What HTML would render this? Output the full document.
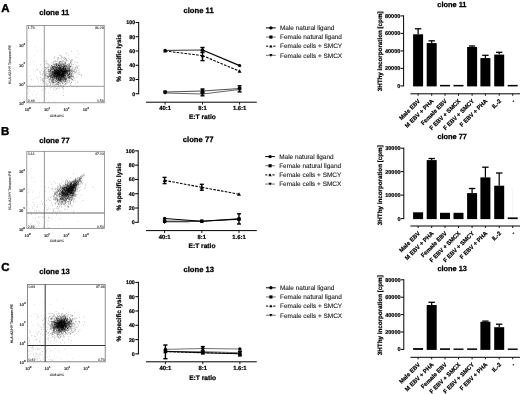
<!DOCTYPE html>
<html><head><meta charset="utf-8"><title>Figure</title>
<style>
html,body{margin:0;padding:0;background:#fff;overflow:hidden;}
svg{display:block;font-family:'Liberation Sans', Arial, sans-serif;text-rendering:geometricPrecision;}
</style></head>
<body>
<svg width="520" height="394" viewBox="0 0 520 394">
<defs><filter id="soft" x="0" y="0" width="100%" height="100%" filterUnits="userSpaceOnUse" color-interpolation-filters="sRGB"><feGaussianBlur stdDeviation="0.4"/></filter></defs>
<rect width="520" height="394" fill="#fff"/>
<g filter="url(#soft)">
<rect width="520" height="394" fill="#fff"/>
<text x="1.30" y="12.10" font-size="11.5" font-weight="bold" stroke="#000" stroke-width="0.40" text-anchor="start" fill="#000">A</text>
<text x="0.90" y="134.80" font-size="11.5" font-weight="bold" stroke="#000" stroke-width="0.40" text-anchor="start" fill="#000">B</text>
<text x="1.30" y="270.60" font-size="11.5" font-weight="bold" stroke="#000" stroke-width="0.40" text-anchor="start" fill="#000">C</text>
<text x="39.30" y="15.00" font-size="7.6" font-weight="bold" stroke="#000" stroke-width="0.27" text-anchor="start" fill="#000">clone 11</text>
<path d="M61.8 79.9h.55M51.7 72.5h.55M61.0 69.7h.55M56.4 73.6h.55M52.7 64.8h.55M50.3 75.2h.55M55.6 73.4h.55M63.0 74.6h.55M54.7 73.4h.55M62.0 76.1h.55M63.1 63.6h.55M56.6 70.2h.55M70.5 65.3h.55M61.1 66.0h.55M69.2 70.4h.55M54.2 73.3h.55M65.1 73.5h.55M55.2 72.7h.55M58.2 79.2h.55M60.0 68.4h.55M58.2 74.8h.55M51.3 68.3h.55M62.8 67.4h.55M70.8 70.4h.55M55.7 70.1h.55M52.8 79.6h.55M56.8 76.1h.55M52.2 67.8h.55M57.1 77.1h.55M71.3 71.5h.55M62.7 76.4h.55M62.7 72.0h.55M56.6 69.1h.55M56.2 73.4h.55M56.2 71.1h.55M54.3 77.9h.55M62.0 75.8h.55M55.0 84.3h.55M71.0 74.6h.55M57.0 73.3h.55M68.0 77.5h.55M68.6 73.5h.55M49.6 67.1h.55M59.9 65.7h.55M60.8 81.0h.55M44.9 67.5h.55M64.6 75.4h.55M51.0 77.9h.55M65.0 73.1h.55M59.8 71.8h.55M65.1 73.5h.55M58.0 73.0h.55M59.4 66.0h.55M64.8 78.2h.55M59.0 65.2h.55M52.6 78.0h.55M47.2 77.0h.55M60.6 64.7h.55M55.8 88.4h.55M64.1 68.1h.55M55.1 69.7h.55M61.1 70.6h.55M60.5 78.8h.55M61.2 77.6h.55M63.1 73.8h.55M70.9 61.7h.55M54.2 71.3h.55M57.3 76.7h.55M53.1 79.4h.55M53.6 74.2h.55M63.2 67.9h.55M61.3 66.3h.55M63.2 71.4h.55M58.0 71.6h.55M71.7 69.1h.55M60.2 78.8h.55M55.5 70.7h.55M67.4 81.8h.55M58.1 83.6h.55M45.7 72.6h.55M58.3 75.9h.55M57.4 76.7h.55M59.0 74.2h.55M68.9 69.3h.55M64.8 72.2h.55M63.8 75.2h.55M55.5 75.9h.55M58.2 73.9h.55M62.5 71.3h.55M63.6 74.0h.55M60.8 75.9h.55M69.5 75.0h.55M63.6 67.8h.55M60.4 69.7h.55M57.4 70.5h.55M65.3 66.7h.55M52.0 75.5h.55M67.2 70.8h.55M72.2 79.2h.55M70.0 72.6h.55M54.5 66.5h.55M59.7 78.5h.55M57.5 75.1h.55M54.4 75.4h.55M57.8 72.9h.55M54.7 69.2h.55M54.4 71.8h.55M67.2 72.8h.55M51.1 80.8h.55M64.2 75.5h.55M62.6 71.4h.55M56.0 61.3h.55M57.3 68.0h.55M62.1 64.1h.55M67.9 65.4h.55M57.4 82.9h.55M61.8 78.4h.55M58.7 62.7h.55M59.8 75.4h.55M63.1 73.7h.55M55.2 69.5h.55M68.7 69.1h.55M60.8 70.7h.55M56.6 83.5h.55M63.6 75.7h.55M55.3 78.2h.55M53.0 72.8h.55M58.5 84.5h.55M54.2 71.2h.55M58.2 80.4h.55M56.9 70.7h.55M48.7 69.3h.55M56.9 73.7h.55M69.1 77.0h.55M56.1 67.6h.55M55.7 71.8h.55M70.6 66.0h.55M59.3 76.6h.55M59.1 73.4h.55M56.8 72.7h.55M53.0 75.8h.55M59.0 76.2h.55M65.4 67.4h.55M51.2 77.4h.55M62.2 74.1h.55M63.4 73.4h.55M64.5 73.1h.55M71.7 76.8h.55M60.8 63.9h.55M60.8 70.6h.55M57.3 67.3h.55M63.0 92.1h.55M68.3 72.3h.55M62.2 73.3h.55M69.4 63.8h.55M57.1 73.5h.55M48.9 72.3h.55M63.3 88.0h.55M63.3 66.9h.55M60.1 72.6h.55M55.0 75.1h.55M64.9 72.6h.55M45.8 84.1h.55M76.8 67.2h.55M66.3 74.5h.55M64.0 82.4h.55M55.6 79.1h.55M58.8 73.0h.55M59.9 80.1h.55M56.2 72.1h.55M52.5 76.2h.55M59.3 68.7h.55M62.5 68.6h.55M78.6 73.0h.55M56.2 72.8h.55M54.3 77.0h.55M54.0 61.0h.55M62.2 75.2h.55M52.9 85.2h.55M49.5 69.6h.55M74.3 71.8h.55M61.3 77.8h.55M61.1 73.8h.55M69.9 72.5h.55M63.2 73.9h.55M57.0 73.1h.55M58.0 73.4h.55M56.1 76.8h.55M62.5 68.9h.55M49.2 75.5h.55M54.5 76.7h.55M62.3 68.1h.55M59.7 74.4h.55M54.3 67.6h.55M63.5 71.3h.55M46.7 63.8h.55M56.5 70.9h.55M56.6 71.2h.55M60.1 81.5h.55M58.5 75.7h.55M56.6 69.8h.55M56.4 72.8h.55M64.9 71.2h.55M62.5 76.3h.55M59.5 70.1h.55M52.6 80.6h.55M53.1 78.3h.55M60.0 70.6h.55M63.1 77.2h.55M57.1 65.6h.55M58.1 65.6h.55M57.2 67.1h.55M67.9 71.2h.55M58.0 64.3h.55M58.7 85.3h.55M71.8 79.5h.55M63.5 69.1h.55M58.9 65.2h.55M52.8 77.8h.55M64.2 70.1h.55M68.8 68.4h.55M51.7 65.9h.55M62.9 72.9h.55M55.6 81.7h.55M61.7 68.3h.55M56.7 71.9h.55M63.5 77.8h.55M50.1 77.3h.55M62.0 75.5h.55M71.5 69.4h.55M70.1 83.1h.55M55.8 74.9h.55M57.4 59.7h.55M58.1 82.5h.55M65.5 75.1h.55M53.3 66.3h.55M56.3 81.5h.55M58.5 73.0h.55M52.9 66.5h.55M61.0 78.4h.55M69.1 75.7h.55M59.4 61.6h.55M59.2 67.8h.55M56.3 67.5h.55M52.5 71.0h.55M56.9 70.5h.55M63.8 78.4h.55M58.1 71.3h.55M69.4 76.5h.55M55.0 72.6h.55M57.0 68.1h.55M65.0 66.9h.55M58.3 75.0h.55M65.7 75.3h.55M55.5 75.2h.55M53.2 73.3h.55M61.4 75.1h.55M61.4 76.9h.55M69.8 77.9h.55M64.5 70.7h.55M69.3 73.5h.55M53.8 80.7h.55M52.6 66.5h.55M64.1 69.1h.55M67.4 76.9h.55M58.8 73.1h.55M55.6 68.9h.55M64.2 66.8h.55M57.5 75.5h.55M58.1 79.4h.55M67.5 67.6h.55M57.1 66.3h.55M64.8 77.1h.55M54.9 80.4h.55M59.4 71.9h.55M52.8 73.0h.55M59.9 80.3h.55M61.3 69.1h.55M61.0 75.9h.55M57.3 74.6h.55M54.2 65.8h.55M65.5 72.2h.55M63.7 64.4h.55M66.0 66.0h.55M59.6 67.4h.55M61.1 82.0h.55M62.8 79.1h.55M56.6 67.7h.55M60.1 67.4h.55M53.6 68.4h.55M52.8 78.2h.55M73.6 73.2h.55M49.3 71.7h.55M51.3 65.5h.55M56.0 64.9h.55M54.4 64.7h.55M76.7 70.2h.55M45.1 74.0h.55M55.1 75.0h.55M62.9 75.4h.55M48.1 69.6h.55M57.1 75.7h.55M71.1 78.5h.55M46.6 71.6h.55M49.5 76.3h.55M63.3 80.3h.55M59.1 75.0h.55M52.6 82.2h.55M52.4 67.4h.55M71.3 75.8h.55M65.9 72.0h.55M66.3 70.0h.55M70.3 78.9h.55M66.1 70.4h.55M63.0 78.7h.55M68.6 70.2h.55M62.1 75.2h.55M56.4 71.4h.55M58.0 71.4h.55M57.0 73.2h.55M64.0 71.6h.55M61.2 85.1h.55M63.5 73.6h.55M47.9 65.0h.55M68.9 63.7h.55M64.4 85.1h.55M59.4 79.8h.55M57.7 60.0h.55M75.7 73.9h.55M56.9 66.6h.55M50.9 67.1h.55M55.2 82.3h.55M63.0 65.9h.55M53.2 68.8h.55M52.9 68.4h.55M55.2 74.8h.55M61.3 67.6h.55M55.7 63.7h.55M61.1 70.4h.55M54.0 67.7h.55M49.0 74.4h.55M69.0 77.9h.55M49.5 74.9h.55M65.5 71.4h.55M63.8 70.1h.55M51.1 77.7h.55M59.6 74.9h.55M61.6 77.1h.55M54.1 72.6h.55M63.0 85.4h.55M57.1 72.7h.55M47.5 76.6h.55M67.7 74.4h.55M64.8 68.7h.55M57.8 72.8h.55M63.8 68.7h.55M65.4 77.8h.55M63.6 68.7h.55M46.7 73.8h.55M52.9 82.3h.55M58.8 65.4h.55M58.2 77.1h.55M54.2 75.0h.55M54.7 82.2h.55M68.6 78.3h.55M58.1 70.3h.55M64.8 81.9h.55M51.3 65.6h.55M59.3 72.3h.55M60.3 70.0h.55M70.2 74.7h.55M65.2 69.3h.55M62.6 68.1h.55M56.0 76.2h.55M62.7 66.9h.55M64.3 77.0h.55M59.6 74.3h.55M61.6 71.0h.55M55.9 63.9h.55M49.0 71.8h.55M65.5 78.7h.55M58.7 73.5h.55M61.2 63.9h.55M60.7 79.3h.55M67.6 78.2h.55M65.8 67.1h.55M56.9 73.8h.55M54.7 70.4h.55M63.5 61.5h.55M65.7 65.3h.55M69.2 71.9h.55M61.1 61.6h.55M43.6 73.1h.55M69.5 76.9h.55M51.1 69.1h.55M67.5 65.1h.55M52.6 73.4h.55M64.9 71.3h.55M50.5 68.0h.55M60.3 65.2h.55M49.4 86.1h.55M54.0 73.9h.55M52.8 63.4h.55M56.3 66.6h.55M67.0 66.9h.55M63.0 75.2h.55M56.1 75.5h.55M66.8 74.6h.55M62.5 78.7h.55M61.5 57.2h.55M66.1 83.0h.55M56.8 72.8h.55M55.3 77.1h.55M56.4 71.1h.55M59.8 74.1h.55M62.3 66.0h.55M60.6 78.1h.55M56.8 76.6h.55M60.8 87.0h.55M60.0 78.7h.55M48.1 76.7h.55M59.9 78.7h.55M50.1 77.5h.55M57.9 74.0h.55M69.1 76.4h.55M59.0 63.7h.55M58.3 63.9h.55M66.2 71.2h.55M67.2 76.7h.55M69.4 71.6h.55M58.8 81.4h.55M54.7 75.8h.55M59.4 72.8h.55M52.0 71.7h.55M56.6 73.4h.55M58.1 72.1h.55M45.9 73.5h.55M58.8 74.8h.55M56.9 76.4h.55M58.8 78.7h.55M69.2 70.3h.55M67.8 71.9h.55M65.7 66.0h.55M62.4 80.0h.55M56.9 75.5h.55M49.9 70.7h.55M72.1 67.1h.55M63.5 78.8h.55M44.9 70.1h.55M47.1 85.4h.55M55.4 76.4h.55M45.2 77.8h.55M63.0 72.8h.55M69.0 72.9h.55M61.1 74.5h.55M56.1 68.3h.55M50.4 70.2h.55M52.1 66.5h.55M56.4 69.5h.55M58.7 69.8h.55M71.6 63.4h.55M60.4 76.3h.55M65.7 59.5h.55M64.9 70.4h.55M62.6 67.7h.55M56.2 79.5h.55M54.0 69.6h.55M59.2 72.2h.55M70.0 74.9h.55M58.7 70.7h.55M52.4 79.5h.55M56.5 80.7h.55M53.6 67.9h.55M63.8 77.4h.55M64.7 71.8h.55M59.7 81.1h.55M53.3 79.9h.55M62.4 77.3h.55M56.5 73.1h.55M52.4 78.0h.55M66.5 78.1h.55M62.4 75.5h.55M69.2 70.1h.55M64.3 66.3h.55M74.9 80.4h.55M61.2 73.9h.55M53.0 74.4h.55M54.8 67.0h.55M58.1 71.2h.55M57.2 74.8h.55M65.7 61.0h.55M67.3 74.9h.55M58.0 75.8h.55M68.3 55.6h.55M63.3 70.1h.55M64.2 73.7h.55M59.2 66.6h.55M65.6 72.1h.55M59.4 72.7h.55M45.7 75.7h.55M57.8 68.1h.55M63.0 74.9h.55M56.3 73.1h.55M57.7 73.9h.55M66.6 52.8h.55M47.1 81.3h.55M57.7 64.0h.55M69.8 77.5h.55M76.6 66.2h.55M54.9 75.2h.55M55.2 73.6h.55M43.8 72.0h.55M68.7 71.8h.55M51.2 75.2h.55M52.8 72.1h.55M69.4 77.9h.55M52.7 83.5h.55M60.9 66.2h.55M66.8 69.6h.55M57.2 76.5h.55M69.1 71.3h.55M60.0 73.4h.55M59.8 71.8h.55M56.6 74.6h.55M57.6 69.8h.55M57.4 73.0h.55M73.7 71.5h.55M63.0 77.1h.55M60.8 72.1h.55M58.7 73.2h.55M60.0 63.0h.55M46.4 68.2h.55M63.1 75.6h.55M58.5 76.5h.55M57.2 80.7h.55M62.5 88.2h.55M66.5 72.2h.55M61.4 69.5h.55M60.4 80.8h.55M63.3 68.0h.55M56.4 77.0h.55M49.6 81.7h.55M58.1 71.6h.55M58.4 72.4h.55M68.4 70.5h.55M60.7 71.4h.55M65.2 80.7h.55M57.1 78.9h.55M62.2 66.6h.55M62.1 73.6h.55M61.8 71.3h.55M54.6 76.2h.55M65.4 68.9h.55M64.3 72.6h.55M66.9 69.9h.55M55.8 74.3h.55M64.7 68.1h.55M60.0 75.6h.55M54.7 73.7h.55M70.2 77.8h.55M58.8 75.5h.55M56.6 68.2h.55M62.3 73.6h.55M53.8 75.1h.55M78.7 66.0h.55M59.8 80.1h.55M59.4 86.9h.55M53.3 82.3h.55M52.2 67.6h.55M55.7 77.5h.55M64.1 74.9h.55M56.7 71.3h.55M60.4 71.3h.55M58.0 71.2h.55M53.8 64.1h.55M59.2 63.8h.55M63.7 74.7h.55M59.7 72.4h.55M61.9 81.0h.55M68.1 75.4h.55M68.6 67.8h.55M57.7 68.9h.55M59.8 77.0h.55M67.2 70.4h.55M59.4 62.3h.55M59.9 68.5h.55M50.5 70.9h.55M48.8 73.3h.55M49.0 79.1h.55M58.4 77.8h.55M56.6 81.7h.55M48.9 74.3h.55M63.6 57.0h.55M63.5 76.1h.55M57.9 74.2h.55M61.2 69.0h.55M62.3 74.4h.55M71.9 73.4h.55M68.7 69.5h.55M63.3 69.9h.55M64.7 65.1h.55M59.8 66.9h.55M44.3 75.2h.55M63.2 68.9h.55M62.9 58.4h.55M62.1 74.0h.55M69.2 70.2h.55M67.4 70.5h.55M58.6 76.0h.55M56.3 70.0h.55M54.0 72.2h.55M59.0 77.1h.55M60.0 65.8h.55M54.6 68.3h.55M63.8 65.6h.55M54.6 73.5h.55M74.9 72.5h.55M50.1 85.7h.55M63.6 72.2h.55M58.3 78.3h.55M58.2 67.3h.55M56.4 77.3h.55M67.6 68.6h.55M58.4 73.3h.55M58.0 77.8h.55M56.6 73.2h.55M69.2 73.5h.55M54.4 85.4h.55M60.2 72.6h.55M53.4 82.7h.55M59.0 77.1h.55M65.6 74.4h.55M64.9 70.6h.55M60.1 70.2h.55M71.7 64.8h.55M57.9 73.1h.55M63.1 74.3h.55M57.1 78.4h.55M65.0 71.4h.55M60.8 67.7h.55M69.1 69.6h.55M68.6 82.2h.55M60.3 71.5h.55M65.3 81.6h.55M65.6 70.3h.55M64.6 70.8h.55M61.9 78.3h.55M68.7 70.1h.55M49.4 73.1h.55M59.8 67.9h.55M75.9 67.5h.55M52.2 72.5h.55M71.8 70.8h.55M61.1 78.0h.55M54.1 73.1h.55M54.9 64.3h.55M53.5 75.7h.55M55.0 80.2h.55M61.6 71.5h.55M62.3 60.7h.55M61.1 73.3h.55M67.8 74.4h.55M60.2 75.3h.55M62.1 62.4h.55M56.2 77.3h.55M60.1 70.4h.55M61.6 71.6h.55M60.2 61.6h.55M53.0 66.6h.55M61.7 70.6h.55M56.1 65.0h.55M53.7 78.3h.55M57.3 80.6h.55M60.2 55.4h.55M60.0 80.1h.55M52.1 72.2h.55M61.0 74.1h.55M70.1 66.2h.55M66.3 79.8h.55M66.4 79.7h.55M57.4 64.4h.55M45.0 71.9h.55M58.8 82.7h.55M61.4 65.7h.55M53.7 75.1h.55M65.9 65.2h.55M63.8 77.1h.55M62.7 75.7h.55M51.8 82.3h.55M53.1 81.8h.55M71.7 76.2h.55M57.8 72.9h.55M64.3 62.9h.55M66.8 70.8h.55M66.0 66.6h.55M64.8 75.2h.55M61.6 71.6h.55M51.4 73.7h.55M54.7 68.6h.55M58.2 74.1h.55M58.2 70.8h.55M65.9 69.5h.55M64.4 77.3h.55M52.6 68.4h.55M55.4 71.6h.55M56.5 71.3h.55M70.5 75.4h.55M55.4 67.5h.55M70.8 66.8h.55M66.7 68.9h.55M58.4 81.5h.55M64.3 79.3h.55M52.2 72.8h.55M71.5 74.2h.55M59.8 86.0h.55M52.4 79.5h.55M48.1 70.6h.55M58.4 71.9h.55M50.2 79.0h.55M80.8 74.4h.55M66.7 75.3h.55M63.3 73.3h.55M56.4 75.1h.55M67.9 78.4h.55M57.5 73.6h.55M54.8 71.6h.55M48.7 77.6h.55M58.2 75.4h.55M63.7 65.4h.55M59.1 75.2h.55M52.4 77.8h.55M67.4 73.7h.55M56.4 79.6h.55M56.0 67.4h.55M51.7 71.4h.55M54.0 66.1h.55M54.1 70.4h.55M55.9 84.0h.55M51.0 69.2h.55M64.4 66.9h.55M56.4 76.0h.55M59.4 74.9h.55M57.4 77.4h.55M49.5 75.8h.55M55.9 63.9h.55M67.0 67.1h.55M67.5 72.0h.55M52.9 72.6h.55M62.2 69.5h.55M58.3 70.4h.55M57.8 75.2h.55M59.0 77.4h.55M60.0 73.7h.55M49.1 75.9h.55M55.2 74.6h.55M62.1 69.7h.55M65.0 71.5h.55M63.1 69.7h.55M52.3 74.4h.55M53.4 76.3h.55M53.8 71.3h.55M63.1 86.6h.55M56.5 79.5h.55M59.9 77.7h.55M65.9 66.4h.55M58.6 77.8h.55M62.3 71.2h.55M62.0 71.2h.55M65.2 63.4h.55M57.9 63.8h.55M65.0 67.7h.55M66.9 72.1h.55M62.7 71.6h.55M65.1 67.2h.55M57.5 75.5h.55M63.5 73.8h.55M59.2 73.9h.55M49.8 73.6h.55M58.2 75.6h.55M59.8 66.3h.55M56.3 75.3h.55M59.9 72.9h.55M58.7 68.1h.55M55.7 64.0h.55M58.1 65.0h.55M63.4 75.6h.55M61.1 69.7h.55M56.7 72.1h.55M62.1 69.8h.55M52.0 78.7h.55M55.5 67.3h.55M54.5 67.1h.55M55.6 67.7h.55M45.8 67.5h.55M54.0 78.8h.55M70.8 68.1h.55M53.1 80.9h.55M69.6 66.8h.55M65.9 65.1h.55M67.0 80.7h.55M59.1 71.6h.55M63.3 75.2h.55M54.7 69.0h.55M49.7 69.6h.55M62.7 74.2h.55M49.3 73.8h.55M60.5 79.6h.55M58.2 79.3h.55M54.3 75.6h.55M57.8 78.3h.55M62.9 80.5h.55M71.1 64.2h.55M52.1 77.2h.55M64.8 73.2h.55M52.8 71.6h.55M55.4 73.2h.55M60.9 71.9h.55M51.8 68.8h.55M63.5 75.2h.55M65.4 62.2h.55M56.8 73.5h.55M61.4 72.9h.55M70.6 85.5h.55M65.7 68.5h.55M68.4 67.8h.55M51.0 75.3h.55M55.9 71.1h.55M49.4 76.6h.55M69.1 74.1h.55M63.5 74.9h.55M59.8 74.1h.55M58.1 68.1h.55M70.9 74.7h.55M61.6 73.7h.55M60.1 61.3h.55M70.2 77.3h.55M64.5 69.1h.55M68.5 67.1h.55M62.2 70.7h.55M59.8 69.1h.55M63.8 71.3h.55M58.1 72.3h.55M50.0 76.6h.55M58.3 69.4h.55M52.5 69.1h.55M68.8 64.5h.55M54.8 67.7h.55M52.4 74.6h.55M69.3 68.5h.55M48.1 71.3h.55M69.1 72.7h.55M53.9 79.9h.55M62.6 72.8h.55M60.1 79.0h.55M47.0 75.7h.55M51.9 73.0h.55M55.3 68.7h.55M65.6 73.1h.55M67.1 75.3h.55M63.8 71.8h.55M60.3 70.6h.55M61.1 78.1h.55M39.5 72.0h.55M58.2 72.1h.55M66.3 72.2h.55M65.6 70.4h.55M49.7 64.4h.55M59.5 75.1h.55M67.0 73.3h.55M57.7 71.3h.55M51.0 67.9h.55M56.0 72.4h.55M66.5 69.6h.55M63.7 75.9h.55M69.2 68.7h.55M65.5 79.6h.55M68.8 75.8h.55M71.6 71.0h.55M61.7 74.1h.55M61.7 61.2h.55M71.8 76.3h.55M57.8 68.3h.55M53.7 70.2h.55M63.1 64.8h.55M56.1 84.4h.55M66.7 72.0h.55M57.6 84.8h.55M75.3 68.7h.55M54.2 65.9h.55M58.2 74.0h.55M55.1 70.6h.55M57.0 69.9h.55M57.0 74.1h.55M60.6 64.4h.55M52.0 80.9h.55M54.1 70.4h.55M65.1 80.1h.55M54.6 69.3h.55M60.4 73.1h.55M60.2 67.1h.55M53.6 77.5h.55M59.3 63.9h.55M64.0 71.2h.55M54.5 72.0h.55M53.8 75.0h.55M60.8 56.8h.55M65.3 62.6h.55M61.8 73.8h.55M51.8 74.8h.55M71.0 82.2h.55M58.1 71.6h.55M59.9 65.0h.55M57.0 75.4h.55M52.3 80.9h.55M56.9 80.4h.55M61.4 69.7h.55M58.7 66.0h.55M60.7 70.5h.55M56.2 73.6h.55M72.0 69.2h.55M48.9 65.7h.55M64.9 71.2h.55M67.6 67.3h.55M57.9 65.9h.55M59.1 75.2h.55M68.0 70.4h.55M53.4 73.6h.55M58.5 76.6h.55M63.1 77.2h.55M56.4 68.3h.55M58.3 78.0h.55M54.3 70.8h.55M59.4 80.5h.55M60.5 79.1h.55M52.1 74.8h.55M55.7 72.4h.55M53.5 74.2h.55M63.5 71.6h.55M61.1 74.5h.55M55.5 67.6h.55M64.6 73.4h.55M57.3 74.1h.55M45.7 83.2h.55M61.6 76.4h.55M52.4 77.1h.55M70.9 70.2h.55M62.9 83.8h.55M73.6 77.4h.55M62.4 77.3h.55M62.1 73.3h.55M53.2 75.4h.55M53.4 74.4h.55M62.2 71.1h.55M62.9 71.4h.55M49.9 69.5h.55M70.1 69.9h.55M51.2 81.4h.55M53.7 81.8h.55M64.6 72.3h.55M75.3 65.1h.55M53.9 66.2h.55M70.6 62.7h.55M60.3 79.4h.55M46.2 85.0h.55M65.7 58.6h.55M60.5 78.8h.55M69.0 67.6h.55M62.6 72.6h.55M61.7 75.5h.55M53.4 75.5h.55M58.2 84.8h.55M64.4 66.1h.55M59.4 83.7h.55M60.3 79.2h.55M63.0 77.5h.55M64.5 75.7h.55M57.8 76.1h.55M52.8 81.4h.55M64.6 76.9h.55M71.5 75.5h.55M43.6 81.2h.55M56.5 74.8h.55M53.8 72.8h.55M55.0 73.5h.55M62.3 73.6h.55M57.2 64.8h.55M47.0 78.2h.55M71.4 76.2h.55M59.9 74.7h.55M53.8 70.5h.55M77.3 67.9h.55M59.4 79.3h.55M63.7 71.0h.55M56.5 72.9h.55M61.3 74.6h.55M67.9 80.0h.55M65.1 72.3h.55M60.4 69.6h.55M57.7 79.9h.55M51.4 79.3h.55M63.5 77.3h.55M68.3 71.4h.55M57.1 77.5h.55M64.3 64.0h.55M48.5 74.1h.55M67.7 64.4h.55M61.2 79.7h.55M61.3 79.7h.55M58.9 76.4h.55M53.0 73.4h.55M57.2 72.1h.55M64.5 75.7h.55M64.7 72.4h.55M64.3 71.6h.55M64.5 78.1h.55M59.3 74.0h.55M45.2 61.6h.55M62.4 57.4h.55M60.4 75.5h.55M56.2 75.8h.55M67.7 80.6h.55M57.5 72.4h.55M67.3 73.3h.55M62.1 70.0h.55M58.9 74.6h.55M66.7 78.0h.55M64.3 65.6h.55M58.2 74.3h.55M58.8 71.1h.55M58.8 70.3h.55M71.1 73.8h.55M65.8 70.1h.55M55.5 74.5h.55M41.0 70.9h.55M64.6 72.1h.55M51.2 74.2h.55M70.4 76.2h.55M65.3 70.3h.55M53.5 71.2h.55M63.4 74.7h.55M61.6 74.1h.55M65.6 70.7h.55M64.3 63.1h.55M49.9 78.4h.55M52.9 69.7h.55M59.8 71.8h.55M69.5 73.2h.55M64.1 70.6h.55M70.8 75.2h.55M55.9 76.3h.55M64.7 68.5h.55M52.1 73.7h.55M58.6 74.1h.55M69.1 78.7h.55M72.5 70.5h.55M58.1 64.5h.55M58.7 76.2h.55M58.4 68.8h.55M58.9 79.4h.55M61.2 82.1h.55M55.9 78.4h.55M50.5 72.1h.55M63.9 74.6h.55M59.1 81.6h.55M53.2 75.9h.55M58.2 71.9h.55M61.5 70.0h.55M53.7 72.2h.55M62.4 73.2h.55M62.7 70.9h.55M73.8 71.0h.55M62.1 73.5h.55M54.8 64.3h.55M45.4 78.3h.55M56.0 64.5h.55M56.5 76.6h.55M62.2 74.2h.55M51.2 74.3h.55M67.0 78.9h.55M57.5 73.4h.55M45.5 78.9h.55M60.8 75.0h.55M62.1 74.3h.55M57.4 70.8h.55M61.4 75.0h.55M57.9 77.5h.55M54.9 76.5h.55M55.6 72.8h.55M62.5 78.6h.55M72.1 72.1h.55M37.3 70.0h.55M47.7 67.4h.55M59.7 82.5h.55M49.1 71.6h.55M65.4 63.8h.55M54.7 72.7h.55M60.1 74.7h.55M58.0 76.8h.55M56.6 65.3h.55M46.7 61.9h.55M51.3 72.4h.55M60.2 70.2h.55M62.0 72.4h.55M59.9 67.1h.55M53.7 71.8h.55M51.4 74.8h.55M64.8 74.1h.55M53.0 70.1h.55M63.7 79.9h.55M64.7 67.0h.55M57.0 67.3h.55M72.4 60.2h.55M58.5 77.2h.55M56.8 76.2h.55M68.4 74.4h.55M51.7 71.7h.55M53.5 73.0h.55M59.2 75.4h.55M71.1 77.9h.55M64.9 71.1h.55M63.5 74.6h.55M57.2 74.1h.55M51.6 77.2h.55M57.9 57.8h.55M61.1 71.2h.55M63.8 67.2h.55M57.7 79.6h.55M49.9 82.4h.55M64.5 73.2h.55M69.2 74.4h.55M56.7 70.7h.55M60.1 71.7h.55M65.7 78.8h.55M42.0 83.0h.55M53.6 75.9h.55M65.2 83.7h.55M62.6 74.5h.55M61.4 76.0h.55M61.0 76.1h.55M67.4 70.4h.55M49.9 70.4h.55M65.9 79.0h.55M58.9 79.4h.55M73.7 69.9h.55M65.5 63.8h.55M59.1 80.0h.55M67.3 64.8h.55M63.2 71.5h.55M71.4 82.3h.55M55.7 72.4h.55M66.5 84.1h.55M45.4 74.7h.55M59.6 80.2h.55M66.2 68.0h.55M50.5 72.0h.55M60.5 65.4h.55M65.6 75.2h.55M63.0 64.9h.55M66.4 81.0h.55M58.0 70.5h.55M59.6 75.6h.55M56.4 64.0h.55M57.8 72.5h.55M52.7 67.6h.55M52.7 72.3h.55M72.5 76.7h.55M63.7 73.9h.55M62.6 78.3h.55M54.9 80.7h.55M53.1 65.9h.55M70.7 70.9h.55M66.6 73.6h.55M56.8 66.0h.55M64.7 65.2h.55M65.2 70.2h.55M57.8 81.0h.55M65.1 68.2h.55M51.8 80.3h.55M55.0 61.3h.55M66.5 71.9h.55M66.7 82.0h.55M59.9 74.5h.55M65.2 65.5h.55M63.2 68.4h.55M62.0 74.4h.55M60.1 78.5h.55M68.7 71.5h.55M60.9 81.5h.55M61.9 74.2h.55M65.7 73.6h.55M56.6 70.4h.55M62.7 71.9h.55M54.7 68.0h.55M54.0 72.8h.55M50.5 83.9h.55M61.6 68.9h.55M45.8 80.6h.55M55.9 71.7h.55M62.0 76.8h.55M54.9 69.7h.55M52.8 76.7h.55M67.4 76.3h.55M62.3 76.6h.55M64.0 73.7h.55M70.6 71.8h.55M69.7 71.0h.55M75.6 67.9h.55M56.3 76.7h.55M51.0 69.6h.55M52.8 84.0h.55M66.2 66.6h.55M63.5 71.7h.55M55.1 60.5h.55M56.0 72.7h.55M67.7 75.9h.55M63.9 78.1h.55M56.2 72.2h.55M54.0 79.1h.55M60.7 63.7h.55M64.3 75.0h.55M64.2 81.5h.55M58.7 74.3h.55M56.2 69.1h.55M59.8 69.2h.55M71.8 59.5h.55M54.8 71.9h.55M58.5 65.1h.55M64.8 75.8h.55M58.6 70.4h.55M50.5 75.3h.55M63.9 78.1h.55M71.6 72.5h.55M65.7 66.8h.55M64.4 72.3h.55M59.8 74.6h.55M60.9 80.4h.55M50.7 79.6h.55M54.8 72.3h.55M67.7 73.9h.55M61.1 77.3h.55M75.3 83.3h.55M67.9 70.7h.55M51.8 67.6h.55M60.4 61.5h.55M65.9 60.3h.55M59.8 74.6h.55M63.9 78.8h.55M51.4 75.4h.55M61.0 71.1h.55M64.8 78.8h.55M58.0 71.6h.55M62.2 75.3h.55M62.9 73.8h.55M62.3 79.8h.55M50.7 67.7h.55M62.1 76.3h.55M64.0 76.2h.55M58.8 76.6h.55M60.8 74.4h.55M54.5 66.3h.55M64.1 66.0h.55M50.1 77.5h.55M58.0 74.5h.55M62.1 68.2h.55M54.2 72.6h.55M50.6 76.8h.55M59.1 72.0h.55M60.5 73.0h.55M54.1 87.7h.55M67.5 72.1h.55M54.3 69.6h.55M63.2 69.5h.55M75.8 71.9h.55M60.1 72.4h.55M59.8 74.4h.55M46.0 78.1h.55M54.1 71.8h.55M57.3 72.0h.55M59.5 68.1h.55M65.7 73.8h.55M56.1 76.7h.55M64.5 73.4h.55M76.9 73.2h.55M60.6 74.3h.55M52.1 73.0h.55M53.4 72.5h.55M56.0 71.9h.55M60.2 81.0h.55M63.0 68.7h.55M62.4 74.0h.55M42.2 75.1h.55M71.4 66.0h.55M68.8 67.4h.55M58.3 68.2h.55M61.2 62.3h.55M57.6 69.6h.55M54.8 80.4h.55M64.6 69.7h.55M60.7 77.1h.55M70.0 69.7h.55M48.3 76.1h.55M58.5 73.6h.55M68.6 75.9h.55M58.4 74.5h.55M56.5 78.5h.55M72.2 72.2h.55M63.6 73.0h.55M62.9 67.5h.55M53.9 74.9h.55M61.1 71.2h.55M59.3 73.3h.55M73.0 64.5h.55M62.3 76.6h.55M50.0 71.0h.55M48.0 77.3h.55M55.9 71.5h.55M65.6 79.6h.55M60.9 72.5h.55M55.2 84.3h.55M68.6 69.8h.55M62.4 82.7h.55M44.4 77.7h.55M58.6 78.6h.55M52.1 74.0h.55M53.3 71.5h.55M73.9 61.7h.55M59.4 78.0h.55M70.7 60.3h.55M54.6 56.3h.55M57.6 79.9h.55M78.9 72.2h.55M62.8 80.6h.55M57.4 73.0h.55M60.1 78.8h.55M58.3 74.3h.55M69.0 73.7h.55M62.0 83.3h.55M59.3 73.4h.55M64.3 76.4h.55M59.5 69.9h.55M52.2 85.9h.55M60.6 67.8h.55M51.2 71.7h.55M41.8 78.3h.55M51.5 69.0h.55M61.2 79.4h.55M55.8 72.0h.55M45.4 82.2h.55M59.8 70.4h.55M63.0 80.4h.55M64.1 72.7h.55M66.2 78.9h.55M61.6 78.1h.55M54.9 72.0h.55M56.4 80.0h.55M67.4 75.5h.55M37.0 78.9h.55M53.3 68.3h.55M55.6 71.8h.55M54.5 75.1h.55M68.2 77.5h.55M59.1 68.4h.55M57.4 69.1h.55M56.7 74.4h.55M62.6 76.7h.55M68.6 76.6h.55M74.1 78.6h.55M57.8 73.0h.55M64.7 75.4h.55M60.0 72.8h.55M52.2 73.6h.55M61.4 75.8h.55M52.4 75.2h.55M58.4 74.5h.55M56.9 83.0h.55M64.9 71.6h.55M60.5 76.9h.55M50.0 76.6h.55M59.7 80.2h.55M65.8 67.7h.55M62.1 73.1h.55M57.1 71.7h.55M47.4 73.5h.55M62.2 79.2h.55M54.5 75.3h.55M58.2 78.9h.55M60.4 77.3h.55M65.1 72.6h.55M68.1 66.3h.55M68.3 78.3h.55M62.7 74.6h.55M64.8 71.1h.55M59.8 68.9h.55M51.5 66.8h.55M59.5 88.7h.55M64.5 72.4h.55M69.1 70.8h.55M71.2 73.8h.55M59.7 63.2h.55M65.1 63.1h.55M62.6 77.5h.55M60.2 66.7h.55M65.0 72.6h.55M75.7 72.0h.55M53.4 61.4h.55M49.8 67.0h.55M62.9 79.0h.55M67.1 60.7h.55M65.1 65.6h.55M59.8 70.2h.55M62.2 69.8h.55M59.6 68.4h.55M57.8 73.8h.55M69.0 80.8h.55M68.9 74.7h.55M65.0 73.7h.55M57.9 78.6h.55M49.6 71.5h.55M42.5 80.6h.55M62.7 64.7h.55M47.6 86.2h.55M61.0 77.3h.55M51.6 76.3h.55M62.3 72.4h.55M54.4 75.1h.55M68.5 75.1h.55M69.3 66.3h.55M52.3 77.0h.55M58.3 74.4h.55M53.1 75.1h.55M72.2 71.1h.55M75.7 57.1h.55M51.3 81.7h.55M62.4 72.2h.55M60.7 78.8h.55M63.1 67.4h.55M63.8 73.0h.55M57.4 71.8h.55M53.3 69.5h.55M59.1 69.6h.55M67.9 77.9h.55M60.1 67.6h.55M57.9 68.3h.55M57.2 78.9h.55M51.6 69.8h.55M63.4 82.7h.55M62.9 79.6h.55M48.0 69.0h.55M53.2 79.6h.55M56.8 83.8h.55M56.9 74.7h.55M55.3 72.8h.55M53.5 63.9h.55M48.0 73.8h.55M56.8 76.0h.55M59.2 74.2h.55M56.7 65.0h.55M64.9 78.6h.55M64.4 66.0h.55M48.3 83.6h.55M49.9 76.2h.55M59.2 77.9h.55M56.0 74.0h.55M67.7 66.9h.55M71.5 78.8h.55M61.9 71.7h.55M58.0 73.9h.55M55.5 71.0h.55M71.9 79.6h.55M63.5 69.5h.55M63.9 68.9h.55M60.8 77.1h.55M66.8 72.8h.55M65.8 78.2h.55M67.6 71.4h.55M53.3 67.4h.55M59.4 74.1h.55M64.5 70.5h.55M54.1 76.2h.55M62.1 71.3h.55M59.0 80.5h.55M56.1 78.3h.55M47.8 68.0h.55M65.3 58.7h.55M51.3 62.8h.55M61.3 76.8h.55M67.6 67.1h.55M62.7 76.3h.55M69.8 71.9h.55M55.9 75.0h.55M60.9 79.7h.55M58.6 73.2h.55M63.0 75.7h.55M62.7 75.8h.55M61.1 78.9h.55M65.0 71.9h.55M58.5 75.7h.55M53.6 77.0h.55M57.4 84.6h.55M53.2 69.1h.55M69.8 73.8h.55M62.7 73.7h.55M63.0 79.3h.55M50.9 69.3h.55M57.9 71.9h.55M69.0 73.9h.55M61.5 74.9h.55M46.8 84.2h.55M52.6 72.8h.55M69.1 77.1h.55M61.9 72.6h.55M62.4 72.7h.55M44.8 75.7h.55M62.0 73.4h.55M56.4 67.3h.55M70.0 66.7h.55M60.1 68.5h.55M64.8 66.2h.55M62.3 71.5h.55M69.2 67.0h.55M57.7 72.8h.55M67.9 68.5h.55M61.4 76.6h.55M71.1 73.3h.55M63.3 72.9h.55M54.6 69.5h.55M64.9 70.7h.55M54.9 71.2h.55M67.7 66.6h.55M59.6 79.2h.55M62.8 70.1h.55M61.1 71.6h.55M65.3 68.7h.55M59.0 73.5h.55M58.6 67.5h.55M62.5 68.0h.55M56.0 81.9h.55M60.5 81.3h.55M61.6 70.6h.55M68.4 71.4h.55M63.1 72.3h.55M56.9 72.3h.55M66.9 70.4h.55M60.7 72.7h.55M55.8 72.8h.55M64.4 80.9h.55M53.5 74.1h.55M65.2 68.8h.55M59.1 77.6h.55M45.2 75.8h.55M58.6 71.2h.55M59.0 71.0h.55M68.1 76.0h.55M61.2 79.5h.55M63.5 73.3h.55M53.3 64.6h.55M69.1 74.3h.55M56.7 63.8h.55M62.9 66.3h.55M65.2 79.8h.55M66.5 82.1h.55M60.4 68.8h.55M51.9 80.5h.55M54.5 85.2h.55M55.3 81.1h.55M69.1 65.8h.55M57.5 74.9h.55M54.8 72.0h.55M56.1 85.3h.55M57.5 78.4h.55M58.1 78.8h.55M57.8 71.1h.55M58.8 74.1h.55M69.4 71.7h.55M59.9 74.3h.55M63.8 74.7h.55M55.0 70.8h.55M59.0 77.7h.55M53.9 69.9h.55M66.0 71.5h.55M69.9 83.9h.55M63.6 67.6h.55M55.3 71.8h.55M73.9 68.1h.55M65.2 68.5h.55M68.4 65.4h.55M60.9 72.1h.55M65.8 67.1h.55M65.5 71.9h.55M59.2 66.1h.55M55.3 70.2h.55M56.5 68.7h.55M58.3 72.5h.55M60.7 75.1h.55M57.9 74.1h.55M57.4 66.4h.55M57.4 61.4h.55M73.3 66.9h.55M63.8 79.6h.55M57.9 79.3h.55M62.8 74.2h.55M54.0 77.3h.55M58.2 73.7h.55M64.4 66.5h.55M69.4 72.1h.55M60.8 68.8h.55M57.2 70.4h.55M56.7 84.1h.55M56.4 70.0h.55M72.1 80.2h.55M55.6 67.6h.55M51.2 66.3h.55M62.4 70.8h.55M60.6 66.4h.55M45.0 75.0h.55M57.8 73.6h.55M69.0 67.1h.55M60.2 77.8h.55M62.7 74.0h.55M63.0 75.1h.55M76.0 71.4h.55M63.0 68.8h.55M75.7 62.3h.55M59.8 85.6h.55M63.3 68.2h.55M57.5 75.1h.55M63.4 70.9h.55M63.3 75.3h.55M57.8 83.2h.55M55.5 77.9h.55M60.5 77.9h.55M69.2 82.0h.55M60.4 80.5h.55M66.4 76.7h.55M57.3 72.7h.55M62.8 67.2h.55M50.9 82.3h.55M59.6 74.1h.55M61.7 62.3h.55M70.0 66.6h.55M59.2 66.7h.55M55.9 76.9h.55M56.4 64.3h.55M61.3 72.4h.55M64.4 59.5h.55M49.2 79.5h.55M64.7 80.3h.55M53.9 77.2h.55M59.8 77.3h.55M51.2 75.9h.55M62.3 75.4h.55M77.4 68.3h.55M62.5 72.1h.55M61.6 74.3h.55M59.5 73.4h.55M61.5 75.0h.55M64.6 77.0h.55M70.6 70.9h.55M55.3 67.2h.55M64.6 78.9h.55M59.5 68.2h.55M78.8 69.3h.55M60.3 76.2h.55M47.5 76.6h.55M58.2 69.6h.55M60.3 72.6h.55M56.2 77.1h.55M64.0 69.1h.55M50.1 70.5h.55M57.9 82.5h.55M56.4 75.4h.55M52.2 77.2h.55M59.8 71.9h.55M54.0 78.5h.55M50.0 74.0h.55M61.3 70.1h.55M57.2 69.9h.55M54.8 76.3h.55M61.6 56.0h.55M73.3 76.9h.55M60.6 73.5h.55M63.2 74.1h.55M68.8 59.2h.55M70.1 70.3h.55M56.4 76.6h.55M58.9 66.1h.55M54.7 72.9h.55M60.0 72.5h.55M61.8 68.3h.55M61.7 65.2h.55M58.2 72.4h.55M51.1 65.5h.55M52.7 74.6h.55M59.8 68.5h.55M62.8 63.8h.55M54.2 73.4h.55M56.9 78.4h.55M62.7 70.8h.55M63.7 77.5h.55M59.5 74.0h.55M55.5 73.8h.55M46.1 71.8h.55M54.4 82.3h.55M68.3 75.2h.55M59.6 77.8h.55M67.7 72.0h.55M65.5 69.4h.55M51.1 74.8h.55M71.7 61.7h.55M68.5 76.0h.55M61.9 63.7h.55M53.5 76.2h.55M56.7 69.5h.55M51.1 74.9h.55M70.4 63.5h.55M64.9 70.6h.55M54.2 70.6h.55M67.0 83.0h.55M58.7 70.4h.55M57.9 66.6h.55M58.2 78.8h.55M65.1 76.9h.55M62.2 73.8h.55M63.3 67.5h.55M69.5 71.3h.55M61.4 71.1h.55M65.2 64.9h.55M64.6 74.1h.55M57.1 70.0h.55M60.8 82.4h.55M62.4 83.4h.55M59.3 80.5h.55M65.0 77.9h.55M67.6 72.0h.55M59.1 62.1h.55M70.1 76.2h.55M58.9 80.4h.55M54.4 58.5h.55M57.6 70.4h.55M62.4 69.7h.55M63.3 66.6h.55M53.1 77.4h.55M63.4 69.5h.55M54.6 76.6h.55M57.0 67.0h.55M61.0 66.3h.55M73.1 74.0h.55M61.4 70.2h.55M67.0 75.0h.55M48.1 79.6h.55M52.5 68.2h.55M59.3 74.3h.55M50.9 75.6h.55M65.7 70.8h.55M64.9 79.4h.55M56.5 75.8h.55M60.2 77.5h.55M61.7 67.3h.55M73.3 75.5h.55M57.9 77.0h.55M62.3 81.4h.55M67.9 77.2h.55M64.5 69.0h.55M67.6 71.1h.55M62.5 74.5h.55M61.6 64.6h.55M58.5 80.3h.55M55.5 73.8h.55M55.1 64.8h.55M63.9 78.1h.55M56.0 69.2h.55M54.7 73.6h.55M53.5 66.9h.55M63.8 73.4h.55M59.1 76.1h.55M59.9 71.7h.55M58.5 78.0h.55M68.9 68.4h.55M61.6 73.2h.55M51.9 67.8h.55M54.3 64.9h.55M63.9 68.7h.55M60.8 69.1h.55M62.7 70.1h.55M59.0 62.9h.55M68.0 68.0h.55M58.4 78.8h.55M42.9 78.4h.55M65.2 72.2h.55M56.2 74.7h.55M66.4 70.3h.55M58.2 65.5h.55M69.2 76.7h.55M73.9 69.6h.55M63.8 79.3h.55M55.1 69.5h.55M51.6 72.2h.55M50.5 84.7h.55M61.7 76.5h.55M57.6 68.5h.55M54.2 76.8h.55M56.5 79.7h.55M53.0 80.6h.55M60.7 73.1h.55M57.4 73.0h.55M64.2 81.8h.55M59.9 83.3h.55M64.6 71.3h.55M62.1 70.1h.55M61.6 71.7h.55M65.3 81.2h.55M54.8 70.3h.55M64.4 75.7h.55M55.8 70.8h.55M52.3 67.3h.55M65.4 80.7h.55M75.5 67.2h.55M53.8 73.9h.55M63.4 67.0h.55M70.6 62.5h.55M58.8 70.1h.55M59.9 72.1h.55M55.8 65.0h.55M61.4 70.6h.55M60.6 67.9h.55M74.2 72.2h.55M58.6 86.3h.55M58.0 82.5h.55M55.8 72.0h.55M55.3 67.9h.55M58.4 72.8h.55M68.2 77.2h.55M53.9 77.2h.55M57.5 82.7h.55M58.8 65.9h.55M66.8 74.7h.55M56.4 65.8h.55M52.3 76.4h.55M51.9 81.5h.55M62.8 72.6h.55M63.2 67.4h.55M62.5 74.9h.55M50.3 70.9h.55M55.8 74.4h.55M63.0 78.3h.55M64.1 79.3h.55M60.6 67.8h.55M53.1 67.1h.55M66.8 70.0h.55M59.5 71.7h.55M69.9 62.8h.55M57.6 76.7h.55M66.4 72.6h.55M60.1 78.6h.55M66.5 79.2h.55M63.9 79.9h.55M52.7 69.7h.55M62.2 74.0h.55M51.6 68.0h.55M63.8 75.4h.55M55.4 68.7h.55M65.9 73.7h.55M66.4 72.5h.55M54.3 74.9h.55M77.9 74.3h.55M55.0 82.4h.55M52.1 66.1h.55M51.7 77.4h.55M53.9 74.0h.55M61.0 71.5h.55M50.5 77.4h.55M59.2 66.3h.55M57.0 74.0h.55M60.4 78.4h.55M55.4 74.5h.55M58.7 74.0h.55M56.5 77.9h.55M57.7 69.1h.55M56.0 79.2h.55M66.9 73.2h.55M58.9 61.3h.55M61.5 77.9h.55M63.3 68.2h.55M52.0 69.3h.55M65.1 69.8h.55M57.0 77.4h.55M62.6 70.6h.55M58.8 71.3h.55M63.5 66.0h.55M55.2 73.2h.55M43.4 81.4h.55M64.5 71.7h.55M58.4 75.7h.55M57.9 76.2h.55M61.7 76.1h.55M45.9 74.8h.55M63.3 76.0h.55M53.5 79.4h.55M52.4 75.0h.55M62.3 76.0h.55M58.3 82.7h.55M47.7 66.6h.55M54.2 71.0h.55M73.3 71.2h.55M60.4 71.0h.55M66.2 65.6h.55M59.0 65.0h.55M60.8 73.4h.55M61.3 74.2h.55M58.6 67.0h.55M66.5 71.8h.55M54.3 75.5h.55M63.3 72.9h.55M69.5 64.6h.55M62.2 71.9h.55M61.6 71.0h.55M66.4 67.9h.55M55.7 64.0h.55M66.8 69.0h.55M52.0 79.0h.55M52.5 82.5h.55M62.6 71.7h.55M68.9 76.7h.55M56.4 77.2h.55M56.6 76.4h.55M59.1 74.7h.55M51.4 71.1h.55M66.4 71.0h.55M53.3 76.2h.55M62.5 76.8h.55M56.5 63.5h.55M63.0 60.5h.55M60.7 70.3h.55M60.5 84.4h.55M63.6 71.9h.55M58.1 58.0h.55M63.5 67.9h.55M57.1 69.2h.55M68.7 73.6h.55M59.0 68.3h.55M64.1 70.1h.55M57.1 81.6h.55M69.7 76.5h.55M60.2 74.9h.55M52.6 69.8h.55M52.8 67.9h.55M61.5 67.8h.55M52.1 84.3h.55M56.1 76.9h.55M65.8 80.8h.55M52.8 80.0h.55M60.1 71.0h.55M62.4 79.6h.55M65.9 71.9h.55M51.3 80.4h.55M49.9 78.3h.55M59.3 80.8h.55M56.4 76.0h.55M60.8 64.7h.55M50.2 73.7h.55M65.7 76.2h.55M63.2 64.8h.55M63.2 71.8h.55M58.9 76.3h.55M53.7 74.4h.55M57.4 73.3h.55M64.3 74.1h.55M60.4 83.2h.55M55.1 70.8h.55M55.8 73.0h.55M47.7 67.5h.55M62.8 68.7h.55M58.9 72.8h.55M66.6 61.0h.55M60.8 80.9h.55M50.4 73.8h.55M55.7 69.7h.55M70.3 76.8h.55M55.2 72.8h.55M63.4 77.2h.55M57.3 72.2h.55M58.0 73.7h.55M61.1 68.9h.55M53.5 72.6h.55M69.5 80.3h.55M53.0 78.1h.55M60.4 74.2h.55M68.5 70.6h.55M57.8 72.8h.55M56.0 70.2h.55M56.3 65.7h.55M59.0 70.1h.55M67.2 68.9h.55M58.8 70.3h.55M53.2 71.3h.55M55.3 78.5h.55M65.6 79.3h.55M68.8 73.4h.55M60.6 77.1h.55M67.5 64.4h.55M64.9 71.7h.55M59.4 73.3h.55M60.4 69.1h.55M67.5 68.5h.55M58.2 79.0h.55M64.5 77.5h.55M69.2 74.5h.55M66.8 72.3h.55M64.2 66.5h.55M65.3 79.1h.55M64.9 74.9h.55M59.5 74.8h.55M59.0 76.7h.55M67.2 71.1h.55M57.0 70.7h.55M56.3 68.5h.55M54.6 70.8h.55M62.8 76.4h.55M52.6 72.1h.55M65.2 76.8h.55M79.1 74.6h.55M50.6 70.0h.55M53.3 76.9h.55M53.8 62.3h.55M62.6 71.1h.55M61.8 70.3h.55M57.5 58.2h.55M60.1 69.2h.55M59.8 70.3h.55M60.4 74.4h.55M48.1 72.0h.55M49.5 74.7h.55M63.2 64.1h.55M52.6 66.9h.55M55.0 76.3h.55M62.4 68.6h.55M57.3 74.6h.55M55.5 74.2h.55M63.8 74.7h.55M68.4 75.0h.55M58.0 67.4h.55M65.6 69.5h.55M72.9 76.6h.55M52.6 69.2h.55M63.2 81.2h.55M56.1 68.5h.55M70.5 60.9h.55M53.3 76.6h.55M68.9 74.1h.55M61.2 68.9h.55M62.5 69.6h.55M48.5 71.1h.55M64.4 78.9h.55M49.5 70.7h.55M49.2 82.1h.55M71.7 79.3h.55M69.9 73.7h.55M64.3 61.9h.55M55.5 76.6h.55M60.8 73.7h.55M60.2 71.4h.55M67.3 73.9h.55M59.5 71.7h.55M63.0 70.5h.55M68.7 68.6h.55M67.9 77.6h.55M65.1 68.9h.55M61.1 77.0h.55M57.2 73.8h.55M46.9 76.7h.55M62.1 87.3h.55M66.8 76.2h.55M55.3 67.1h.55M65.0 76.0h.55M68.5 69.4h.55M54.0 73.4h.55M57.4 70.0h.55M62.9 68.7h.55M63.1 75.5h.55M62.5 83.0h.55M57.1 75.3h.55M46.2 76.4h.55M65.1 72.2h.55M67.4 73.6h.55M52.7 78.6h.55M62.3 71.4h.55M58.8 79.7h.55M61.8 70.1h.55M53.7 76.0h.55M58.6 76.0h.55M64.5 70.8h.55M53.3 74.0h.55M61.6 74.1h.55M61.4 86.5h.55M65.1 72.2h.55M47.8 76.7h.55M55.5 66.3h.55M55.4 79.1h.55M54.7 73.5h.55M57.6 73.3h.55M54.8 74.4h.55M53.2 67.6h.55M57.7 58.0h.55M62.0 76.6h.55M65.0 84.4h.55M65.5 69.5h.55M64.8 68.8h.55M60.6 64.7h.55M68.9 81.5h.55M62.9 77.1h.55M67.5 70.1h.55M56.5 73.0h.55M62.8 71.1h.55M61.0 77.2h.55M50.7 68.4h.55M72.2 68.3h.55M61.0 76.6h.55M52.5 71.5h.55M47.8 77.9h.55M72.2 74.6h.55M58.7 74.9h.55M69.2 68.5h.55M58.8 72.4h.55M57.7 80.5h.55M52.6 82.0h.55M63.4 81.4h.55M59.7 77.7h.55M59.4 65.4h.55M74.1 69.8h.55M64.1 71.7h.55M52.3 66.8h.55M71.1 71.1h.55M57.4 72.2h.55M60.8 63.9h.55M59.4 69.0h.55M58.8 78.5h.55M64.0 74.0h.55M59.9 76.8h.55M51.6 79.0h.55M56.9 78.2h.55M62.6 72.1h.55M59.7 79.8h.55M55.5 86.7h.55M66.6 70.8h.55M69.7 67.1h.55M71.7 75.9h.55M53.8 68.8h.55M59.0 77.3h.55M50.6 80.2h.55M59.1 72.7h.55M56.6 75.6h.55M61.1 65.9h.55M52.5 71.2h.55M62.8 76.5h.55M62.0 78.6h.55M67.9 74.8h.55M65.8 62.9h.55M66.5 71.6h.55M62.0 64.7h.55M51.2 70.2h.55M61.1 74.0h.55M63.4 73.9h.55M56.1 73.5h.55M52.8 71.8h.55M66.7 72.0h.55M66.4 73.1h.55M59.9 70.4h.55M57.3 76.7h.55M77.5 66.0h.55M59.9 75.6h.55M61.6 66.1h.55M60.3 76.6h.55M70.3 61.6h.55M59.7 58.7h.55M64.9 76.0h.55M66.7 71.7h.55M66.0 73.4h.55M58.0 80.7h.55M61.1 78.4h.55M56.9 71.2h.55M50.1 72.5h.55M62.6 85.6h.55M53.5 70.3h.55M57.4 70.6h.55M58.6 65.0h.55M56.4 65.4h.55M58.3 75.5h.55M58.2 85.7h.55M68.3 63.8h.55M65.2 68.2h.55M54.1 72.8h.55M61.9 66.1h.55M63.2 69.5h.55M58.5 65.4h.55M61.3 75.6h.55M56.0 67.2h.55M56.2 78.4h.55M56.4 67.2h.55M69.1 70.4h.55M64.3 64.2h.55M51.8 83.4h.55M55.0 86.2h.55M48.0 66.1h.55M47.9 77.3h.55M57.5 87.9h.55M57.5 88.0h.55M57.8 70.8h.55M65.8 71.2h.55M75.6 69.8h.55M59.2 69.2h.55M77.3 51.1h.55M50.3 67.4h.55M44.1 70.8h.55M52.8 62.6h.55M64.9 70.7h.55M56.3 89.2h.55M46.8 63.8h.55M58.6 72.5h.55M66.4 77.5h.55M42.5 73.5h.55M50.4 88.0h.55M72.7 86.5h.55M42.8 80.0h.55M42.5 79.7h.55M48.7 81.8h.55M68.0 74.3h.55M59.8 69.4h.55M69.0 64.9h.55M73.3 80.8h.55M78.6 70.4h.55M62.8 62.1h.55M50.4 68.8h.55M46.7 75.0h.55M55.5 73.5h.55M54.2 83.2h.55M63.4 72.9h.55M40.5 72.9h.55M40.3 74.5h.55M61.5 58.6h.55M64.3 57.5h.55M65.9 78.5h.55M58.5 68.7h.55M67.9 65.9h.55M71.1 60.2h.55M40.1 80.1h.55M69.3 77.6h.55M43.0 71.8h.55M57.8 63.1h.55M77.3 82.0h.55M77.7 82.3h.55M49.4 80.1h.55M43.8 74.2h.55M57.7 81.1h.55M63.0 77.2h.55M62.2 77.2h.55M53.8 57.7h.55M55.5 62.1h.55M64.5 58.1h.55M50.3 72.9h.55M65.1 83.5h.55M51.6 73.6h.55M80.9 74.9h.55M61.0 70.2h.55M50.6 70.2h.55M61.5 81.1h.55M52.3 69.9h.55M46.7 86.6h.55M40.2 77.5h.55M58.8 83.2h.55M54.9 76.0h.55M59.5 71.1h.55M64.3 67.1h.55M54.4 72.2h.55M73.1 71.3h.55M45.0 88.8h.55M77.4 62.5h.55M51.4 76.2h.55M58.0 73.0h.55M56.6 65.6h.55M45.4 67.7h.55M63.1 86.5h.55M48.2 76.2h.55M58.0 68.9h.55M63.5 70.9h.55M44.9 73.2h.55M54.1 78.8h.55M54.4 72.5h.55M51.9 76.9h.55M57.1 70.3h.55M81.4 75.6h.55M50.5 71.5h.55M61.1 76.1h.55M69.7 77.9h.55M53.3 82.7h.55M46.3 60.3h.55M52.9 71.6h.55M49.7 85.3h.55M50.6 75.2h.55M31.1 79.7h.55M70.8 80.1h.55M76.5 87.1h.55M51.1 87.4h.55M49.1 79.9h.55M70.6 66.5h.55M52.8 73.9h.55M53.8 69.5h.55M66.9 75.2h.55M51.4 76.0h.55M65.3 58.5h.55M36.7 69.2h.55M66.0 66.4h.55M48.5 69.9h.55M53.9 77.9h.55M70.3 73.1h.55M70.5 70.3h.55M51.1 73.8h.55M67.0 68.7h.55M61.2 76.5h.55M78.1 53.9h.55M53.9 74.1h.55M59.2 75.8h.55M59.7 69.8h.55M59.1 79.7h.55M55.7 74.8h.55M69.7 73.6h.55M69.2 65.8h.55M57.8 75.1h.55M49.9 83.5h.55M53.7 72.2h.55M58.7 71.8h.55M42.9 81.3h.55M63.9 65.5h.55M45.3 69.3h.55M55.7 76.1h.55M47.0 68.9h.55M54.8 76.5h.55M53.6 86.8h.55M57.6 72.3h.55M47.9 64.1h.55M55.4 66.2h.55M68.0 58.3h.55M76.7 77.3h.55M50.6 76.7h.55M48.9 76.4h.55M61.9 64.0h.55M52.9 82.3h.55M45.1 70.1h.55M59.3 62.3h.55M49.0 82.3h.55M53.8 75.0h.55M59.7 70.7h.55M47.1 71.1h.55M50.7 78.3h.55M66.1 60.0h.55M66.4 72.1h.55M72.6 76.5h.55M48.7 81.0h.55M71.2 51.1h.55M53.0 88.3h.55M63.7 77.6h.55M60.4 68.3h.55M48.1 71.6h.55M53.6 90.2h.55M63.4 89.4h.55M73.4 78.9h.55M63.3 95.4h.55M57.0 67.6h.55M40.1 64.8h.55M53.1 68.7h.55M45.1 76.2h.55M50.3 75.6h.55M65.8 53.8h.55M41.7 79.8h.55M69.7 69.0h.55M46.4 63.8h.55M36.0 76.8h.55M64.8 84.0h.55M55.0 66.2h.55M50.6 79.8h.55M46.1 68.8h.55M71.1 76.8h.55M59.3 55.1h.55M56.4 69.9h.55M57.8 70.1h.55M64.8 73.1h.55M62.4 71.1h.55M57.0 70.6h.55M59.8 79.9h.55M61.4 75.5h.55M56.3 70.1h.55M64.6 71.6h.55M67.3 70.9h.55M59.5 74.5h.55M59.5 77.2h.55M62.2 76.5h.55M58.6 75.0h.55M61.3 75.5h.55M63.1 74.3h.55M55.6 72.2h.55M62.6 69.9h.55M60.4 74.0h.55M58.5 79.2h.55M54.6 75.4h.55M60.3 69.2h.55M57.6 75.3h.55M60.8 72.2h.55M58.2 65.6h.55M60.4 73.9h.55M59.5 69.8h.55M60.2 74.4h.55M54.7 77.8h.55M57.9 73.4h.55M64.1 70.3h.55M64.5 71.3h.55M57.2 77.0h.55M56.9 74.0h.55M56.3 73.2h.55M66.7 71.4h.55M58.4 68.1h.55M59.7 65.5h.55M62.6 75.9h.55M63.2 76.1h.55M58.5 71.1h.55M66.6 73.3h.55M56.4 69.4h.55M62.3 75.7h.55M62.8 73.4h.55M65.8 68.4h.55M56.5 70.4h.55M63.7 67.6h.55M59.9 68.1h.55M60.8 74.5h.55M54.4 73.4h.55M54.9 76.2h.55M61.1 74.2h.55M56.0 78.7h.55M57.3 73.5h.55M57.3 74.4h.55M59.6 73.9h.55M52.8 71.4h.55M59.3 69.8h.55M57.9 77.0h.55M55.0 73.3h.55M60.4 75.2h.55M59.6 74.0h.55M59.5 74.0h.55M60.7 74.1h.55M64.6 70.4h.55M64.4 71.4h.55M62.9 73.8h.55M54.6 70.7h.55M62.9 73.2h.55M55.7 76.6h.55M58.4 73.3h.55M61.7 73.7h.55M58.3 74.0h.55M60.6 67.9h.55M62.5 71.1h.55M64.1 72.8h.55M64.5 70.7h.55M59.4 75.7h.55M60.1 76.7h.55M61.3 70.2h.55M55.5 71.6h.55M59.0 67.9h.55M56.7 76.1h.55M61.0 67.3h.55M59.3 74.0h.55M57.5 79.4h.55M59.0 72.6h.55M60.5 71.9h.55M63.8 69.1h.55M58.9 68.2h.55M65.4 75.1h.55M62.9 74.6h.55M56.2 74.1h.55M57.0 73.3h.55M62.8 71.8h.55M59.8 73.4h.55M59.4 71.9h.55M56.2 73.5h.55M62.1 75.2h.55M63.3 72.0h.55M55.0 74.7h.55M54.9 73.7h.55M61.5 72.1h.55M61.5 71.5h.55M62.1 74.9h.55M58.4 72.8h.55M65.1 81.3h.55M61.7 76.8h.55M63.3 69.8h.55M54.8 71.2h.55M63.5 71.8h.55M62.1 71.5h.55M60.1 75.7h.55M59.5 74.1h.55M56.6 78.3h.55M59.6 67.5h.55M64.2 75.1h.55M60.9 70.6h.55M62.7 77.1h.55M59.4 72.1h.55M61.4 69.3h.55M50.3 75.7h.55M59.1 72.3h.55M55.4 71.3h.55M65.9 69.5h.55M60.6 79.8h.55M59.4 70.6h.55M60.0 70.6h.55M62.6 72.6h.55M58.3 71.5h.55M56.1 73.9h.55M59.1 71.7h.55M59.0 74.6h.55M57.0 71.4h.55M57.3 72.1h.55M60.2 75.3h.55M54.4 73.3h.55M63.7 72.4h.55M55.5 73.4h.55M50.1 70.2h.55M55.7 77.9h.55M55.4 71.9h.55M56.2 77.8h.55M55.4 73.7h.55M61.7 76.5h.55M58.4 72.4h.55M62.9 73.0h.55M64.9 73.4h.55M58.0 68.9h.55M59.3 77.0h.55M57.9 69.6h.55M62.6 74.9h.55M64.0 70.8h.55M55.7 73.4h.55M62.5 74.8h.55M54.7 75.8h.55M63.0 67.2h.55M59.2 67.8h.55M60.9 75.6h.55M68.7 70.0h.55M58.3 71.9h.55M59.0 74.9h.55M58.5 81.8h.55M58.0 70.9h.55M62.3 68.6h.55M57.7 74.8h.55M58.5 74.1h.55M55.4 77.8h.55M55.9 72.2h.55M59.9 69.1h.55M62.2 72.7h.55M63.5 70.1h.55M52.9 74.6h.55M63.9 68.1h.55M60.9 75.4h.55M60.9 75.4h.55M57.9 70.2h.55M56.0 72.8h.55M53.0 73.3h.55M59.9 71.4h.55M61.2 74.1h.55M61.5 76.3h.55M59.7 78.0h.55M60.7 76.8h.55M55.7 73.9h.55M52.5 79.9h.55M57.8 73.1h.55M60.0 72.6h.55M57.9 70.2h.55M59.1 71.5h.55M54.8 77.0h.55M56.1 81.5h.55M59.9 79.3h.55M59.1 75.3h.55M63.1 72.5h.55M55.4 76.0h.55M61.1 72.8h.55M61.7 70.6h.55M65.6 74.9h.55M56.0 74.0h.55M64.2 71.2h.55M51.9 71.4h.55M61.1 71.4h.55M56.0 70.4h.55M58.2 71.1h.55M60.0 69.4h.55M57.6 72.3h.55M62.7 75.7h.55M60.6 80.2h.55M58.4 73.9h.55M61.6 81.1h.55M55.3 73.7h.55M58.3 72.1h.55M57.1 72.5h.55M62.0 73.9h.55M55.9 77.0h.55M57.3 74.1h.55M67.8 70.4h.55M60.9 74.5h.55M54.5 77.1h.55M65.7 71.5h.55M61.2 75.0h.55M58.4 67.7h.55M62.6 71.4h.55M66.7 70.8h.55M61.7 75.9h.55M59.7 71.3h.55M60.3 73.1h.55M55.8 71.4h.55M69.8 78.7h.55M57.3 74.0h.55M50.7 72.3h.55M62.2 71.1h.55M57.8 72.3h.55M56.9 72.9h.55M55.8 75.7h.55M65.5 71.3h.55M63.7 71.5h.55M61.8 79.4h.55M59.4 68.3h.55M58.6 69.9h.55M54.2 76.9h.55M54.2 73.5h.55M63.7 72.8h.55M63.8 68.9h.55M62.4 71.9h.55M63.4 65.6h.55M54.6 72.9h.55M61.0 74.5h.55M57.9 71.6h.55M62.8 77.2h.55M56.2 76.4h.55M52.6 69.3h.55M59.2 72.4h.55M66.8 72.1h.55M57.9 74.5h.55M65.9 70.7h.55M58.9 72.6h.55M59.3 74.8h.55M55.2 75.2h.55M51.0 76.4h.55M59.5 75.6h.55M59.8 72.1h.55M53.8 68.3h.55M67.7 77.3h.55M57.8 75.4h.55M59.0 74.3h.55M62.8 71.4h.55M64.3 75.4h.55M57.8 74.5h.55M58.4 73.2h.55M65.2 76.9h.55M57.4 73.4h.55M58.8 77.4h.55M56.3 76.3h.55M56.8 73.4h.55M55.9 77.3h.55M55.4 70.5h.55M58.1 75.8h.55M54.9 66.6h.55M66.5 72.1h.55M63.4 73.3h.55M60.9 75.5h.55M60.9 69.5h.55M57.8 72.9h.55M62.2 66.2h.55M48.7 75.2h.55M59.0 67.2h.55M63.3 71.6h.55M59.4 75.6h.55M62.9 73.7h.55M55.5 72.8h.55M58.6 67.8h.55M61.5 68.3h.55M57.4 73.2h.55M54.6 75.2h.55M57.6 75.4h.55M58.3 70.2h.55M54.1 74.5h.55M65.8 69.5h.55M64.7 75.3h.55M57.5 78.6h.55M51.8 73.4h.55M65.6 68.4h.55M56.2 65.7h.55M62.7 74.9h.55M62.7 71.9h.55M64.5 77.2h.55M52.2 72.1h.55M62.9 72.6h.55M57.8 75.1h.55M58.4 76.7h.55M57.2 80.0h.55M58.7 72.2h.55M61.8 79.8h.55M57.3 76.4h.55M55.9 78.5h.55M50.6 73.6h.55M59.5 75.9h.55M56.4 73.2h.55M65.0 71.1h.55M61.9 72.5h.55M56.4 76.6h.55M63.0 70.1h.55M59.9 77.0h.55M60.1 74.0h.55M64.5 70.4h.55M62.6 73.1h.55M59.9 70.5h.55M63.7 72.8h.55M63.0 75.9h.55M59.0 72.6h.55M55.6 70.6h.55M56.0 72.0h.55M56.7 71.9h.55M61.6 66.8h.55M60.1 74.6h.55M66.3 76.8h.55M59.0 69.8h.55M52.7 73.9h.55M52.4 66.4h.55M52.5 75.8h.55M60.2 74.0h.55M64.7 74.6h.55M58.6 74.4h.55M60.9 69.1h.55M59.4 75.8h.55M59.3 72.6h.55M62.3 74.6h.55M54.7 74.1h.55M65.0 79.3h.55M65.6 72.2h.55M61.4 76.7h.55M59.0 68.1h.55M64.0 72.2h.55M59.4 71.1h.55M60.6 67.9h.55M64.5 69.7h.55M62.2 71.9h.55M65.3 76.3h.55M66.8 73.7h.55M59.3 78.2h.55M54.0 70.7h.55M59.3 75.6h.55M57.0 75.5h.55" stroke="#000" stroke-width=".55" stroke-opacity=".66" fill="none"/>
<path d="M36.1 94.6h.6M37.0 92.9h.6M38.3 81.6h.6M47.4 83.4h.6M34.8 47.1h.6M28.3 92.1h.6M52.7 76.6h.6M39.6 85.4h.6M29.8 62.5h.6M36.2 97.3h.6M29.9 75.9h.6M43.9 90.3h.6M61.6 59.8h.6M27.3 88.0h.6M29.2 90.4h.6M43.6 83.3h.6M27.6 89.9h.6M38.8 100.2h.6M33.7 91.4h.6M32.4 94.9h.6M35.0 98.1h.6M41.4 49.5h.6M47.2 78.9h.6M33.3 61.7h.6M55.4 90.3h.6M29.1 98.6h.6M34.9 71.1h.6M29.1 64.5h.6M34.4 87.4h.6M43.5 71.7h.6M27.1 93.4h.6M27.9 88.5h.6M37.3 50.5h.6M33.0 68.9h.6M42.5 74.7h.6M29.2 96.8h.6M48.4 93.2h.6M54.0 101.3h.6M27.4 87.2h.6M42.0 68.4h.6M46.1 93.0h.6M32.4 87.0h.6M29.0 85.2h.6M42.6 88.4h.6M40.9 90.7h.6M53.1 93.5h.6M45.3 92.0h.6M50.8 95.2h.6M48.4 101.6h.6M27.7 40.6h.6M46.1 99.0h.6M38.2 83.2h.6M27.5 99.4h.6M42.8 90.6h.6M38.7 77.3h.6M34.6 55.0h.6M48.9 78.7h.6M40.7 84.2h.6M56.6 93.3h.6M39.2 102.0h.6" stroke="#000" stroke-width=".6" stroke-opacity=".3" fill="none"/>
<rect x="26.90" y="25.40" width="77.30" height="77.40" fill="none" stroke="#707070" stroke-width="0.7"/>
<line x1="44.30" y1="25.40" x2="44.30" y2="102.80" stroke="#707070" stroke-width="0.7"/>
<line x1="26.90" y1="86.30" x2="104.20" y2="86.30" stroke="#707070" stroke-width="0.7"/>
<text x="27.80" y="28.70" font-size="3.5" text-anchor="start" fill="#444" stroke="#444" stroke-width=".12">1.73</text>
<text x="103.70" y="28.70" font-size="3.5" text-anchor="end" fill="#444" stroke="#444" stroke-width=".12">96.29</text>
<text x="27.80" y="102.00" font-size="3.5" text-anchor="start" fill="#444" stroke="#444" stroke-width=".12">0.44</text>
<text x="103.70" y="102.00" font-size="3.5" text-anchor="end" fill="#444" stroke="#444" stroke-width=".12">1.53</text>
<text x="24.70" y="111.20" font-size="4" fill="#222" stroke="#222" stroke-width=".18">10<tspan dy="-2.2" font-size="2.9">0</tspan></text>
<text x="19.00" y="105.20" font-size="4" fill="#222" stroke="#222" stroke-width=".18">10<tspan dy="-2.2" font-size="2.9">0</tspan></text>
<text x="44.05" y="111.20" font-size="4" fill="#222" stroke="#222" stroke-width=".18">10<tspan dy="-2.2" font-size="2.9">1</tspan></text>
<text x="19.00" y="85.85" font-size="4" fill="#222" stroke="#222" stroke-width=".18">10<tspan dy="-2.2" font-size="2.9">1</tspan></text>
<text x="63.40" y="111.20" font-size="4" fill="#222" stroke="#222" stroke-width=".18">10<tspan dy="-2.2" font-size="2.9">2</tspan></text>
<text x="19.00" y="66.50" font-size="4" fill="#222" stroke="#222" stroke-width=".18">10<tspan dy="-2.2" font-size="2.9">2</tspan></text>
<text x="82.75" y="111.20" font-size="4" fill="#222" stroke="#222" stroke-width=".18">10<tspan dy="-2.2" font-size="2.9">3</tspan></text>
<text x="19.00" y="47.15" font-size="4" fill="#222" stroke="#222" stroke-width=".18">10<tspan dy="-2.2" font-size="2.9">3</tspan></text>
<text x="56.80" y="116.50" font-size="3.3" text-anchor="middle" fill="#333" stroke="#333" stroke-width=".12">CD8 APC</text>
<text x="11.50" y="64.60" font-size="3.55" text-anchor="middle" fill="#5a5a5a" transform="rotate(-90 11.50 64.60)" stroke="#5a5a5a" stroke-width=".18">HLA-A2/HY Tetramer-PE</text>
<text x="39.30" y="143.10" font-size="7.6" font-weight="bold" stroke="#000" stroke-width="0.27" text-anchor="start" fill="#000">clone 77</text>
<path d="M68.3 191.0h.55M61.9 190.5h.55M67.8 198.5h.55M64.4 203.8h.55M66.2 193.0h.55M73.8 181.3h.55M70.3 190.7h.55M66.9 195.0h.55M58.2 196.4h.55M69.7 188.7h.55M67.6 192.3h.55M72.0 181.3h.55M70.1 184.1h.55M70.1 188.7h.55M69.9 189.4h.55M72.4 196.2h.55M54.7 203.1h.55M67.3 193.9h.55M64.7 193.9h.55M67.5 193.4h.55M66.1 195.5h.55M64.4 195.5h.55M71.1 193.1h.55M81.5 176.6h.55M68.5 190.1h.55M67.8 190.0h.55M65.6 181.2h.55M74.2 183.6h.55M71.9 189.3h.55M74.0 191.8h.55M73.4 192.9h.55M71.2 190.1h.55M72.6 197.2h.55M56.7 196.6h.55M71.4 185.0h.55M70.3 186.2h.55M66.0 195.9h.55M70.9 182.4h.55M70.4 187.8h.55M66.7 202.0h.55M75.7 187.2h.55M75.9 187.6h.55M71.4 189.8h.55M64.7 193.0h.55M71.9 198.7h.55M70.2 201.7h.55M63.6 187.4h.55M68.8 194.3h.55M71.9 186.4h.55M63.1 196.7h.55M67.0 194.5h.55M72.1 194.0h.55M66.9 184.4h.55M72.8 181.8h.55M54.4 195.1h.55M64.7 187.4h.55M75.4 186.4h.55M64.9 194.1h.55M62.9 192.1h.55M65.2 205.7h.55M70.2 185.2h.55M69.6 189.3h.55M62.0 201.0h.55M71.7 198.3h.55M70.7 190.6h.55M69.9 189.8h.55M64.7 200.6h.55M60.3 194.7h.55M71.1 184.6h.55M67.6 190.0h.55M62.8 197.7h.55M60.9 202.6h.55M66.3 199.0h.55M65.3 189.7h.55M61.3 193.7h.55M70.9 182.0h.55M69.6 184.6h.55M74.7 190.8h.55M68.3 188.9h.55M64.7 193.0h.55M70.7 197.4h.55M72.2 188.9h.55M66.6 190.8h.55M61.8 198.2h.55M67.4 195.7h.55M69.5 187.6h.55M72.5 192.6h.55M69.5 191.2h.55M63.2 195.2h.55M76.9 183.8h.55M54.8 197.4h.55M58.8 195.7h.55M65.5 190.9h.55M59.3 197.3h.55M66.7 198.1h.55M71.1 190.4h.55M61.6 198.6h.55M72.1 181.8h.55M71.3 192.2h.55M65.6 193.6h.55M70.9 193.4h.55M73.6 192.6h.55M74.0 186.4h.55M59.8 194.7h.55M64.2 195.8h.55M71.7 186.6h.55M70.2 188.8h.55M61.6 192.6h.55M61.6 193.4h.55M67.3 191.8h.55M70.2 189.6h.55M70.7 185.6h.55M77.2 195.1h.55M68.2 182.6h.55M55.0 194.0h.55M68.1 190.8h.55M70.1 189.2h.55M71.4 199.6h.55M72.4 187.6h.55M71.1 190.3h.55M68.5 190.6h.55M65.4 195.7h.55M67.5 206.2h.55M67.4 184.4h.55M67.8 189.2h.55M65.3 191.8h.55M54.3 197.9h.55M69.3 198.6h.55M63.2 193.4h.55M66.9 195.4h.55M74.7 185.4h.55M73.0 190.8h.55M58.8 196.5h.55M66.4 194.3h.55M62.7 192.8h.55M71.8 190.5h.55M84.2 174.8h.55M72.5 195.1h.55M73.1 184.5h.55M75.5 183.8h.55M73.9 182.5h.55M70.5 189.3h.55M69.6 185.9h.55M71.3 193.5h.55M67.8 207.3h.55M68.6 185.7h.55M70.4 191.2h.55M73.7 186.3h.55M63.9 192.3h.55M67.9 191.6h.55M67.6 190.8h.55M69.9 183.1h.55M62.6 195.7h.55M68.5 191.6h.55M70.7 188.4h.55M62.8 191.0h.55M73.1 185.7h.55M68.9 193.2h.55M73.2 191.9h.55M73.3 185.4h.55M65.2 188.6h.55M69.1 188.9h.55M77.4 187.0h.55M66.5 189.2h.55M69.1 186.3h.55M66.3 193.9h.55M73.7 185.5h.55M62.2 192.7h.55M63.0 192.3h.55M72.7 188.1h.55M60.7 192.4h.55M63.6 190.5h.55M64.5 187.2h.55M68.6 196.1h.55M62.1 191.7h.55M63.3 200.2h.55M69.1 190.2h.55M66.9 185.7h.55M67.8 181.1h.55M67.4 188.9h.55M53.0 199.1h.55M62.9 193.5h.55M70.6 198.8h.55M66.9 193.6h.55M67.5 195.6h.55M71.6 190.0h.55M62.3 193.1h.55M70.7 190.3h.55M68.7 188.8h.55M67.1 184.9h.55M57.6 191.7h.55M68.9 189.5h.55M72.8 185.8h.55M69.5 198.1h.55M69.9 189.0h.55M55.8 192.1h.55M67.6 197.8h.55M77.3 180.2h.55M74.6 185.7h.55M70.2 184.1h.55M73.4 188.1h.55M69.5 190.0h.55M68.4 197.1h.55M56.9 187.5h.55M61.7 204.6h.55M64.7 188.9h.55M72.4 190.5h.55M62.1 194.9h.55M68.4 187.8h.55M66.1 188.9h.55M61.3 201.9h.55M67.8 185.2h.55M65.2 191.5h.55M68.3 189.6h.55M75.9 189.0h.55M79.3 180.9h.55M81.4 176.2h.55M66.9 185.7h.55M69.6 186.6h.55M66.4 188.7h.55M76.0 182.7h.55M68.6 192.8h.55M59.6 196.4h.55M64.9 197.0h.55M67.5 186.1h.55M73.9 193.1h.55M71.8 185.5h.55M67.4 191.7h.55M59.0 200.1h.55M59.7 187.1h.55M73.4 188.0h.55M71.7 191.1h.55M62.7 197.0h.55M72.3 191.4h.55M62.9 196.1h.55M72.3 193.5h.55M69.6 193.0h.55M74.3 185.8h.55M70.5 184.7h.55M66.6 199.3h.55M71.1 190.4h.55M80.5 180.2h.55M71.5 187.8h.55M68.3 201.7h.55M73.0 184.7h.55M68.9 190.1h.55M63.1 192.9h.55M65.0 189.9h.55M66.8 187.2h.55M73.4 183.5h.55M76.6 181.5h.55M69.2 188.2h.55M54.7 193.3h.55M70.0 187.6h.55M71.6 186.0h.55M60.5 199.2h.55M72.8 184.7h.55M80.8 177.8h.55M74.0 185.8h.55M71.6 186.2h.55M67.6 196.2h.55M63.6 195.5h.55M61.3 191.5h.55M76.1 187.9h.55M63.9 197.1h.55M65.7 197.9h.55M65.7 189.8h.55M62.6 190.5h.55M78.4 178.1h.55M66.2 196.8h.55M73.6 180.8h.55M64.6 196.6h.55M66.3 196.6h.55M76.6 182.7h.55M62.3 190.0h.55M75.6 195.0h.55M66.4 192.8h.55M69.1 199.6h.55M59.5 190.4h.55M71.5 197.1h.55M71.6 190.6h.55M75.0 187.9h.55M77.7 182.1h.55M69.1 198.9h.55M75.8 185.8h.55M74.8 185.4h.55M77.9 180.3h.55M57.4 196.3h.55M64.0 193.1h.55M55.3 211.9h.55M69.4 193.8h.55M76.3 183.3h.55M64.6 187.5h.55M62.6 195.6h.55M73.0 196.1h.55M71.2 187.5h.55M61.4 203.7h.55M62.2 198.5h.55M63.0 193.3h.55M72.9 182.7h.55M69.6 195.3h.55M64.1 197.5h.55M71.8 190.3h.55M57.6 198.5h.55M58.9 197.5h.55M57.3 206.4h.55M62.9 192.5h.55M67.2 189.1h.55M65.6 186.4h.55M71.1 184.5h.55M72.2 195.5h.55M74.7 185.3h.55M71.7 192.8h.55M68.0 192.5h.55M65.3 195.5h.55M62.6 198.2h.55M76.6 180.4h.55M70.6 188.7h.55M67.9 196.0h.55M65.3 199.7h.55M81.7 177.9h.55M66.4 188.9h.55M69.4 188.8h.55M54.7 199.1h.55M72.0 195.6h.55M72.1 185.8h.55M74.7 190.5h.55M68.0 191.1h.55M72.8 185.2h.55M66.6 190.5h.55M74.2 191.6h.55M66.8 189.9h.55M64.9 191.9h.55M62.8 181.4h.55M65.0 195.5h.55M66.4 192.3h.55M66.3 188.1h.55M69.6 191.9h.55M64.1 187.7h.55M65.4 182.9h.55M67.1 189.0h.55M74.0 190.8h.55M60.2 194.0h.55M65.6 192.3h.55M73.3 187.5h.55M60.2 194.7h.55M73.0 185.9h.55M70.9 198.1h.55M60.6 187.6h.55M62.6 194.3h.55M68.1 191.8h.55M70.0 184.5h.55M74.7 188.4h.55M79.8 179.7h.55M64.9 187.4h.55M69.4 189.3h.55M70.0 204.1h.55M73.6 179.4h.55M72.5 193.3h.55M63.9 192.4h.55M57.2 200.3h.55M71.7 188.5h.55M66.4 190.6h.55M71.3 186.3h.55M72.4 194.2h.55M66.2 190.7h.55M59.3 200.8h.55M70.2 188.0h.55M67.0 195.4h.55M70.6 192.7h.55M64.6 193.2h.55M68.6 193.3h.55M75.4 181.5h.55M72.2 187.2h.55M63.4 184.9h.55M59.0 202.9h.55M66.5 190.7h.55M75.0 180.0h.55M57.3 208.1h.55M67.4 186.1h.55M68.0 188.6h.55M70.8 187.1h.55M67.0 194.1h.55M64.8 190.8h.55M67.9 189.5h.55M72.6 194.4h.55M61.9 198.9h.55M63.0 195.2h.55M72.2 191.4h.55M69.4 192.5h.55M64.6 194.4h.55M56.0 193.2h.55M69.2 189.6h.55M70.3 192.6h.55M62.7 192.7h.55M68.8 192.4h.55M71.6 199.8h.55M65.8 200.5h.55M72.1 187.1h.55M73.3 192.1h.55M68.7 190.8h.55M70.9 192.7h.55M62.4 197.3h.55M70.8 192.0h.55M71.4 192.8h.55M60.6 198.4h.55M66.2 188.5h.55M76.8 187.6h.55M60.9 200.4h.55M59.2 194.0h.55M66.9 186.6h.55M66.4 195.3h.55M63.5 191.5h.55M69.7 191.2h.55M59.9 185.7h.55M70.1 186.5h.55M75.6 184.5h.55M66.7 187.2h.55M65.8 188.5h.55M65.3 191.5h.55M53.0 210.6h.55M64.8 197.9h.55M65.2 192.3h.55M71.3 188.6h.55M63.7 199.4h.55M71.3 190.2h.55M70.6 192.2h.55M80.1 178.7h.55M71.4 182.7h.55M65.3 192.1h.55M66.6 184.6h.55M69.2 190.9h.55M68.4 186.3h.55M71.5 189.8h.55M68.1 193.8h.55M57.6 185.9h.55M65.8 195.2h.55M72.4 199.2h.55M75.2 184.3h.55M74.4 183.0h.55M74.1 184.6h.55M62.3 202.7h.55M74.8 185.7h.55M77.1 184.1h.55M59.6 189.0h.55M65.8 192.5h.55M83.1 175.6h.55M62.4 199.7h.55M63.6 187.7h.55M69.7 192.8h.55M63.0 196.0h.55M70.0 203.1h.55M66.3 187.8h.55M74.3 187.0h.55M74.2 187.8h.55M69.3 194.8h.55M71.1 186.8h.55M72.6 185.1h.55M65.3 203.7h.55M64.5 192.9h.55M72.2 192.5h.55M56.8 200.9h.55M74.6 189.8h.55M60.3 197.9h.55M69.2 185.7h.55M76.2 181.8h.55M76.6 181.6h.55M71.5 189.4h.55M61.6 192.3h.55M69.7 196.0h.55M73.6 198.7h.55M52.0 188.9h.55M72.3 191.0h.55M73.3 189.0h.55M65.9 195.1h.55M80.0 186.7h.55M61.1 206.8h.55M71.0 190.3h.55M71.8 188.9h.55M67.2 192.4h.55M63.1 194.2h.55M67.5 209.1h.55M57.5 194.0h.55M63.1 194.5h.55M63.9 206.1h.55M59.6 198.4h.55M62.6 198.2h.55M67.8 188.8h.55M70.0 189.5h.55M73.5 187.3h.55M66.5 193.3h.55M69.4 187.5h.55M65.8 190.2h.55M62.7 189.2h.55M57.0 206.7h.55M68.3 191.3h.55M62.6 191.8h.55M65.0 190.5h.55M75.8 190.1h.55M68.0 193.8h.55M65.3 195.8h.55M71.6 190.3h.55M71.0 200.4h.55M76.1 184.3h.55M63.9 192.8h.55M68.3 190.5h.55M63.3 200.7h.55M62.0 188.7h.55M59.5 188.5h.55M71.4 191.4h.55M77.9 181.8h.55M78.7 181.3h.55M71.2 187.1h.55M66.6 186.9h.55M63.8 194.3h.55M66.2 193.0h.55M70.0 185.9h.55M73.8 188.3h.55M67.2 198.7h.55M59.7 199.2h.55M60.7 192.9h.55M66.6 185.6h.55M75.9 182.1h.55M68.1 188.6h.55M74.1 183.4h.55M73.6 183.3h.55M72.5 193.9h.55M70.7 187.0h.55M68.1 196.9h.55M75.4 189.5h.55M75.6 181.1h.55M62.3 193.8h.55M71.5 197.3h.55M66.0 191.1h.55M62.4 193.4h.55M71.7 193.2h.55M64.9 195.0h.55M64.8 194.1h.55M69.3 194.1h.55M64.9 194.5h.55M67.6 193.8h.55M60.6 191.3h.55M66.1 195.0h.55M72.8 184.2h.55M64.9 203.1h.55M70.5 184.2h.55M67.1 189.6h.55M65.3 191.6h.55M70.7 192.0h.55M70.8 187.7h.55M61.8 194.3h.55M72.9 185.9h.55M68.4 191.2h.55M70.9 183.3h.55M68.9 185.2h.55M73.5 187.1h.55M55.2 194.5h.55M74.7 186.0h.55M64.5 193.8h.55M68.4 196.7h.55M62.2 194.8h.55M73.8 191.0h.55M60.8 195.6h.55M69.6 187.7h.55M66.0 188.6h.55M69.9 188.4h.55M48.5 187.7h.55M63.6 190.1h.55M75.5 189.9h.55M60.4 200.1h.55M80.0 180.6h.55M74.7 188.2h.55M66.1 188.4h.55M61.7 197.4h.55M68.8 185.0h.55M75.5 185.8h.55M62.0 192.9h.55M73.9 186.7h.55M70.6 184.8h.55M65.3 194.9h.55M61.4 189.0h.55M59.0 199.1h.55M61.9 196.3h.55M73.5 195.9h.55M60.6 203.4h.55M71.3 192.1h.55M79.9 181.8h.55M72.7 187.1h.55M67.8 197.6h.55M73.1 187.1h.55M72.9 184.5h.55M63.4 194.6h.55M79.8 177.9h.55M61.2 188.6h.55M70.5 190.4h.55M61.2 197.8h.55M66.9 193.8h.55M69.5 188.4h.55M63.7 194.6h.55M79.2 177.9h.55M73.6 191.0h.55M71.1 189.0h.55M62.3 191.5h.55M73.5 187.8h.55M70.1 193.4h.55M54.6 208.5h.55M55.4 194.2h.55M73.5 194.8h.55M65.8 190.3h.55M70.6 183.5h.55M68.7 185.6h.55M67.6 189.1h.55M66.2 198.8h.55M68.8 197.3h.55M72.7 190.1h.55M68.5 202.7h.55M72.6 186.9h.55M73.0 184.2h.55M73.4 186.0h.55M54.4 192.9h.55M56.5 191.6h.55M73.3 184.9h.55M59.6 194.1h.55M73.4 186.1h.55M72.6 195.4h.55M63.1 199.7h.55M64.1 190.6h.55M70.4 195.4h.55M68.0 188.9h.55M67.5 194.5h.55M63.5 186.2h.55M68.6 191.5h.55M72.9 184.8h.55M71.8 188.4h.55M67.5 195.8h.55M67.6 190.1h.55M64.0 189.9h.55M70.3 187.2h.55M54.2 195.3h.55M62.8 196.5h.55M64.7 194.7h.55M62.9 190.6h.55M74.6 187.7h.55M74.8 196.5h.55M63.6 201.4h.55M71.0 187.9h.55M65.8 194.0h.55M67.8 198.3h.55M68.0 186.3h.55M68.7 195.8h.55M72.1 189.3h.55M73.7 193.4h.55M60.0 196.7h.55M66.5 196.5h.55M60.6 200.9h.55M70.8 188.1h.55M65.2 188.2h.55M65.1 202.8h.55M61.2 186.6h.55M64.9 191.6h.55M72.2 190.3h.55M62.4 190.4h.55M68.6 183.2h.55M69.8 191.8h.55M62.5 188.6h.55M74.8 179.0h.55M57.0 195.2h.55M64.1 190.0h.55M70.9 195.5h.55M66.7 190.9h.55M62.8 199.2h.55M69.4 184.0h.55M76.6 189.9h.55M68.4 189.4h.55M63.9 199.8h.55M66.2 197.2h.55M69.9 194.3h.55M69.9 194.9h.55M68.7 195.8h.55M58.9 193.1h.55M61.8 195.0h.55M75.0 194.7h.55M69.9 195.7h.55M76.6 182.2h.55M57.6 195.1h.55M65.7 189.6h.55M73.7 193.0h.55M64.4 187.6h.55M56.9 190.4h.55M60.4 198.9h.55M68.3 196.6h.55M78.9 181.3h.55M77.8 184.5h.55M64.9 187.3h.55M71.7 183.7h.55M63.7 191.2h.55M67.7 190.1h.55M72.7 193.5h.55M75.2 181.0h.55M65.6 190.9h.55M69.7 182.2h.55M72.8 185.2h.55M76.6 182.8h.55M58.8 199.3h.55M71.3 183.1h.55M61.9 195.1h.55M67.9 184.8h.55M68.8 192.3h.55M72.5 190.9h.55M65.1 186.0h.55M71.9 188.2h.55M68.6 185.0h.55M74.9 182.0h.55M67.3 189.0h.55M71.2 189.4h.55M75.2 179.8h.55M76.9 189.8h.55M66.7 188.3h.55M58.5 200.1h.55M74.5 183.4h.55M79.2 179.9h.55M62.2 194.1h.55M64.1 185.0h.55M73.2 189.1h.55M70.1 197.6h.55M52.3 189.1h.55M69.9 193.1h.55M68.9 195.0h.55M68.0 186.9h.55M61.2 199.6h.55M70.1 182.1h.55M75.0 183.2h.55M57.2 191.9h.55M74.6 185.0h.55M63.7 192.4h.55M72.7 187.1h.55M76.3 184.1h.55M69.5 191.2h.55M68.4 206.4h.55M64.4 209.7h.55M62.5 191.9h.55M67.7 190.1h.55M70.6 193.7h.55M74.3 187.6h.55M71.1 186.5h.55M70.2 186.3h.55M57.7 199.7h.55M67.9 192.5h.55M67.6 189.5h.55M67.4 192.1h.55M58.2 200.3h.55M74.1 180.7h.55M70.5 203.2h.55M68.4 186.0h.55M64.8 199.8h.55M57.4 189.4h.55M75.0 181.8h.55M61.9 198.4h.55M61.8 196.1h.55M64.3 190.0h.55M67.1 186.4h.55M71.9 197.5h.55M69.8 193.7h.55M67.8 189.6h.55M69.7 193.9h.55M76.1 185.0h.55M67.8 196.1h.55M70.3 192.8h.55M74.9 180.4h.55M70.6 190.5h.55M53.7 197.0h.55M62.8 188.8h.55M65.7 198.5h.55M65.4 196.6h.55M73.0 192.3h.55M74.3 186.4h.55M66.6 193.3h.55M60.4 186.1h.55M66.7 194.4h.55M76.6 182.7h.55M73.7 189.3h.55M74.7 185.5h.55M71.1 190.0h.55M64.2 196.3h.55M71.8 186.4h.55M59.7 193.6h.55M64.8 191.7h.55M71.6 191.7h.55M59.3 189.1h.55M69.6 189.5h.55M66.2 187.2h.55M72.1 185.1h.55M70.0 197.7h.55M66.8 187.0h.55M64.5 187.8h.55M69.6 192.4h.55M72.8 190.2h.55M66.4 190.4h.55M61.5 191.8h.55M72.0 184.7h.55M68.4 199.8h.55M65.0 193.1h.55M67.8 185.9h.55M59.2 201.5h.55M64.8 195.0h.55M62.4 187.7h.55M73.0 194.2h.55M67.2 187.1h.55M62.4 195.9h.55M71.2 183.4h.55M72.4 191.3h.55M73.5 187.6h.55M64.2 201.3h.55M65.1 198.3h.55M71.0 188.3h.55M70.6 187.7h.55M77.7 178.9h.55M76.0 183.1h.55M69.8 193.9h.55M73.5 191.1h.55M72.7 189.1h.55M73.0 186.7h.55M73.2 195.8h.55M81.4 178.8h.55M67.5 184.6h.55M58.5 191.6h.55M72.7 194.3h.55M66.2 199.2h.55M71.7 193.1h.55M63.3 188.9h.55M67.2 189.3h.55M75.7 184.4h.55M66.2 190.8h.55M67.4 197.8h.55M74.5 199.6h.55M72.5 181.5h.55M68.6 190.6h.55M61.0 195.4h.55M63.4 198.2h.55M65.7 194.2h.55M65.1 188.7h.55M62.0 192.7h.55M59.1 193.5h.55M75.3 183.6h.55M67.8 193.5h.55M75.4 192.4h.55M70.5 186.5h.55M67.1 194.3h.55M65.7 194.2h.55M76.0 182.5h.55M69.2 192.5h.55M62.9 193.6h.55M71.1 206.1h.55M71.8 186.5h.55M66.6 200.9h.55M72.0 196.6h.55M52.9 195.4h.55M63.2 195.5h.55M74.4 187.0h.55M75.9 184.9h.55M57.9 194.7h.55M55.4 193.6h.55M57.4 204.0h.55M56.2 192.4h.55M68.2 190.1h.55M62.5 190.6h.55M74.7 181.7h.55M71.0 183.5h.55M62.1 191.5h.55M74.3 186.6h.55M62.7 193.0h.55M69.2 187.6h.55M75.7 182.1h.55M62.9 198.8h.55M65.8 187.7h.55M69.0 188.9h.55M70.7 190.8h.55M61.6 191.7h.55M63.7 189.5h.55M74.5 184.7h.55M75.6 178.6h.55M75.1 191.5h.55M63.2 191.6h.55M74.2 183.4h.55M70.9 195.9h.55M78.1 177.5h.55M71.6 185.1h.55M67.0 201.7h.55M60.9 204.3h.55M70.1 192.8h.55M64.5 189.3h.55M65.4 191.1h.55M56.6 197.7h.55M75.0 186.8h.55M65.9 192.8h.55M56.5 188.7h.55M64.3 197.7h.55M76.3 184.7h.55M68.9 191.1h.55M71.3 192.9h.55M74.5 194.4h.55M82.2 175.9h.55M63.5 193.4h.55M63.6 198.6h.55M67.1 187.2h.55M76.2 186.4h.55M63.7 199.9h.55M62.8 188.5h.55M58.5 194.1h.55M65.1 199.8h.55M61.8 190.2h.55M81.5 178.4h.55M69.0 187.4h.55M66.2 193.7h.55M71.9 187.0h.55M68.8 190.1h.55M73.1 202.0h.55M78.5 182.6h.55M67.0 193.6h.55M64.8 194.5h.55M68.6 192.2h.55M65.9 187.9h.55M64.0 195.3h.55M66.0 184.4h.55M75.6 182.9h.55M69.5 198.0h.55M73.7 193.0h.55M70.9 185.9h.55M70.0 189.2h.55M74.4 186.3h.55M65.0 188.1h.55M70.9 191.2h.55M66.0 190.1h.55M78.2 185.4h.55M77.8 184.2h.55M75.0 190.4h.55M67.3 188.5h.55M73.3 189.1h.55M73.4 194.2h.55M69.1 188.8h.55M68.8 186.0h.55M71.8 188.5h.55M76.0 185.9h.55M74.1 187.3h.55M70.2 190.4h.55M67.8 197.7h.55M56.6 198.2h.55M65.8 192.4h.55M70.4 189.1h.55M57.7 188.6h.55M75.1 180.7h.55M62.3 192.7h.55M71.9 195.2h.55M71.6 186.2h.55M78.1 184.6h.55M57.9 202.8h.55M68.9 187.3h.55M67.0 191.6h.55M63.2 202.1h.55M63.7 194.7h.55M64.5 191.6h.55M64.0 190.5h.55M71.7 195.9h.55M65.3 186.4h.55M77.3 181.3h.55M57.0 192.3h.55M72.1 190.8h.55M60.3 187.9h.55M71.4 191.2h.55M74.7 194.5h.55M66.1 191.3h.55M69.9 188.0h.55M77.5 183.4h.55M68.1 182.7h.55M73.2 182.0h.55M66.0 195.2h.55M70.8 185.1h.55M76.6 182.5h.55M64.1 189.3h.55M68.9 191.4h.55M53.7 198.8h.55M69.0 189.1h.55M62.5 191.9h.55M64.2 189.7h.55M64.4 190.3h.55M75.4 183.1h.55M67.0 192.9h.55M68.2 194.8h.55M71.6 189.1h.55M64.2 191.0h.55M66.8 185.5h.55M65.1 201.1h.55M64.9 199.0h.55M57.9 190.9h.55M65.0 191.1h.55M67.8 191.7h.55M67.9 190.7h.55M64.1 193.4h.55M68.0 187.8h.55M69.8 189.4h.55M63.7 195.4h.55M77.3 185.1h.55M58.8 195.4h.55M65.9 188.2h.55M70.8 199.3h.55M73.8 186.4h.55M64.2 193.3h.55M74.1 186.6h.55M71.9 187.2h.55M66.3 199.5h.55M55.6 198.2h.55M72.7 187.2h.55M62.0 190.5h.55M74.0 189.2h.55M63.2 198.8h.55M69.8 189.2h.55M71.5 193.7h.55M64.6 193.6h.55M66.9 193.7h.55M61.8 197.2h.55M60.0 199.0h.55M64.1 196.8h.55M70.5 193.5h.55M70.6 184.0h.55M70.5 190.9h.55M56.1 194.6h.55M69.9 181.8h.55M69.2 190.8h.55M75.0 190.0h.55M70.1 198.8h.55M68.6 187.4h.55M69.0 194.4h.55M61.4 193.9h.55M70.2 189.2h.55M69.0 195.1h.55M68.5 189.5h.55M73.7 195.1h.55M77.9 181.6h.55M62.6 189.0h.55M62.9 191.5h.55M62.8 194.8h.55M56.7 201.3h.55M76.9 181.4h.55M69.5 190.9h.55M67.8 189.8h.55M75.3 182.9h.55M61.9 195.7h.55M68.5 192.5h.55M72.1 185.0h.55M74.8 183.0h.55M66.1 194.8h.55M72.9 191.8h.55M72.0 184.3h.55M68.1 190.0h.55M72.5 195.4h.55M69.9 187.0h.55M66.6 195.3h.55M76.0 183.6h.55M66.5 194.1h.55M67.5 189.6h.55M68.8 189.8h.55M71.9 191.3h.55M71.1 188.3h.55M55.4 199.9h.55M76.2 186.9h.55M73.9 181.5h.55M58.8 201.1h.55M63.2 193.4h.55M72.1 189.4h.55M65.8 195.4h.55M79.5 179.0h.55M68.6 191.5h.55M79.4 177.8h.55M82.5 183.0h.55M65.4 192.2h.55M71.4 186.2h.55M73.4 183.2h.55M74.9 184.2h.55M65.5 196.9h.55M67.5 194.8h.55M73.1 181.5h.55M64.4 188.3h.55M70.3 191.6h.55M71.8 190.6h.55M60.8 192.9h.55M65.4 193.3h.55M78.3 180.6h.55M72.4 190.8h.55M62.1 201.6h.55M67.4 190.4h.55M69.7 196.9h.55M69.6 191.2h.55M59.5 192.9h.55M60.3 199.2h.55M69.7 190.7h.55M67.5 188.6h.55M64.3 200.2h.55M63.8 192.5h.55M71.6 185.7h.55M64.9 200.5h.55M67.3 189.1h.55M73.2 185.2h.55M74.2 183.4h.55M68.1 189.9h.55M46.0 200.4h.55M69.1 185.4h.55M67.3 201.8h.55M68.4 196.4h.55M73.8 188.0h.55M60.4 192.9h.55M65.5 196.9h.55M62.4 198.6h.55M70.0 182.3h.55M62.9 192.2h.55M69.2 186.7h.55M66.8 182.8h.55M73.1 185.2h.55M65.3 195.3h.55M60.3 196.5h.55M74.0 191.2h.55M75.2 189.0h.55M72.3 187.7h.55M71.5 192.1h.55M82.5 175.2h.55M61.2 204.4h.55M68.0 189.6h.55M68.9 191.5h.55M71.9 184.7h.55M65.5 185.0h.55M72.3 189.9h.55M68.3 190.3h.55M67.6 184.1h.55M74.7 187.1h.55M52.8 196.3h.55M67.1 183.9h.55M61.7 202.0h.55M80.4 176.5h.55M73.2 191.0h.55M68.6 191.5h.55M67.9 189.2h.55M64.8 198.8h.55M70.4 190.5h.55M61.3 201.6h.55M66.0 195.0h.55M60.0 205.0h.55M66.1 187.8h.55M61.3 191.5h.55M72.1 186.2h.55M61.0 196.0h.55M66.7 194.2h.55M62.6 203.5h.55M70.1 184.8h.55M71.5 193.4h.55M70.1 186.9h.55M74.3 187.1h.55M68.6 192.4h.55M61.4 189.7h.55M66.1 191.1h.55M67.9 190.4h.55M70.8 183.6h.55M66.8 198.2h.55M69.1 185.8h.55M67.0 206.3h.55M72.7 189.5h.55M71.6 189.5h.55M65.3 188.1h.55M74.4 186.1h.55M71.3 187.1h.55M65.6 198.4h.55M72.7 190.5h.55M64.7 198.6h.55M68.5 203.1h.55M59.3 194.6h.55M68.1 193.2h.55M64.0 188.1h.55M68.5 189.7h.55M76.8 183.0h.55M63.2 196.8h.55M70.6 187.1h.55M62.3 194.0h.55M63.3 186.4h.55M72.8 187.4h.55M69.5 183.4h.55M67.4 188.7h.55M63.1 204.3h.55M59.6 191.4h.55M76.8 180.0h.55M71.1 187.2h.55M64.9 189.9h.55M68.2 191.4h.55M70.8 190.9h.55M74.0 191.6h.55M62.6 188.0h.55M81.9 180.0h.55M63.2 193.9h.55M61.6 189.5h.55M68.0 185.8h.55M70.0 191.0h.55M64.4 192.0h.55M71.5 193.5h.55M65.6 184.4h.55M73.7 188.1h.55M54.8 189.1h.55M66.3 188.4h.55M72.4 189.9h.55M71.2 192.3h.55M70.9 188.9h.55M72.2 192.8h.55M68.6 187.7h.55M61.9 190.5h.55M73.8 183.8h.55M78.8 183.7h.55M58.2 189.4h.55M71.1 193.7h.55M71.4 189.5h.55M78.9 181.0h.55M71.3 188.6h.55M68.7 193.1h.55M62.3 201.7h.55M65.9 190.3h.55M65.1 193.3h.55M66.1 193.3h.55M74.2 182.2h.55M70.8 194.1h.55M66.6 187.3h.55M73.3 188.2h.55M78.0 187.3h.55M69.8 190.6h.55M70.9 187.4h.55M67.0 183.0h.55M63.7 190.4h.55M73.4 185.1h.55M71.4 190.3h.55M68.7 190.0h.55M64.0 191.9h.55M59.4 202.7h.55M64.7 187.7h.55M72.6 194.5h.55M67.6 191.5h.55M67.9 192.1h.55M54.9 199.5h.55M78.0 180.9h.55M67.2 191.8h.55M68.0 194.1h.55M73.6 195.7h.55M69.0 188.4h.55M71.1 184.1h.55M68.6 189.9h.55M72.4 187.8h.55M70.0 185.1h.55M72.7 182.1h.55M67.6 190.1h.55M71.4 193.0h.55M72.1 188.4h.55M75.3 201.7h.55M75.5 180.1h.55M61.8 199.4h.55M77.8 183.1h.55M57.0 201.8h.55M64.5 200.1h.55M62.4 193.4h.55M68.5 188.2h.55M70.5 185.8h.55M68.1 191.9h.55M65.2 187.7h.55M68.2 196.0h.55M68.6 187.3h.55M73.0 190.2h.55M67.2 192.4h.55M66.5 193.0h.55M67.6 194.6h.55M64.9 197.7h.55M64.8 194.4h.55M71.1 192.7h.55M70.7 191.0h.55M74.7 186.1h.55M67.1 195.0h.55M71.9 186.3h.55M80.3 181.5h.55M66.6 188.5h.55M71.1 188.0h.55M71.8 188.7h.55M76.0 184.7h.55M66.7 189.5h.55M67.0 196.2h.55M79.2 184.3h.55M65.2 180.9h.55M67.7 187.2h.55M76.6 191.1h.55M55.5 203.2h.55M67.9 194.4h.55M63.9 196.4h.55M77.6 185.2h.55M60.7 199.6h.55M70.8 191.9h.55M71.8 187.6h.55M50.9 188.5h.55M73.8 187.3h.55M72.8 189.0h.55M66.2 185.8h.55M64.7 194.3h.55M67.9 195.4h.55M70.5 187.1h.55M57.4 200.3h.55M63.2 200.0h.55M75.6 181.6h.55M60.3 188.0h.55M68.1 187.8h.55M67.4 192.5h.55M72.8 186.7h.55M64.9 185.4h.55M78.5 179.8h.55M69.1 191.7h.55M63.1 200.8h.55M67.0 187.7h.55M73.5 184.9h.55M77.1 185.6h.55M69.1 188.8h.55M69.5 187.9h.55M78.1 182.3h.55M65.1 187.9h.55M72.5 190.2h.55M74.4 184.2h.55M63.1 188.3h.55M81.3 180.9h.55M69.8 189.7h.55M74.7 185.8h.55M56.5 199.1h.55M77.0 180.5h.55M77.5 177.1h.55M68.1 188.1h.55M65.9 188.4h.55M61.1 199.5h.55M80.1 178.3h.55M64.9 193.3h.55M60.9 192.1h.55M64.0 204.0h.55M61.4 192.4h.55M67.7 190.5h.55M62.3 199.5h.55M74.7 189.6h.55M62.0 191.3h.55M64.6 189.5h.55M61.9 195.7h.55M70.3 202.4h.55M73.2 191.9h.55M65.9 199.9h.55M70.4 191.3h.55M69.6 187.5h.55M67.1 192.4h.55M76.0 180.4h.55M71.5 188.5h.55M67.8 190.1h.55M60.9 194.3h.55M65.5 187.3h.55M68.1 188.4h.55M69.4 190.2h.55M67.5 190.9h.55M62.4 193.7h.55M71.8 187.5h.55M69.9 196.5h.55M68.9 199.8h.55M65.7 196.3h.55M71.1 189.6h.55M71.1 184.7h.55M58.0 209.4h.55M72.6 190.7h.55M61.5 193.3h.55M72.4 189.2h.55M71.3 186.8h.55M72.3 189.3h.55M74.5 180.6h.55M70.8 191.2h.55M70.2 191.0h.55M72.4 186.9h.55M74.2 190.2h.55M65.2 196.9h.55M66.0 194.3h.55M55.0 193.2h.55M61.0 190.4h.55M61.6 196.4h.55M72.9 184.4h.55M74.3 186.9h.55M55.3 197.6h.55M63.3 193.8h.55M74.7 183.5h.55M75.4 193.5h.55M74.7 185.3h.55M61.9 195.1h.55M62.3 185.0h.55M62.1 188.3h.55M51.0 196.4h.55M73.6 189.4h.55M80.4 184.2h.55M73.7 195.3h.55M68.6 190.5h.55M73.6 186.3h.55M70.2 189.4h.55M67.4 191.5h.55M68.0 189.4h.55M72.8 183.2h.55M70.9 195.8h.55M68.9 187.8h.55M69.9 187.2h.55M69.1 191.5h.55M60.7 189.8h.55M66.5 191.8h.55M64.1 186.8h.55M58.7 187.1h.55M64.0 190.0h.55M65.7 189.4h.55M75.5 180.0h.55M67.7 181.3h.55M80.0 181.3h.55M73.7 192.6h.55M75.9 191.9h.55M65.6 191.5h.55M71.7 190.6h.55M61.0 187.5h.55M77.5 180.0h.55M59.2 192.4h.55M72.7 192.7h.55M79.1 179.2h.55M66.1 193.2h.55M66.3 188.3h.55M76.3 184.5h.55M62.8 192.7h.55M61.0 192.5h.55M68.6 207.5h.55M72.2 187.4h.55M73.8 183.3h.55M72.5 189.7h.55M71.2 182.8h.55M76.1 179.8h.55M63.9 194.2h.55M57.0 189.7h.55M54.8 192.0h.55M68.6 182.9h.55M71.4 188.5h.55M65.8 190.1h.55M65.5 193.1h.55M70.6 193.9h.55M81.0 175.1h.55M68.0 189.3h.55M64.0 194.9h.55M68.0 199.4h.55M72.4 189.8h.55M70.7 183.6h.55M76.0 186.2h.55M79.1 179.4h.55M64.8 195.5h.55M65.9 188.9h.55M74.0 187.4h.55M65.2 182.2h.55M71.8 192.2h.55M55.3 188.2h.55M59.9 185.6h.55M71.2 196.2h.55M75.7 195.8h.55M73.8 190.9h.55M58.4 190.2h.55M68.0 190.7h.55M65.6 193.5h.55M71.2 190.2h.55M71.4 195.3h.55M71.7 194.3h.55M73.9 181.3h.55M69.0 193.3h.55M68.4 189.2h.55M72.6 192.5h.55M68.8 204.0h.55M71.3 183.8h.55M80.0 178.8h.55M56.6 192.7h.55M63.2 188.8h.55M68.5 194.7h.55M74.6 187.6h.55M68.2 191.4h.55M65.8 196.2h.55M67.6 197.0h.55M67.2 194.2h.55M69.0 188.0h.55M75.0 184.0h.55M67.7 189.2h.55M64.1 186.1h.55M64.0 192.5h.55M79.4 178.1h.55M60.3 190.3h.55M66.5 191.3h.55M66.2 186.8h.55M77.0 191.7h.55M74.9 188.0h.55M62.7 188.5h.55M67.0 198.3h.55M64.7 195.7h.55M69.9 187.0h.55M68.7 192.2h.55M62.1 187.9h.55M71.4 187.5h.55M70.0 192.8h.55M65.8 190.4h.55M71.2 190.8h.55M73.9 194.1h.55M73.1 192.2h.55M75.0 184.6h.55M68.2 195.1h.55M71.2 183.1h.55M76.2 184.8h.55M68.6 189.6h.55M61.8 193.9h.55M66.6 188.4h.55M74.2 188.6h.55M70.4 187.9h.55M61.6 193.7h.55M72.8 193.5h.55M70.5 185.7h.55M65.5 184.4h.55M69.0 199.1h.55M72.4 187.2h.55M71.4 192.6h.55M62.0 199.1h.55M65.8 183.1h.55M64.6 189.3h.55M70.4 203.2h.55M60.7 194.0h.55M73.5 181.9h.55M62.1 190.9h.55M63.0 196.1h.55M71.1 191.0h.55M72.1 198.0h.55M69.6 183.8h.55M83.5 173.7h.55M68.7 190.5h.55M67.6 191.4h.55M73.6 192.5h.55M65.7 190.9h.55M73.1 185.3h.55M68.3 189.0h.55M66.1 187.1h.55M74.1 193.0h.55M70.9 193.4h.55M69.8 189.3h.55M68.6 197.5h.55M63.5 198.5h.55M73.2 184.8h.55M72.5 193.2h.55M58.8 204.3h.55M75.2 185.6h.55M69.7 191.6h.55M67.6 194.4h.55M74.8 182.1h.55M69.3 188.3h.55M69.6 186.3h.55M71.8 197.1h.55M70.9 188.9h.55M64.8 190.1h.55M72.1 195.3h.55M64.0 197.1h.55M60.3 198.9h.55M68.3 187.3h.55M57.7 201.7h.55M74.6 187.5h.55M73.1 191.2h.55M80.2 178.0h.55M72.8 180.8h.55M71.6 187.2h.55M56.1 194.9h.55M61.2 187.4h.55M74.3 186.0h.55M76.6 184.3h.55M54.0 193.2h.55M71.9 205.9h.55M75.1 184.1h.55M69.2 190.4h.55M72.4 193.2h.55M71.3 192.3h.55M66.3 189.0h.55M58.9 184.4h.55M63.6 186.9h.55M65.6 200.5h.55M70.3 200.9h.55M70.4 182.2h.55M72.5 191.6h.55M60.8 192.2h.55M66.0 196.1h.55M76.4 184.8h.55M72.1 189.3h.55M69.7 190.5h.55M63.9 197.8h.55M66.6 188.4h.55M64.9 193.9h.55M70.4 190.5h.55M68.7 187.1h.55M72.6 187.7h.55M74.2 185.8h.55M61.8 194.6h.55M68.1 184.2h.55M69.8 192.0h.55M71.7 199.4h.55M62.1 196.4h.55M64.9 198.3h.55M79.1 181.6h.55M76.1 194.3h.55M71.6 186.7h.55M68.4 190.2h.55M65.8 191.9h.55M65.5 193.3h.55M70.8 190.1h.55M69.7 188.7h.55M69.1 190.2h.55M74.4 187.7h.55M71.7 188.6h.55M66.7 190.9h.55M71.0 192.3h.55M60.1 198.0h.55M64.0 200.1h.55M72.8 189.1h.55M75.9 184.8h.55M72.6 193.6h.55M62.2 187.8h.55M70.6 184.4h.55M66.6 193.9h.55M70.6 188.5h.55M64.4 187.2h.55M71.9 186.2h.55M75.7 185.4h.55M57.6 193.8h.55M70.1 184.5h.55M69.7 192.9h.55M58.3 191.5h.55M73.5 187.3h.55M69.7 184.9h.55M74.0 183.3h.55M72.6 188.4h.55M55.5 189.5h.55M76.8 183.1h.55M69.1 194.4h.55M69.7 192.0h.55M66.2 187.5h.55M67.6 187.4h.55M66.4 189.4h.55M65.8 190.6h.55M65.5 200.2h.55M60.4 194.3h.55M63.3 187.5h.55M80.5 176.4h.55M79.9 180.1h.55M58.1 190.4h.55M67.1 196.6h.55M66.4 202.6h.55M63.8 191.7h.55M78.3 183.1h.55M64.3 202.8h.55M63.1 204.2h.55M71.7 194.8h.55M70.0 184.8h.55M75.4 189.1h.55M71.4 200.4h.55M74.9 188.7h.55M66.4 200.4h.55M63.8 189.0h.55M74.8 191.1h.55M61.8 194.4h.55M67.5 194.6h.55M67.1 189.8h.55M56.8 199.9h.55M72.2 187.7h.55M68.4 188.6h.55M72.8 189.1h.55M71.5 187.1h.55M77.5 181.4h.55M71.6 190.6h.55M62.0 195.5h.55M70.1 190.0h.55M70.2 191.8h.55M65.6 191.4h.55M78.7 179.5h.55M62.7 192.7h.55M56.5 202.0h.55M72.7 189.2h.55M60.4 188.1h.55M58.7 201.2h.55M72.5 185.8h.55M58.5 190.3h.55M66.9 197.4h.55M68.5 201.7h.55M72.6 197.3h.55M70.4 189.0h.55M76.9 183.7h.55M70.9 191.6h.55M70.5 185.9h.55M71.3 186.5h.55M64.2 195.2h.55M79.6 178.0h.55M71.4 189.1h.55M57.8 187.2h.55M79.8 178.7h.55M60.4 202.8h.55M71.8 187.1h.55M74.9 186.0h.55M73.8 198.8h.55M67.5 192.1h.55M64.3 195.4h.55M68.9 194.2h.55M70.7 192.4h.55M64.8 202.0h.55M66.5 192.8h.55M71.9 188.6h.55M65.6 195.5h.55M71.4 195.9h.55M70.3 188.2h.55M70.9 187.6h.55M68.6 198.7h.55M63.2 195.4h.55M73.0 183.1h.55M73.0 193.1h.55M67.5 194.0h.55M55.3 192.1h.55M70.5 189.5h.55M63.8 193.2h.55M69.8 194.8h.55M60.9 199.0h.55M77.8 184.9h.55M61.9 197.2h.55M62.3 191.6h.55M48.1 199.3h.55M67.0 185.6h.55M63.0 191.0h.55M64.1 190.2h.55M73.1 188.1h.55M65.5 195.7h.55M68.7 189.7h.55M66.5 197.8h.55M62.5 189.8h.55M61.7 186.0h.55M73.3 189.4h.55M66.6 188.4h.55M73.8 187.7h.55M67.0 183.2h.55M56.6 195.6h.55M56.1 198.7h.55M72.1 182.2h.55M74.2 190.7h.55M77.2 181.6h.55M72.9 190.0h.55M67.6 198.8h.55M71.2 184.2h.55M75.4 183.5h.55M65.2 197.8h.55M73.3 193.5h.55M69.5 192.6h.55M63.3 193.1h.55M75.0 183.9h.55M64.7 196.0h.55M68.1 192.5h.55M63.1 193.5h.55M63.1 193.8h.55M70.9 194.3h.55M59.4 194.5h.55M74.2 181.1h.55M67.5 191.4h.55M74.7 181.7h.55M58.6 204.0h.55M74.4 195.6h.55M69.4 186.2h.55M80.8 183.3h.55M69.7 192.6h.55M56.4 196.9h.55M70.8 191.8h.55M61.1 201.3h.55M73.6 186.2h.55M67.2 197.6h.55M60.2 190.7h.55M61.9 200.7h.55M68.7 192.6h.55M72.4 189.5h.55M79.0 179.9h.55M70.7 192.2h.55M65.5 193.4h.55M58.3 191.2h.55M59.5 193.6h.55M67.4 191.2h.55M63.8 193.6h.55M69.9 193.7h.55M63.5 187.1h.55M60.8 196.8h.55M68.2 190.7h.55M64.8 201.5h.55M75.0 195.1h.55M72.1 193.3h.55M73.3 187.7h.55M67.5 192.6h.55M69.8 204.5h.55M69.7 188.0h.55M77.7 182.3h.55M65.7 190.5h.55M69.1 200.0h.55M72.3 190.1h.55M72.8 189.0h.55M67.9 189.2h.55M66.1 194.4h.55M63.5 189.1h.55M72.9 187.3h.55M67.5 189.8h.55M55.9 199.5h.55M67.4 190.8h.55M71.1 187.0h.55M59.4 195.4h.55M65.6 194.3h.55M63.5 195.0h.55M61.3 207.0h.55M55.2 203.5h.55M69.1 188.9h.55M75.7 178.5h.55M54.5 194.4h.55M56.2 195.8h.55M78.4 182.4h.55M70.6 188.7h.55M71.4 197.6h.55M75.5 184.6h.55M61.1 198.1h.55M62.8 192.1h.55M66.2 188.6h.55M77.7 184.2h.55M62.9 185.4h.55M69.5 189.2h.55M67.1 191.3h.55M70.0 197.5h.55M69.1 188.6h.55M75.6 186.4h.55M68.4 204.4h.55M51.4 202.6h.55M59.7 196.5h.55M64.3 187.8h.55M72.1 182.9h.55M75.2 187.8h.55M70.1 187.5h.55M79.8 190.3h.55M76.9 188.8h.55M69.4 185.5h.55M70.6 192.3h.55M67.7 188.6h.55M77.8 188.2h.55M74.8 189.1h.55M64.0 188.7h.55M64.6 183.3h.55M64.2 200.2h.55M63.0 196.9h.55M63.8 187.3h.55M61.7 195.8h.55M69.3 192.4h.55M68.1 196.2h.55M63.1 199.7h.55M60.9 196.0h.55M74.0 185.0h.55M67.1 193.8h.55M66.8 189.0h.55M70.8 193.6h.55M66.0 188.7h.55M60.6 201.4h.55M71.1 188.2h.55M62.5 198.2h.55M72.1 186.9h.55M53.6 199.9h.55M68.1 186.5h.55M61.3 198.2h.55M68.1 192.4h.55M69.6 201.0h.55M67.0 194.3h.55M71.9 186.9h.55M60.4 198.8h.55M70.1 192.5h.55M65.6 188.0h.55M72.1 184.8h.55M70.5 183.6h.55M62.9 189.1h.55M63.9 195.8h.55M81.5 177.9h.55M71.2 188.7h.55M59.4 191.2h.55M68.8 202.2h.55M52.2 203.9h.55M64.3 189.8h.55M63.2 189.6h.55M73.3 187.5h.55M62.9 192.7h.55M71.8 191.9h.55M63.9 188.5h.55M71.0 185.1h.55M68.3 190.3h.55M60.6 192.0h.55M70.9 190.1h.55M68.9 182.0h.55M62.0 197.2h.55M75.8 185.5h.55M59.4 196.2h.55M81.0 181.6h.55M68.6 191.9h.55M70.2 189.2h.55M65.3 184.6h.55M74.0 184.9h.55M65.8 190.7h.55M75.0 190.1h.55M64.0 185.5h.55M67.7 192.1h.55M52.4 205.7h.55M59.5 205.9h.55M65.1 191.1h.55M72.8 188.2h.55M68.3 189.4h.55M73.9 184.7h.55M65.7 187.7h.55M74.2 183.3h.55M74.5 184.9h.55M62.3 192.0h.55M61.3 199.5h.55M65.1 202.2h.55M58.3 194.5h.55M75.7 184.7h.55M75.3 190.0h.55M58.8 189.4h.55M80.5 180.6h.55M76.6 184.2h.55M67.7 198.6h.55M68.8 187.1h.55M63.2 190.2h.55M61.0 194.3h.55M62.6 191.7h.55M73.4 200.1h.55M51.5 184.2h.55M66.9 185.7h.55M53.3 196.8h.55M64.4 193.5h.55M64.6 195.0h.55M61.2 195.8h.55M65.4 184.9h.55M61.2 192.7h.55M63.9 191.9h.55M70.6 193.0h.55M69.2 187.3h.55M78.1 182.7h.55M64.7 190.0h.55M65.6 194.9h.55M75.8 187.1h.55M82.3 176.8h.55M70.2 187.6h.55M59.7 194.6h.55M63.5 188.7h.55M66.9 190.3h.55M69.1 196.6h.55M73.2 183.0h.55M71.8 185.2h.55M79.3 180.1h.55M73.7 181.4h.55M57.1 192.6h.55M56.6 190.7h.55M57.1 198.4h.55M69.7 199.8h.55M64.9 193.3h.55M67.5 194.5h.55M65.9 186.7h.55M60.4 190.8h.55M63.8 194.1h.55M82.9 176.9h.55M75.1 187.1h.55M73.9 188.0h.55M76.0 185.4h.55M70.0 186.4h.55M70.0 193.2h.55M64.2 192.8h.55M60.8 191.8h.55M79.5 179.4h.55M62.6 193.7h.55M62.2 188.2h.55M74.8 183.3h.55M72.9 190.5h.55M63.8 194.4h.55M69.0 187.7h.55M75.4 188.9h.55M63.4 189.8h.55M55.8 193.0h.55M63.1 196.4h.55M73.0 187.0h.55M69.7 188.0h.55M75.7 184.8h.55M66.8 194.0h.55M69.2 187.3h.55M67.1 189.2h.55M59.8 191.6h.55M78.0 183.5h.55M62.8 203.6h.55M66.4 196.3h.55M69.9 185.6h.55M74.4 196.4h.55M67.2 187.1h.55M67.6 186.2h.55M62.7 188.4h.55M65.9 193.4h.55M67.6 195.7h.55M59.0 189.4h.55M69.6 197.3h.55M59.2 193.5h.55M54.9 204.7h.55M73.3 211.2h.55M66.8 205.3h.55M72.5 195.0h.55M75.5 177.9h.55M61.0 197.5h.55M57.3 199.9h.55M62.8 188.0h.55M63.5 189.1h.55M57.0 189.0h.55M62.7 187.9h.55M59.4 185.7h.55M73.0 173.6h.55M66.6 179.8h.55M61.2 189.4h.55M71.5 200.3h.55M62.5 187.8h.55M75.9 180.0h.55M81.7 182.4h.55M54.2 194.0h.55M71.4 185.9h.55M64.6 195.8h.55M69.4 180.9h.55M48.3 217.7h.55M56.1 213.4h.55M63.7 189.4h.55M67.4 180.9h.55M80.9 195.2h.55M84.4 175.1h.55M82.8 200.4h.55M64.9 201.6h.55M61.5 183.1h.55M84.4 188.1h.55M73.5 193.9h.55M74.7 181.9h.55M83.6 175.8h.55M75.2 183.4h.55M65.0 208.9h.55M65.4 191.3h.55M60.7 202.7h.55M65.0 192.1h.55M55.0 198.4h.55M53.5 191.4h.55M59.3 190.5h.55M68.4 194.3h.55M73.7 185.8h.55M66.7 186.3h.55M76.7 197.2h.55M47.5 209.5h.55M62.4 192.2h.55M64.9 201.4h.55M77.3 178.6h.55M68.2 186.3h.55M75.7 188.1h.55M59.4 206.7h.55M41.0 201.5h.55M58.9 183.7h.55M60.0 193.2h.55M75.5 180.0h.55M71.9 186.4h.55M85.0 188.0h.55M71.1 183.2h.55M56.3 208.2h.55M79.9 182.9h.55M75.2 196.2h.55M53.9 196.7h.55M60.7 210.9h.55M60.4 187.0h.55M50.1 197.4h.55M59.4 211.1h.55M70.3 186.6h.55M73.5 188.5h.55M61.8 202.3h.55M73.6 189.8h.55M57.7 186.8h.55M67.9 186.9h.55M68.0 194.6h.55M73.7 212.8h.55M69.9 191.5h.55M70.3 195.4h.55M70.2 185.5h.55M56.1 214.8h.55M67.7 177.8h.55M58.6 208.2h.55M65.5 203.9h.55M73.4 190.5h.55M58.6 204.4h.55M70.3 177.7h.55M60.6 197.9h.55M67.0 201.3h.55M67.5 191.5h.55M60.8 194.8h.55M64.2 189.7h.55M72.2 186.7h.55M69.4 183.9h.55M70.3 194.8h.55M71.4 181.2h.55M56.9 191.5h.55M75.3 190.8h.55M74.3 195.4h.55M78.5 193.9h.55M76.7 181.9h.55M63.9 197.7h.55M61.0 197.3h.55M69.1 197.7h.55M49.9 200.6h.55M57.4 199.5h.55M62.7 198.7h.55M67.0 188.9h.55M58.5 203.4h.55M74.1 190.9h.55M81.4 182.5h.55M63.2 197.3h.55M34.4 210.3h.55M66.2 186.4h.55M58.0 204.2h.55M67.4 181.4h.55M74.5 184.8h.55M62.5 199.4h.55M73.8 184.6h.55M63.2 193.9h.55M73.7 198.1h.55M70.0 195.7h.55M64.5 204.6h.55M60.5 190.2h.55M68.6 192.8h.55M71.7 195.4h.55M85.5 184.9h.55M72.6 182.1h.55M68.1 206.4h.55M85.7 185.2h.55M55.5 200.4h.55M70.1 186.3h.55M92.7 187.2h.55M54.6 199.6h.55M62.0 202.3h.55M79.3 187.4h.55M73.3 201.1h.55M53.0 209.8h.55M72.4 185.8h.55M62.1 186.5h.55M82.5 184.1h.55M57.2 200.2h.55M65.8 184.1h.55M73.0 184.9h.55M69.9 200.1h.55M68.2 185.8h.55M62.2 195.5h.55M68.7 199.2h.55M76.9 189.3h.55M66.5 180.5h.55M65.8 198.7h.55M75.6 188.7h.55M60.6 189.1h.55M55.4 182.9h.55M67.5 199.0h.55M79.1 191.7h.55M65.9 193.2h.55M60.2 198.5h.55M57.4 212.1h.55M61.4 179.0h.55M75.3 187.0h.55M70.5 201.7h.55M42.4 203.4h.55" stroke="#000" stroke-width=".55" stroke-opacity=".66" fill="none"/>
<path d="M35.0 214.2h.6M41.9 204.7h.6M47.8 221.1h.6M30.2 224.6h.6M43.4 216.7h.6M41.1 181.1h.6M46.1 208.0h.6M42.1 228.3h.6M34.9 218.1h.6M37.5 206.1h.6M31.4 177.6h.6M36.9 204.3h.6M46.9 226.3h.6M37.6 221.8h.6M59.0 219.6h.6M44.7 197.1h.6M34.2 224.2h.6M39.8 227.1h.6M36.7 207.0h.6M48.5 207.4h.6M40.0 203.8h.6M52.8 211.3h.6M32.4 224.9h.6M38.5 194.2h.6M48.4 208.6h.6M32.5 191.0h.6M34.1 220.0h.6M50.3 217.8h.6M48.0 227.7h.6M38.5 217.4h.6M29.3 208.7h.6M32.7 202.5h.6M27.4 203.7h.6M36.8 207.3h.6M30.6 212.6h.6M60.9 217.8h.6M27.1 201.6h.6M35.4 224.6h.6M47.7 224.7h.6M33.0 199.4h.6M46.7 209.9h.6M45.0 228.3h.6M32.6 192.3h.6M45.0 222.2h.6M27.9 192.5h.6M38.8 196.3h.6M57.0 182.7h.6M36.7 225.8h.6M41.8 223.9h.6M28.2 192.1h.6M51.2 213.7h.6M38.6 226.2h.6M39.0 211.5h.6M37.9 222.2h.6M49.1 181.6h.6M48.8 221.5h.6M48.7 227.6h.6M58.3 225.5h.6M34.8 181.7h.6M39.1 222.8h.6M42.0 227.6h.6M38.5 210.2h.6M45.4 191.3h.6M32.5 208.5h.6M36.3 212.9h.6M42.5 216.4h.6M48.0 217.2h.6M32.2 207.4h.6M38.9 217.1h.6M43.2 227.0h.6M47.3 227.9h.6M39.9 216.3h.6M45.6 205.2h.6M35.3 227.5h.6M42.8 213.3h.6M37.2 223.6h.6M52.6 209.1h.6M37.4 197.3h.6M77.5 221.4h.6M38.0 216.5h.6M45.7 218.1h.6M33.9 206.4h.6M27.9 189.5h.6M40.4 212.2h.6M50.8 217.3h.6M34.2 204.9h.6M43.7 217.9h.6M36.4 210.8h.6M41.5 186.3h.6M35.6 217.9h.6M49.4 200.3h.6M42.4 217.5h.6M28.8 223.9h.6M43.3 226.8h.6M43.5 210.7h.6M48.7 218.1h.6M52.3 219.0h.6M29.7 226.6h.6M33.3 177.4h.6M27.0 184.8h.6M47.1 220.5h.6M49.9 209.4h.6M48.3 197.2h.6M27.6 204.7h.6M31.2 169.0h.6M47.1 198.5h.6M36.2 220.9h.6M45.3 205.7h.6M31.4 212.7h.6M53.4 181.5h.6M38.0 225.0h.6M31.7 226.0h.6M33.3 204.4h.6M45.3 187.0h.6M31.2 214.4h.6M46.0 205.0h.6M38.9 192.3h.6M32.7 202.3h.6M32.7 218.5h.6M36.0 211.0h.6M31.2 223.7h.6M31.0 214.3h.6M53.6 211.1h.6M38.8 223.2h.6M49.8 205.1h.6M43.0 214.8h.6M31.8 221.0h.6M43.5 224.8h.6M35.8 197.7h.6M36.6 226.7h.6" stroke="#000" stroke-width=".6" stroke-opacity=".3" fill="none"/>
<rect x="26.80" y="151.30" width="77.60" height="77.30" fill="none" stroke="#777" stroke-width="0.7"/>
<line x1="44.40" y1="151.30" x2="44.40" y2="228.60" stroke="#666" stroke-width="0.7"/>
<line x1="26.80" y1="213.00" x2="104.40" y2="213.00" stroke="#666" stroke-width="1.1"/>
<text x="27.70" y="154.60" font-size="3.5" text-anchor="start" fill="#444" stroke="#444" stroke-width=".12">0.13</text>
<text x="103.90" y="154.60" font-size="3.5" text-anchor="end" fill="#444" stroke="#444" stroke-width=".12">97.13</text>
<text x="27.70" y="227.80" font-size="3.5" text-anchor="start" fill="#444" stroke="#444" stroke-width=".12">2.19</text>
<text x="103.90" y="227.80" font-size="3.5" text-anchor="end" fill="#444" stroke="#444" stroke-width=".12">0.56</text>
<text x="24.60" y="237.00" font-size="4" fill="#222" stroke="#222" stroke-width=".18">10<tspan dy="-2.2" font-size="2.9">0</tspan></text>
<text x="18.90" y="231.00" font-size="4" fill="#222" stroke="#222" stroke-width=".18">10<tspan dy="-2.2" font-size="2.9">0</tspan></text>
<text x="43.92" y="237.00" font-size="4" fill="#222" stroke="#222" stroke-width=".18">10<tspan dy="-2.2" font-size="2.9">1</tspan></text>
<text x="18.90" y="211.68" font-size="4" fill="#222" stroke="#222" stroke-width=".18">10<tspan dy="-2.2" font-size="2.9">1</tspan></text>
<text x="63.25" y="237.00" font-size="4" fill="#222" stroke="#222" stroke-width=".18">10<tspan dy="-2.2" font-size="2.9">2</tspan></text>
<text x="18.90" y="192.35" font-size="4" fill="#222" stroke="#222" stroke-width=".18">10<tspan dy="-2.2" font-size="2.9">2</tspan></text>
<text x="82.57" y="237.00" font-size="4" fill="#222" stroke="#222" stroke-width=".18">10<tspan dy="-2.2" font-size="2.9">3</tspan></text>
<text x="18.90" y="173.03" font-size="4" fill="#222" stroke="#222" stroke-width=".18">10<tspan dy="-2.2" font-size="2.9">3</tspan></text>
<text x="56.80" y="242.30" font-size="3.3" text-anchor="middle" fill="#333" stroke="#333" stroke-width=".12">CD8 APC</text>
<text x="11.50" y="190.45" font-size="3.55" text-anchor="middle" fill="#5a5a5a" transform="rotate(-90 11.50 190.45)" stroke="#5a5a5a" stroke-width=".18">HLA-A2/HY Tetramer-PE</text>
<text x="39.30" y="274.40" font-size="7.6" font-weight="bold" stroke="#000" stroke-width="0.27" text-anchor="start" fill="#000">clone 13</text>
<path d="M48.9 313.7h.55M56.4 326.1h.55M54.6 327.9h.55M51.5 326.9h.55M64.9 326.7h.55M58.9 323.8h.55M63.6 327.6h.55M57.3 323.5h.55M62.1 316.7h.55M52.1 325.7h.55M54.5 328.0h.55M52.1 333.5h.55M61.1 331.5h.55M67.9 329.1h.55M70.1 324.6h.55M55.9 326.9h.55M63.0 321.0h.55M64.4 328.9h.55M56.4 324.7h.55M69.1 326.3h.55M69.2 321.0h.55M66.3 327.2h.55M60.7 327.0h.55M59.5 322.2h.55M59.8 331.4h.55M62.3 327.5h.55M63.2 329.0h.55M58.6 329.3h.55M61.1 332.2h.55M63.3 323.0h.55M65.4 326.8h.55M64.5 321.4h.55M58.5 330.5h.55M56.2 314.0h.55M66.0 319.2h.55M67.9 321.7h.55M51.3 325.5h.55M66.3 327.0h.55M61.3 325.4h.55M65.4 324.0h.55M57.6 317.1h.55M71.4 327.7h.55M56.5 323.6h.55M67.1 322.9h.55M67.9 322.0h.55M52.6 327.2h.55M55.0 325.1h.55M60.7 331.1h.55M68.7 321.9h.55M62.7 325.8h.55M53.6 329.4h.55M69.7 322.0h.55M65.8 319.9h.55M49.5 322.5h.55M59.7 322.0h.55M57.1 327.2h.55M60.8 324.6h.55M54.5 322.1h.55M64.7 319.2h.55M54.0 325.0h.55M67.0 321.9h.55M47.7 327.1h.55M57.3 327.7h.55M61.1 321.8h.55M63.2 322.9h.55M76.0 333.4h.55M56.6 326.3h.55M62.1 321.2h.55M56.2 325.0h.55M57.8 319.4h.55M61.2 333.7h.55M63.9 327.9h.55M62.3 329.5h.55M55.7 326.2h.55M64.9 325.4h.55M60.8 322.2h.55M59.4 327.1h.55M66.4 323.4h.55M46.1 331.5h.55M63.2 335.6h.55M62.0 313.7h.55M70.9 316.2h.55M61.0 329.2h.55M74.6 327.2h.55M68.6 324.6h.55M59.4 327.1h.55M61.7 325.5h.55M68.1 324.7h.55M57.0 329.8h.55M48.0 332.3h.55M59.0 332.7h.55M59.2 319.6h.55M75.1 327.8h.55M59.2 329.0h.55M63.7 325.9h.55M51.5 328.3h.55M67.4 321.7h.55M53.0 321.7h.55M74.0 312.2h.55M69.7 326.7h.55M60.5 321.7h.55M68.6 322.9h.55M62.0 322.2h.55M62.3 321.3h.55M49.6 316.7h.55M60.1 320.6h.55M57.5 324.6h.55M60.0 327.5h.55M61.3 329.2h.55M70.1 327.3h.55M63.1 326.2h.55M53.9 331.3h.55M48.7 317.4h.55M67.7 327.9h.55M67.7 322.8h.55M52.9 330.4h.55M67.3 325.7h.55M58.1 325.8h.55M62.3 325.3h.55M70.0 323.7h.55M67.3 325.4h.55M58.5 321.5h.55M58.5 327.0h.55M62.4 327.8h.55M63.1 323.2h.55M61.1 324.6h.55M53.3 315.9h.55M61.6 315.9h.55M64.7 325.2h.55M62.5 328.8h.55M57.7 313.3h.55M69.3 330.0h.55M53.3 326.7h.55M72.3 332.1h.55M73.7 323.5h.55M62.4 325.4h.55M68.1 321.4h.55M55.6 323.5h.55M69.6 322.8h.55M61.4 323.9h.55M66.8 325.8h.55M61.7 319.2h.55M60.8 324.4h.55M59.8 317.2h.55M66.7 325.5h.55M57.1 326.9h.55M61.7 327.7h.55M57.9 333.1h.55M58.8 322.6h.55M57.5 316.8h.55M61.1 322.8h.55M62.3 326.7h.55M60.2 318.6h.55M63.0 320.9h.55M62.1 326.2h.55M67.6 326.8h.55M54.2 325.0h.55M56.4 319.2h.55M65.4 328.3h.55M71.0 320.7h.55M67.6 328.7h.55M54.8 323.4h.55M58.7 313.8h.55M57.2 327.2h.55M52.3 316.0h.55M59.4 323.6h.55M75.5 319.0h.55M62.7 328.1h.55M60.1 322.8h.55M59.1 324.8h.55M64.4 319.7h.55M60.9 325.6h.55M51.1 324.9h.55M53.0 328.0h.55M54.3 322.2h.55M66.2 322.5h.55M56.8 326.5h.55M57.7 327.0h.55M56.1 326.8h.55M64.9 326.4h.55M62.6 332.4h.55M62.6 325.1h.55M64.3 329.4h.55M57.3 328.5h.55M67.2 317.0h.55M60.7 328.2h.55M51.9 318.8h.55M61.1 317.4h.55M66.7 322.8h.55M55.8 323.6h.55M65.3 322.7h.55M56.7 336.5h.55M69.9 321.9h.55M65.0 329.3h.55M60.5 331.8h.55M67.2 323.8h.55M63.2 319.6h.55M61.5 319.6h.55M49.9 329.0h.55M66.7 321.1h.55M51.6 324.7h.55M58.2 328.0h.55M56.1 328.7h.55M62.3 322.0h.55M71.4 322.7h.55M60.5 323.4h.55M61.4 319.5h.55M49.2 325.0h.55M66.8 321.1h.55M63.2 327.8h.55M75.5 324.3h.55M64.9 323.4h.55M56.6 329.2h.55M65.3 323.7h.55M52.4 332.7h.55M56.8 325.8h.55M56.6 327.6h.55M63.8 320.0h.55M59.0 327.0h.55M54.5 324.1h.55M53.5 324.8h.55M55.1 328.5h.55M64.0 320.2h.55M62.0 323.6h.55M55.8 322.9h.55M69.7 323.1h.55M52.3 333.9h.55M64.8 323.0h.55M59.3 322.3h.55M62.7 323.4h.55M66.9 321.0h.55M64.5 325.3h.55M68.2 324.0h.55M66.3 320.3h.55M71.2 340.7h.55M55.8 331.9h.55M56.9 324.7h.55M61.5 326.1h.55M59.6 327.8h.55M50.6 313.9h.55M65.2 327.1h.55M63.4 323.8h.55M53.5 327.3h.55M51.7 326.6h.55M59.4 320.5h.55M72.2 320.9h.55M61.0 323.4h.55M69.6 326.1h.55M61.2 324.9h.55M67.3 331.0h.55M53.7 327.7h.55M62.4 325.8h.55M54.6 338.6h.55M61.2 323.0h.55M74.0 334.8h.55M68.4 327.3h.55M59.9 331.0h.55M65.0 317.0h.55M61.1 326.7h.55M53.8 318.9h.55M63.9 323.2h.55M69.0 322.6h.55M57.1 325.5h.55M69.9 324.7h.55M57.3 328.0h.55M55.8 318.6h.55M59.5 327.9h.55M63.6 324.2h.55M66.9 329.2h.55M62.4 320.5h.55M60.6 325.5h.55M57.2 322.0h.55M65.7 325.7h.55M49.6 329.3h.55M69.3 324.0h.55M64.3 316.1h.55M64.9 321.6h.55M60.4 330.9h.55M56.0 329.5h.55M64.1 325.0h.55M63.0 330.8h.55M64.7 321.8h.55M53.8 328.9h.55M64.2 325.0h.55M60.9 325.8h.55M57.5 327.3h.55M62.2 322.5h.55M70.8 321.1h.55M55.4 327.0h.55M65.0 323.1h.55M66.6 325.1h.55M52.0 334.7h.55M55.6 329.5h.55M61.8 319.3h.55M61.1 322.9h.55M57.1 326.4h.55M65.1 326.2h.55M44.6 324.2h.55M55.7 328.7h.55M61.4 321.5h.55M61.6 325.8h.55M57.9 328.7h.55M59.2 322.3h.55M59.5 323.2h.55M68.1 327.6h.55M64.2 319.0h.55M59.4 316.7h.55M62.3 326.7h.55M64.1 325.4h.55M50.8 333.3h.55M56.9 328.4h.55M64.3 323.7h.55M63.2 324.6h.55M60.2 321.5h.55M51.8 322.1h.55M60.4 329.6h.55M61.2 321.9h.55M63.0 333.1h.55M57.9 324.2h.55M58.2 324.6h.55M72.2 323.8h.55M56.8 330.9h.55M60.8 318.7h.55M54.8 325.4h.55M58.5 330.4h.55M59.7 324.9h.55M64.7 322.3h.55M61.1 322.8h.55M58.0 316.8h.55M67.2 323.5h.55M65.0 321.7h.55M68.5 326.4h.55M51.8 322.2h.55M54.1 319.8h.55M59.2 316.3h.55M59.0 325.3h.55M61.9 330.0h.55M58.4 325.2h.55M66.3 324.0h.55M65.2 322.1h.55M54.3 330.0h.55M60.7 327.6h.55M69.8 323.5h.55M70.6 319.9h.55M60.0 326.6h.55M58.0 326.0h.55M61.5 324.6h.55M55.1 331.6h.55M70.0 323.5h.55M54.5 324.8h.55M60.1 322.2h.55M68.7 323.7h.55M64.1 323.3h.55M69.0 317.8h.55M62.4 322.2h.55M58.2 320.3h.55M58.7 327.4h.55M62.2 327.0h.55M62.5 323.1h.55M61.4 318.6h.55M63.2 327.3h.55M71.8 325.1h.55M65.6 321.7h.55M62.1 325.1h.55M54.7 324.8h.55M52.9 326.0h.55M60.2 327.3h.55M65.1 318.5h.55M62.3 327.1h.55M57.2 323.5h.55M52.4 325.5h.55M66.9 328.4h.55M54.5 321.6h.55M56.3 320.0h.55M63.5 334.3h.55M55.2 329.1h.55M57.4 322.0h.55M60.1 327.1h.55M67.4 324.6h.55M58.7 326.4h.55M58.9 324.4h.55M67.7 323.9h.55M71.5 319.9h.55M56.9 333.8h.55M57.1 315.2h.55M54.5 328.8h.55M63.1 328.0h.55M57.3 320.6h.55M69.4 328.1h.55M74.5 325.1h.55M60.4 329.6h.55M52.8 332.7h.55M53.4 330.3h.55M59.4 330.3h.55M60.6 321.3h.55M60.3 318.3h.55M66.0 333.4h.55M58.2 325.0h.55M63.1 317.0h.55M63.6 321.3h.55M61.4 325.5h.55M60.1 316.9h.55M53.7 328.6h.55M61.0 323.7h.55M60.0 330.8h.55M57.1 320.8h.55M66.3 313.6h.55M61.3 328.1h.55M54.9 326.8h.55M56.2 321.9h.55M58.6 324.9h.55M63.8 316.9h.55M53.3 316.5h.55M57.5 322.1h.55M57.8 323.1h.55M57.3 324.7h.55M67.0 321.4h.55M70.8 324.2h.55M56.2 327.7h.55M62.1 330.4h.55M68.5 325.9h.55M61.2 322.8h.55M57.6 320.5h.55M62.6 326.1h.55M67.9 322.5h.55M59.5 329.4h.55M67.6 327.6h.55M63.3 324.9h.55M65.3 327.5h.55M65.8 325.2h.55M60.2 328.4h.55M68.0 326.9h.55M62.7 331.0h.55M63.0 322.0h.55M61.7 323.4h.55M61.5 319.2h.55M71.9 316.2h.55M65.3 325.9h.55M62.6 320.3h.55M62.6 324.8h.55M47.4 333.2h.55M59.4 318.8h.55M62.4 323.3h.55M60.4 334.4h.55M60.3 316.3h.55M60.9 317.5h.55M57.9 330.4h.55M58.5 318.8h.55M63.6 329.8h.55M66.7 321.2h.55M60.6 327.2h.55M61.5 326.3h.55M60.0 322.5h.55M62.3 325.9h.55M67.8 324.4h.55M61.4 326.9h.55M58.8 320.7h.55M68.8 324.5h.55M62.5 325.1h.55M63.6 318.7h.55M60.0 324.5h.55M59.1 330.1h.55M56.4 330.2h.55M65.1 314.7h.55M64.0 319.0h.55M69.5 326.1h.55M71.3 326.9h.55M57.8 337.3h.55M57.7 334.8h.55M64.6 321.2h.55M55.1 320.2h.55M55.1 324.8h.55M74.1 330.5h.55M69.9 334.2h.55M69.1 319.5h.55M60.5 325.1h.55M70.5 323.5h.55M61.0 326.9h.55M70.0 320.4h.55M62.9 328.1h.55M60.4 323.5h.55M65.2 330.5h.55M66.4 325.1h.55M75.1 329.6h.55M57.6 317.8h.55M59.4 331.3h.55M57.2 326.0h.55M56.3 322.5h.55M62.7 323.0h.55M60.3 320.4h.55M53.9 325.7h.55M67.4 322.7h.55M59.6 325.4h.55M55.2 324.5h.55M66.3 326.1h.55M53.7 322.1h.55M69.9 320.3h.55M61.2 320.3h.55M60.0 321.3h.55M55.7 320.7h.55M66.8 324.1h.55M58.7 329.4h.55M65.5 324.1h.55M59.9 331.4h.55M65.6 318.4h.55M58.8 324.2h.55M54.2 326.3h.55M59.2 321.7h.55M61.2 330.2h.55M62.0 319.4h.55M56.5 324.4h.55M60.8 321.7h.55M55.8 322.6h.55M64.4 324.2h.55M60.9 314.9h.55M58.1 320.2h.55M59.9 323.3h.55M61.8 321.4h.55M67.7 324.1h.55M61.4 329.2h.55M58.1 322.3h.55M57.1 335.3h.55M57.6 324.6h.55M67.1 324.0h.55M70.3 326.5h.55M63.3 321.8h.55M59.3 319.6h.55M71.0 320.9h.55M54.3 322.4h.55M55.4 317.8h.55M62.5 326.7h.55M50.4 319.1h.55M61.3 320.7h.55M59.6 322.6h.55M60.5 321.5h.55M65.2 325.7h.55M53.7 327.1h.55M60.7 322.8h.55M51.4 318.1h.55M72.1 319.1h.55M60.1 329.1h.55M59.2 328.4h.55M60.5 322.8h.55M68.0 325.4h.55M67.3 325.4h.55M57.1 322.8h.55M63.8 321.8h.55M58.1 326.0h.55M65.7 325.0h.55M53.7 327.5h.55M60.7 323.1h.55M66.9 323.6h.55M61.1 323.4h.55M55.0 324.9h.55M62.8 325.3h.55M57.3 317.6h.55M61.3 330.2h.55M68.2 325.1h.55M63.7 319.9h.55M60.2 324.5h.55M72.7 319.9h.55M56.8 323.0h.55M65.5 322.3h.55M64.8 327.3h.55M65.4 318.8h.55M60.2 329.3h.55M58.6 329.0h.55M64.1 317.7h.55M65.5 323.8h.55M70.8 321.6h.55M57.9 322.4h.55M51.4 330.0h.55M67.4 318.6h.55M66.2 326.9h.55M58.7 322.8h.55M61.4 328.3h.55M57.5 318.5h.55M66.9 319.7h.55M71.9 326.5h.55M64.7 321.2h.55M66.5 325.1h.55M59.1 328.2h.55M54.1 322.1h.55M54.8 336.9h.55M64.3 322.6h.55M59.4 330.6h.55M62.5 321.0h.55M49.8 324.9h.55M77.2 324.0h.55M57.6 333.0h.55M54.5 339.8h.55M63.9 320.0h.55M71.1 330.4h.55M62.6 317.2h.55M73.1 323.1h.55M64.3 325.6h.55M65.7 320.7h.55M58.9 324.4h.55M58.3 324.8h.55M63.5 326.0h.55M63.6 325.2h.55M58.7 323.1h.55M62.4 325.1h.55M58.1 326.5h.55M60.7 327.0h.55M63.7 325.9h.55M64.2 316.2h.55M57.7 316.9h.55M63.8 331.1h.55M56.8 321.2h.55M57.8 326.5h.55M66.2 323.4h.55M64.3 322.8h.55M58.5 318.5h.55M58.7 334.2h.55M61.7 320.5h.55M64.9 329.5h.55M64.8 326.2h.55M48.5 324.2h.55M60.6 322.5h.55M63.7 324.9h.55M66.1 325.9h.55M61.6 329.9h.55M58.1 327.2h.55M53.2 325.6h.55M57.6 322.8h.55M53.1 323.4h.55M55.6 322.9h.55M59.4 320.7h.55M64.9 320.2h.55M59.4 327.7h.55M57.6 327.6h.55M63.0 327.7h.55M52.4 325.3h.55M65.8 326.8h.55M49.9 327.1h.55M62.1 320.7h.55M64.4 320.5h.55M67.3 328.7h.55M54.2 327.1h.55M61.2 329.0h.55M61.1 325.9h.55M57.7 325.9h.55M56.7 340.6h.55M61.3 326.7h.55M65.2 322.7h.55M60.9 327.4h.55M61.0 320.2h.55M58.4 323.7h.55M58.6 325.0h.55M61.6 325.0h.55M73.7 328.5h.55M66.3 326.1h.55M57.5 323.7h.55M68.9 326.5h.55M66.2 324.1h.55M58.1 324.0h.55M69.9 320.7h.55M57.6 322.5h.55M54.9 319.9h.55M64.9 316.9h.55M67.6 330.7h.55M57.8 324.7h.55M65.6 329.4h.55M61.1 320.8h.55M51.6 321.3h.55M60.8 328.1h.55M57.7 334.5h.55M56.1 323.0h.55M55.3 327.6h.55M67.2 319.1h.55M64.1 315.0h.55M59.5 327.8h.55M58.1 322.0h.55M62.8 330.0h.55M59.3 324.7h.55M65.5 323.9h.55M54.5 326.4h.55M50.9 337.7h.55M56.2 318.8h.55M64.0 330.0h.55M64.0 321.4h.55M63.6 336.3h.55M62.5 316.1h.55M60.3 326.9h.55M57.5 326.0h.55M59.2 323.3h.55M56.2 325.8h.55M58.1 322.3h.55M54.1 327.4h.55M64.0 324.6h.55M67.1 321.1h.55M57.5 328.3h.55M57.5 328.8h.55M63.2 325.0h.55M51.0 326.4h.55M70.0 323.1h.55M63.8 323.9h.55M60.7 320.4h.55M59.2 324.5h.55M57.8 322.4h.55M66.8 321.7h.55M51.1 318.7h.55M55.7 325.6h.55M55.1 324.2h.55M60.0 326.5h.55M50.0 326.3h.55M59.9 321.5h.55M59.6 321.7h.55M62.8 326.0h.55M58.0 321.2h.55M67.7 328.5h.55M64.9 324.7h.55M62.1 317.5h.55M62.3 323.9h.55M50.5 318.4h.55M65.3 326.6h.55M63.0 314.8h.55M58.6 325.9h.55M65.7 319.4h.55M65.8 324.6h.55M62.3 321.5h.55M60.9 329.3h.55M66.5 330.4h.55M62.2 327.0h.55M60.0 327.0h.55M58.8 315.1h.55M67.9 327.1h.55M67.8 323.7h.55M70.1 320.0h.55M53.8 327.0h.55M66.3 320.7h.55M71.8 324.4h.55M64.0 327.0h.55M57.5 323.8h.55M66.4 318.0h.55M64.4 323.7h.55M53.8 321.5h.55M58.9 320.1h.55M66.1 326.7h.55M59.0 322.3h.55M66.8 328.0h.55M63.0 322.5h.55M70.2 333.5h.55M52.6 328.3h.55M50.4 328.6h.55M64.5 326.1h.55M53.3 321.1h.55M56.2 330.7h.55M54.1 328.1h.55M54.3 318.4h.55M63.0 328.8h.55M59.0 326.3h.55M68.5 322.5h.55M71.1 321.7h.55M59.5 322.8h.55M59.1 325.2h.55M56.5 324.1h.55M69.5 317.6h.55M65.9 323.8h.55M60.6 321.6h.55M60.5 322.0h.55M57.0 319.8h.55M55.5 327.2h.55M62.9 319.8h.55M58.0 322.9h.55M59.5 333.4h.55M60.7 326.2h.55M58.0 323.4h.55M50.5 326.4h.55M57.7 327.4h.55M65.5 330.5h.55M58.5 323.1h.55M63.0 316.7h.55M67.5 328.0h.55M55.4 322.6h.55M58.2 330.5h.55M57.6 331.9h.55M71.4 324.5h.55M66.6 327.6h.55M65.0 325.3h.55M54.7 320.0h.55M63.8 322.0h.55M59.8 318.9h.55M58.2 334.5h.55M63.0 327.3h.55M74.7 317.4h.55M57.7 327.2h.55M58.6 331.6h.55M60.5 324.3h.55M63.9 325.1h.55M74.2 329.1h.55M72.0 315.9h.55M61.8 329.0h.55M59.7 331.9h.55M63.4 321.7h.55M57.5 320.7h.55M60.8 327.3h.55M58.2 316.5h.55M61.1 315.9h.55M56.5 323.9h.55M57.2 331.5h.55M69.8 327.2h.55M60.7 331.6h.55M67.5 318.0h.55M64.4 316.1h.55M60.3 321.8h.55M60.8 326.4h.55M55.9 320.0h.55M58.2 328.6h.55M66.6 321.0h.55M70.7 328.3h.55M53.6 322.5h.55M62.6 326.3h.55M57.8 325.1h.55M51.8 322.5h.55M57.1 326.0h.55M59.5 321.8h.55M70.8 320.6h.55M58.4 321.6h.55M70.9 322.1h.55M61.0 320.4h.55M62.7 326.3h.55M61.4 328.8h.55M55.2 325.8h.55M64.7 316.4h.55M56.5 327.2h.55M55.5 322.2h.55M60.4 321.3h.55M65.5 317.5h.55M63.4 326.4h.55M57.7 326.5h.55M65.0 332.8h.55M54.1 330.6h.55M62.0 330.2h.55M64.9 318.4h.55M58.4 326.0h.55M55.3 322.4h.55M59.3 320.5h.55M64.0 326.2h.55M61.3 320.6h.55M69.4 321.4h.55M65.6 317.5h.55M60.5 320.8h.55M56.5 334.8h.55M57.9 337.7h.55M67.0 316.0h.55M61.1 317.0h.55M61.7 328.5h.55M58.2 329.6h.55M62.8 324.1h.55M60.3 324.7h.55M56.3 323.9h.55M61.4 321.7h.55M56.5 326.2h.55M60.6 322.7h.55M71.1 320.8h.55M73.6 322.0h.55M69.6 328.7h.55M65.2 323.6h.55M63.5 319.2h.55M68.2 312.2h.55M63.7 315.2h.55M54.5 320.3h.55M65.1 323.8h.55M63.6 329.3h.55M61.8 322.4h.55M63.7 331.0h.55M55.9 317.1h.55M62.1 320.5h.55M62.2 327.3h.55M62.2 327.2h.55M51.0 319.0h.55M62.1 324.8h.55M59.4 325.5h.55M56.7 325.6h.55M58.0 318.5h.55M59.6 319.7h.55M60.0 332.8h.55M62.4 326.5h.55M58.7 331.4h.55M58.4 330.8h.55M64.5 323.9h.55M71.5 332.6h.55M68.9 327.4h.55M60.8 325.5h.55M68.0 323.4h.55M61.4 326.7h.55M63.6 325.5h.55M67.8 328.9h.55M68.1 339.4h.55M62.7 321.8h.55M60.4 324.6h.55M56.5 331.3h.55M64.3 321.5h.55M65.9 326.2h.55M56.5 328.9h.55M62.2 325.1h.55M58.7 331.1h.55M62.5 330.1h.55M63.3 325.6h.55M54.4 322.7h.55M69.9 318.6h.55M61.3 320.6h.55M63.2 330.8h.55M64.4 330.3h.55M55.7 321.5h.55M56.8 329.8h.55M56.1 327.0h.55M59.4 323.0h.55M66.1 323.9h.55M56.9 323.4h.55M52.0 325.0h.55M58.4 319.9h.55M53.3 330.0h.55M53.0 321.6h.55M53.6 328.9h.55M64.2 323.0h.55M69.2 323.0h.55M55.4 322.8h.55M57.9 320.7h.55M75.6 321.7h.55M54.0 332.1h.55M65.9 330.0h.55M55.7 328.0h.55M64.0 329.1h.55M61.4 323.4h.55M54.9 323.4h.55M58.8 332.2h.55M65.2 325.1h.55M56.9 318.2h.55M63.6 322.2h.55M63.7 320.7h.55M53.6 322.5h.55M62.6 327.3h.55M51.5 319.8h.55M67.8 319.0h.55M64.0 328.5h.55M62.4 325.4h.55M52.8 325.2h.55M62.2 333.5h.55M56.7 323.2h.55M66.0 329.0h.55M67.0 319.9h.55M58.2 331.5h.55M51.4 322.6h.55M55.8 311.4h.55M68.6 336.6h.55M53.4 329.8h.55M65.4 318.7h.55M55.1 325.6h.55M66.4 327.3h.55M56.9 322.9h.55M65.6 334.1h.55M67.6 328.4h.55M64.4 320.8h.55M67.0 323.5h.55M62.0 328.3h.55M65.7 326.1h.55M63.8 321.4h.55M58.2 327.8h.55M69.8 324.1h.55M70.5 318.6h.55M53.5 332.4h.55M62.9 327.4h.55M55.8 333.7h.55M51.3 323.6h.55M61.8 325.3h.55M74.3 319.0h.55M59.2 324.4h.55M63.9 319.2h.55M64.8 324.1h.55M64.3 329.3h.55M56.0 320.2h.55M56.4 325.9h.55M56.8 322.8h.55M56.0 322.7h.55M55.9 325.8h.55M61.9 318.9h.55M71.2 326.7h.55M66.8 318.6h.55M59.4 325.3h.55M57.3 319.8h.55M72.6 318.6h.55M56.1 325.7h.55M59.6 327.5h.55M60.8 325.7h.55M62.9 325.5h.55M59.3 322.4h.55M58.3 325.4h.55M61.9 324.0h.55M56.6 325.1h.55M54.2 321.8h.55M57.1 318.9h.55M60.9 322.7h.55M63.3 319.9h.55M62.2 327.1h.55M71.6 322.2h.55M61.1 327.6h.55M58.7 320.6h.55M55.4 322.2h.55M59.1 326.1h.55M64.1 320.3h.55M64.0 330.6h.55M57.6 323.0h.55M59.0 332.6h.55M48.3 319.8h.55M58.3 329.1h.55M64.5 316.0h.55M54.3 324.2h.55M69.6 318.5h.55M59.4 334.9h.55M55.7 322.2h.55M53.0 318.2h.55M56.9 329.8h.55M52.5 330.9h.55M55.4 326.6h.55M63.4 324.6h.55M50.4 324.6h.55M61.4 322.9h.55M58.2 327.7h.55M52.1 336.4h.55M56.0 330.0h.55M61.0 318.5h.55M60.6 325.3h.55M67.9 324.7h.55M55.3 322.2h.55M56.9 327.7h.55M64.6 324.9h.55M57.1 325.0h.55M62.9 330.5h.55M58.8 327.9h.55M64.8 327.4h.55M52.3 322.6h.55M69.9 319.7h.55M61.3 320.5h.55M72.3 330.1h.55M63.1 321.0h.55M78.2 325.7h.55M71.2 328.9h.55M58.5 326.5h.55M63.5 328.8h.55M65.0 325.9h.55M64.0 323.0h.55M53.7 331.4h.55M66.0 320.2h.55M61.2 324.4h.55M58.4 323.8h.55M68.0 327.3h.55M63.3 327.6h.55M67.8 330.4h.55M60.2 326.3h.55M58.0 318.5h.55M57.1 323.4h.55M68.1 325.3h.55M51.3 323.8h.55M51.0 317.1h.55M59.3 322.7h.55M61.9 334.4h.55M56.5 319.2h.55M52.4 321.9h.55M63.9 320.3h.55M60.7 324.5h.55M52.6 328.2h.55M57.5 325.0h.55M54.3 321.7h.55M70.4 327.2h.55M57.3 326.0h.55M48.1 323.6h.55M54.8 333.2h.55M68.9 326.0h.55M56.9 325.3h.55M62.1 324.6h.55M65.1 318.1h.55M57.2 326.9h.55M61.7 327.4h.55M65.4 321.3h.55M56.9 325.9h.55M59.6 330.2h.55M50.8 323.0h.55M63.4 318.2h.55M65.7 326.4h.55M66.3 333.8h.55M62.3 316.8h.55M68.2 333.0h.55M66.4 323.7h.55M65.1 319.3h.55M53.9 321.1h.55M70.9 319.8h.55M65.5 326.1h.55M61.9 330.4h.55M63.0 326.6h.55M59.5 329.9h.55M68.0 322.2h.55M76.1 318.5h.55M67.5 319.8h.55M53.7 331.1h.55M71.5 331.0h.55M54.5 327.1h.55M61.9 324.2h.55M62.3 327.7h.55M63.9 328.9h.55M62.8 321.5h.55M62.6 326.1h.55M59.2 325.2h.55M68.9 317.3h.55M70.9 321.7h.55M57.8 325.7h.55M61.5 322.7h.55M62.9 321.6h.55M54.6 320.7h.55M66.9 325.9h.55M64.2 327.2h.55M64.5 326.1h.55M59.2 319.6h.55M59.5 330.9h.55M65.2 323.5h.55M59.3 332.1h.55M61.5 335.2h.55M65.4 332.7h.55M65.6 324.0h.55M67.4 328.2h.55M56.5 318.2h.55M77.9 331.3h.55M61.7 317.5h.55M66.1 321.9h.55M53.1 328.5h.55M60.5 320.9h.55M56.3 318.1h.55M56.1 330.3h.55M62.9 318.0h.55M64.9 323.7h.55M51.8 334.4h.55M64.5 320.9h.55M69.4 325.0h.55M65.1 327.3h.55M60.7 322.6h.55M65.8 317.0h.55M57.2 319.9h.55M56.2 318.6h.55M75.7 322.1h.55M65.6 328.1h.55M61.5 324.5h.55M56.2 323.0h.55M60.1 336.1h.55M59.5 321.2h.55M61.0 321.5h.55M64.8 331.7h.55M65.9 318.6h.55M58.3 323.8h.55M61.9 322.1h.55M61.4 331.5h.55M57.6 323.9h.55M62.6 320.7h.55M67.1 328.0h.55M58.8 327.6h.55M58.1 322.9h.55M61.9 327.2h.55M52.7 327.9h.55M60.3 321.8h.55M55.5 325.1h.55M60.3 327.0h.55M65.9 325.5h.55M54.4 322.6h.55M63.5 321.1h.55M62.5 334.1h.55M60.6 330.7h.55M59.6 323.6h.55M61.4 326.1h.55M62.3 324.6h.55M60.3 322.6h.55M53.3 328.6h.55M61.5 322.6h.55M58.6 322.3h.55M67.9 322.2h.55M54.3 325.6h.55M59.6 321.2h.55M58.1 323.3h.55M63.8 321.2h.55M61.2 320.5h.55M63.4 323.8h.55M65.0 315.8h.55M58.0 320.2h.55M72.1 322.9h.55M62.6 329.7h.55M52.5 317.1h.55M64.8 325.5h.55M69.7 328.4h.55M59.0 322.5h.55M64.6 325.8h.55M51.4 335.4h.55M69.8 326.0h.55M69.4 322.9h.55M66.6 322.7h.55M64.1 326.1h.55M66.1 327.1h.55M61.3 321.0h.55M53.7 328.0h.55M62.7 325.2h.55M57.5 325.2h.55M64.6 323.7h.55M64.0 322.1h.55M53.2 330.0h.55M53.7 324.3h.55M70.8 321.5h.55M58.2 323.5h.55M59.6 321.1h.55M58.3 323.7h.55M62.0 327.8h.55M64.6 319.7h.55M66.4 326.5h.55M64.2 329.1h.55M59.5 330.2h.55M61.5 330.2h.55M55.8 317.6h.55M54.4 330.2h.55M62.7 319.5h.55M71.7 323.6h.55M65.1 319.2h.55M65.5 317.1h.55M55.5 322.4h.55M61.7 325.7h.55M59.2 324.7h.55M56.4 323.4h.55M48.4 320.6h.55M59.4 335.0h.55M67.9 330.0h.55M49.8 325.3h.55M52.5 324.3h.55M59.5 324.4h.55M65.8 319.3h.55M63.3 318.1h.55M60.5 325.8h.55M55.7 328.0h.55M62.0 323.5h.55M46.5 321.2h.55M70.6 333.1h.55M55.6 327.0h.55M59.2 329.9h.55M69.2 322.2h.55M57.9 328.7h.55M55.4 327.4h.55M62.7 322.2h.55M57.8 325.8h.55M59.8 331.7h.55M53.3 321.2h.55M54.0 322.4h.55M72.0 332.5h.55M59.1 323.1h.55M64.2 328.7h.55M51.1 333.2h.55M61.3 320.2h.55M62.6 329.6h.55M57.2 320.4h.55M60.9 328.2h.55M66.9 328.2h.55M53.7 330.9h.55M65.5 323.4h.55M61.1 323.9h.55M56.3 326.8h.55M61.3 326.8h.55M62.3 319.3h.55M60.1 324.1h.55M57.6 327.1h.55M63.4 329.7h.55M60.1 320.0h.55M53.5 332.0h.55M59.9 318.7h.55M67.4 328.4h.55M61.2 323.8h.55M58.1 323.4h.55M64.9 329.9h.55M58.9 329.2h.55M58.7 330.5h.55M55.8 323.0h.55M63.5 332.2h.55M61.5 332.9h.55M61.6 319.3h.55M60.1 323.4h.55M64.2 321.6h.55M72.6 325.5h.55M61.1 321.4h.55M70.5 326.4h.55M61.5 328.3h.55M59.6 329.0h.55M60.1 319.2h.55M61.0 329.3h.55M68.5 321.9h.55M52.2 321.7h.55M53.0 322.8h.55M69.7 321.3h.55M65.4 328.4h.55M72.0 318.8h.55M65.7 319.4h.55M60.6 322.6h.55M61.5 323.6h.55M55.3 323.1h.55M62.3 328.2h.55M59.0 325.3h.55M57.6 327.4h.55M59.3 325.6h.55M57.1 330.5h.55M65.1 326.7h.55M59.6 328.4h.55M64.2 319.4h.55M63.3 329.6h.55M67.5 328.3h.55M61.2 326.1h.55M59.8 324.1h.55M62.9 327.7h.55M52.9 327.8h.55M58.1 322.3h.55M62.7 329.7h.55M54.9 325.4h.55M61.0 323.5h.55M66.2 326.5h.55M64.7 331.2h.55M71.6 315.3h.55M68.3 323.8h.55M61.8 321.4h.55M79.0 322.2h.55M71.6 328.9h.55M60.2 321.9h.55M64.4 331.3h.55M62.5 319.6h.55M75.5 321.3h.55M66.8 328.7h.55M61.7 329.5h.55M63.3 320.7h.55M56.3 325.1h.55M65.5 323.6h.55M55.6 323.2h.55M51.3 329.1h.55M67.2 318.9h.55M61.6 323.3h.55M63.5 323.8h.55M59.9 324.0h.55M62.9 316.3h.55M52.7 327.1h.55M58.7 326.2h.55M54.6 326.3h.55M54.3 323.8h.55M63.3 326.8h.55M59.3 330.5h.55M65.1 326.2h.55M63.3 318.3h.55M56.1 325.6h.55M66.3 320.6h.55M58.7 325.4h.55M62.8 327.4h.55M60.3 317.2h.55M56.7 323.6h.55M61.7 314.2h.55M79.5 321.4h.55M64.2 324.2h.55M60.9 328.8h.55M55.4 331.3h.55M66.4 320.4h.55M62.2 330.8h.55M55.0 323.8h.55M68.4 324.7h.55M63.2 327.5h.55M57.5 327.1h.55M65.4 318.8h.55M63.5 326.6h.55M62.5 327.8h.55M64.7 329.0h.55M59.4 323.9h.55M65.4 323.6h.55M62.3 331.6h.55M61.5 327.8h.55M73.5 326.9h.55M61.1 321.0h.55M73.1 318.9h.55M53.3 330.2h.55M56.7 323.8h.55M58.6 328.2h.55M58.9 321.4h.55M64.6 323.0h.55M43.3 319.9h.55M53.7 332.6h.55M61.0 328.6h.55M60.0 327.6h.55M63.1 315.9h.55M48.2 335.2h.55M70.1 328.2h.55M64.1 326.4h.55M66.3 319.2h.55M50.9 324.9h.55M62.6 327.7h.55M53.0 324.4h.55M58.8 328.8h.55M64.3 321.8h.55M58.1 325.0h.55M51.4 319.0h.55M58.5 324.8h.55M69.1 322.9h.55M69.1 321.9h.55M55.0 323.1h.55M58.5 326.8h.55M64.0 323.2h.55M60.6 326.5h.55M64.2 323.7h.55M56.5 321.5h.55M68.3 324.9h.55M57.0 315.6h.55M62.1 330.9h.55M56.7 324.3h.55M58.1 318.4h.55M58.3 326.8h.55M56.6 325.2h.55M57.5 323.8h.55M55.9 328.0h.55M69.9 316.0h.55M59.4 329.6h.55M54.1 324.2h.55M60.1 323.9h.55M64.9 323.2h.55M54.3 324.4h.55M50.5 321.4h.55M63.7 326.9h.55M58.7 326.1h.55M70.3 322.1h.55M54.2 329.4h.55M58.8 327.5h.55M61.8 324.8h.55M65.7 330.2h.55M59.3 327.2h.55M60.3 324.2h.55M69.3 323.4h.55M64.7 321.9h.55M61.4 330.8h.55M67.1 323.9h.55M51.6 321.5h.55M58.1 323.7h.55M58.6 332.5h.55M62.6 329.1h.55M61.2 333.5h.55M79.4 317.5h.55M62.0 325.4h.55M53.1 331.7h.55M62.2 318.6h.55M55.1 327.5h.55M63.5 328.5h.55M51.7 328.6h.55M51.9 319.1h.55M58.5 336.1h.55M54.0 324.0h.55M67.7 325.6h.55M65.5 322.1h.55M70.1 319.1h.55M57.5 322.5h.55M64.8 318.5h.55M62.5 326.3h.55M58.5 313.0h.55M60.7 320.9h.55M61.2 320.1h.55M56.9 334.2h.55M57.9 333.3h.55M59.9 324.0h.55M72.2 320.0h.55M65.3 331.1h.55M66.8 324.2h.55M58.0 325.9h.55M62.4 329.4h.55M66.3 324.1h.55M61.5 332.0h.55M54.3 328.9h.55M54.9 317.0h.55M59.3 323.0h.55M70.5 326.1h.55M63.2 321.5h.55M71.3 323.6h.55M54.9 326.8h.55M58.4 329.8h.55M61.4 323.2h.55M64.8 322.8h.55M64.7 324.4h.55M65.2 328.9h.55M67.8 330.6h.55M63.8 322.3h.55M57.3 322.4h.55M72.7 326.2h.55M52.1 318.1h.55M58.3 322.9h.55M64.2 331.2h.55M68.7 321.0h.55M54.9 327.1h.55M58.6 322.4h.55M65.4 320.6h.55M60.1 323.1h.55M61.5 336.3h.55M71.7 323.9h.55M61.3 320.1h.55M59.9 321.1h.55M69.2 323.2h.55M52.9 325.4h.55M58.9 322.2h.55M64.7 317.6h.55M62.3 326.5h.55M69.8 314.5h.55M58.5 322.1h.55M71.2 325.5h.55M62.8 322.4h.55M61.5 321.6h.55M44.5 318.3h.55M65.3 326.2h.55M58.8 319.7h.55M63.7 323.6h.55M55.8 332.8h.55M52.9 327.1h.55M54.7 328.6h.55M62.7 323.2h.55M58.0 327.0h.55M63.7 320.3h.55M68.0 329.8h.55M63.0 325.1h.55M54.7 333.1h.55M57.0 327.7h.55M64.0 324.7h.55M60.7 328.1h.55M65.5 327.7h.55M56.1 327.6h.55M67.6 315.5h.55M56.3 318.3h.55M62.8 337.2h.55M61.1 319.0h.55M56.3 323.9h.55M60.6 317.5h.55M66.3 329.9h.55M62.5 321.5h.55M62.0 325.5h.55M56.9 328.6h.55M55.3 320.3h.55M62.0 316.1h.55M52.8 323.8h.55M65.3 331.9h.55M56.7 324.3h.55M62.8 322.6h.55M59.5 338.3h.55M70.6 329.4h.55M54.4 324.1h.55M60.1 326.2h.55M65.1 321.4h.55M54.0 328.3h.55M62.9 320.7h.55M62.1 325.0h.55M58.2 332.5h.55M60.5 321.2h.55M59.5 326.1h.55M65.1 327.5h.55M62.2 326.4h.55M61.8 327.0h.55M57.3 321.5h.55M56.4 326.1h.55M70.3 321.8h.55M55.8 332.5h.55M65.0 325.6h.55M68.8 325.7h.55M72.2 315.4h.55M59.5 327.6h.55M65.3 326.4h.55M52.6 326.2h.55M57.4 322.3h.55M70.1 331.2h.55M60.1 322.5h.55M71.4 325.7h.55M57.7 331.9h.55M63.3 328.7h.55M60.4 321.2h.55M61.2 322.5h.55M65.8 321.4h.55M56.7 326.2h.55M65.4 323.5h.55M62.1 324.3h.55M59.8 322.0h.55M52.7 321.7h.55M63.5 318.5h.55M63.1 322.3h.55M59.0 319.0h.55M58.8 318.2h.55M54.0 324.2h.55M55.9 332.9h.55M69.4 332.5h.55M59.2 315.7h.55M60.2 326.2h.55M50.1 318.9h.55M78.4 321.2h.55M63.5 320.2h.55M63.1 332.5h.55M62.6 328.7h.55M64.5 318.3h.55M65.7 332.3h.55M54.6 329.8h.55M63.7 326.1h.55M56.8 319.0h.55M64.8 332.9h.55M69.3 324.4h.55M64.0 322.8h.55M55.4 322.5h.55M53.5 326.6h.55M49.7 321.3h.55M49.8 327.3h.55M64.7 320.0h.55M79.7 330.1h.55M68.8 333.3h.55M37.9 317.3h.55M57.4 321.0h.55M60.3 328.9h.55M73.1 331.3h.55M64.1 336.9h.55M60.8 327.1h.55M63.3 345.6h.55M62.7 308.4h.55M52.0 327.6h.55M54.0 335.3h.55M47.1 329.5h.55M57.5 334.3h.55M46.5 318.0h.55M42.2 320.4h.55M59.7 334.4h.55M64.6 321.6h.55M48.2 338.3h.55M73.3 323.7h.55M58.4 336.7h.55M57.6 333.1h.55M57.2 332.2h.55M37.2 334.1h.55M54.4 316.2h.55M68.4 315.0h.55M60.5 323.6h.55M67.8 329.8h.55M74.6 325.3h.55M61.2 319.9h.55M68.2 321.2h.55M54.4 333.3h.55M74.3 324.3h.55M67.7 331.7h.55M50.3 333.6h.55M56.4 331.4h.55M76.8 326.9h.55M57.6 325.1h.55M65.9 316.5h.55M67.4 320.5h.55M84.1 321.8h.55M60.2 337.4h.55M46.3 331.5h.55M59.8 326.3h.55M53.4 334.5h.55M75.1 329.5h.55M64.6 325.4h.55M63.9 328.2h.55M69.5 325.0h.55M74.7 331.3h.55M52.4 324.5h.55M60.7 321.6h.55M54.6 330.8h.55M64.0 324.3h.55M57.2 321.2h.55M58.2 330.1h.55M38.7 331.7h.55M67.4 334.2h.55M56.6 323.8h.55M51.9 323.6h.55M47.9 333.6h.55M62.7 325.9h.55M41.1 327.2h.55M64.0 331.0h.55M58.0 325.6h.55M51.9 313.6h.55M60.4 336.6h.55M47.1 323.0h.55M60.6 332.1h.55M62.8 329.7h.55M53.9 314.8h.55M53.4 327.7h.55M60.9 324.2h.55M79.4 322.8h.55M52.8 336.8h.55M58.4 325.4h.55M64.8 334.8h.55M41.4 329.3h.55M83.3 324.9h.55M44.9 319.0h.55M65.8 314.5h.55M60.5 342.6h.55M49.4 316.3h.55M72.6 328.3h.55M61.2 313.9h.55M56.6 320.5h.55M56.8 330.5h.55M56.6 319.0h.55M67.8 323.6h.55M66.9 332.3h.55M50.4 328.7h.55M54.0 337.5h.55M68.6 321.9h.55M43.1 327.1h.55M65.3 325.6h.55M54.7 316.2h.55M61.3 332.7h.55M63.8 322.0h.55M51.3 321.5h.55M71.6 323.0h.55M54.2 324.5h.55M83.7 317.1h.55M59.0 337.9h.55M64.1 342.8h.55M69.3 320.5h.55M60.7 331.2h.55M64.1 329.8h.55M63.8 328.7h.55M55.8 327.6h.55M58.5 324.3h.55M69.7 345.5h.55M69.8 334.5h.55M51.0 327.6h.55M60.0 320.9h.55M57.3 318.6h.55M62.2 340.2h.55M48.2 318.2h.55M58.4 323.7h.55M73.5 332.4h.55M76.7 327.4h.55M45.0 339.7h.55M70.8 323.2h.55M61.6 325.7h.55M52.4 332.2h.55M43.3 324.6h.55M57.2 335.9h.55M53.4 314.6h.55M58.7 328.4h.55M58.2 320.4h.55M59.8 326.0h.55M58.7 323.8h.55M56.3 321.8h.55M61.9 320.6h.55M63.5 325.2h.55M62.4 329.5h.55M61.1 325.9h.55M61.4 322.3h.55M59.9 328.6h.55M64.4 319.4h.55M66.9 322.9h.55M61.2 326.5h.55M67.9 319.6h.55M61.5 325.8h.55M62.7 323.0h.55M59.9 323.4h.55M67.6 326.9h.55M58.7 324.4h.55M61.6 322.7h.55M56.9 326.9h.55M58.5 324.8h.55M65.9 329.5h.55M60.8 327.5h.55M58.2 330.2h.55M59.2 321.6h.55M59.6 323.9h.55M62.8 327.2h.55M60.5 324.4h.55M62.1 326.0h.55M57.9 328.8h.55M66.1 325.3h.55M60.8 326.8h.55M59.6 326.8h.55M58.5 326.1h.55M58.7 330.3h.55M62.1 322.0h.55M62.4 324.7h.55M61.9 322.7h.55M63.7 326.3h.55M58.2 323.5h.55M61.4 321.5h.55M63.8 324.8h.55M62.7 324.4h.55M65.7 323.5h.55M66.6 323.8h.55M61.3 322.7h.55M62.3 325.2h.55M61.2 330.0h.55M56.4 324.9h.55M56.0 326.5h.55M54.0 327.4h.55M63.3 326.0h.55M62.0 328.4h.55M62.1 323.9h.55M68.4 322.9h.55M63.2 323.0h.55M58.5 327.5h.55M61.3 324.6h.55M63.5 322.0h.55M59.9 325.9h.55M64.8 324.1h.55M62.5 324.6h.55M56.3 324.1h.55M57.9 328.1h.55M61.8 327.1h.55M60.1 324.6h.55M66.4 320.7h.55M64.4 323.4h.55M62.4 328.0h.55M62.1 329.1h.55M58.2 328.3h.55M61.6 325.3h.55M59.0 324.9h.55M60.2 321.3h.55M59.6 326.5h.55M63.2 328.3h.55M56.5 327.3h.55M63.5 326.0h.55M60.7 327.6h.55M62.7 326.3h.55M59.3 326.9h.55M59.9 325.5h.55M62.2 322.3h.55M66.9 319.0h.55M63.5 323.4h.55M57.8 327.1h.55M63.6 323.5h.55M63.2 322.7h.55M55.2 324.3h.55M60.2 324.5h.55M65.0 323.7h.55M66.4 323.4h.55M58.5 322.9h.55M58.0 323.8h.55M63.2 324.2h.55M57.7 323.4h.55M59.8 322.7h.55M60.3 330.4h.55M67.0 323.0h.55M63.4 323.0h.55M67.0 323.7h.55M64.0 322.7h.55M60.4 324.1h.55M64.6 328.6h.55M61.1 324.2h.55M61.8 324.7h.55M62.4 325.9h.55M65.0 327.4h.55M61.9 327.5h.55M63.4 328.7h.55M60.0 325.5h.55M56.5 326.2h.55M58.8 324.8h.55M52.7 326.7h.55M62.9 325.4h.55M57.8 323.7h.55M58.1 324.7h.55M63.0 322.4h.55M56.7 322.7h.55M63.6 322.7h.55M62.2 325.2h.55M63.4 322.7h.55M69.4 326.1h.55M61.0 327.3h.55M59.5 321.3h.55M59.6 328.9h.55M66.8 326.4h.55M63.6 323.1h.55M65.1 321.8h.55M61.7 326.0h.55M60.3 326.5h.55M63.0 325.8h.55M60.0 327.5h.55M60.8 328.7h.55M60.5 319.5h.55M59.7 326.3h.55M58.3 322.8h.55M58.9 326.3h.55M64.1 321.3h.55M59.7 330.5h.55M59.0 323.3h.55M60.0 322.9h.55M62.7 325.3h.55M62.9 327.4h.55M66.6 324.1h.55M58.5 325.7h.55M58.4 324.5h.55M58.9 322.6h.55M61.4 324.4h.55M59.4 323.8h.55M59.9 317.1h.55M63.2 326.0h.55M58.1 326.5h.55M62.4 329.3h.55M61.5 324.2h.55M60.8 324.7h.55M64.1 320.1h.55M65.1 324.7h.55M60.1 326.2h.55M63.2 323.2h.55M58.8 323.5h.55M63.8 327.8h.55M61.1 323.4h.55M64.3 327.1h.55M61.8 325.0h.55M60.3 320.1h.55M64.5 324.6h.55M62.2 325.5h.55M64.1 322.1h.55M61.2 328.9h.55M64.6 324.0h.55M63.7 320.4h.55M61.8 324.0h.55M69.0 321.7h.55M63.2 320.5h.55M65.3 328.0h.55M68.2 319.7h.55M59.0 325.5h.55M60.5 324.8h.55M61.5 323.1h.55M57.4 320.6h.55M59.9 319.7h.55M68.9 322.5h.55M57.3 326.6h.55M62.9 328.5h.55M61.9 322.6h.55M59.3 321.5h.55M55.4 326.5h.55M62.1 322.9h.55M60.5 328.9h.55M64.5 323.9h.55M61.3 321.8h.55M58.8 325.4h.55M64.3 325.6h.55M65.2 324.2h.55M61.3 321.9h.55M64.3 324.2h.55M68.0 322.9h.55M61.1 324.6h.55M61.6 321.0h.55M62.8 324.0h.55M60.1 325.2h.55M58.8 325.1h.55M61.3 326.3h.55M62.5 327.7h.55M66.5 320.3h.55M57.8 321.3h.55M63.7 322.6h.55M60.5 322.9h.55M65.2 329.4h.55M62.5 324.9h.55M59.3 326.0h.55M62.4 322.2h.55M63.4 325.5h.55M60.8 327.0h.55M60.0 330.7h.55M57.1 326.2h.55M60.7 325.7h.55M61.6 325.3h.55M60.5 323.8h.55M64.2 322.8h.55M60.2 328.0h.55M60.6 325.0h.55M59.3 325.2h.55M61.2 327.5h.55M66.3 321.6h.55M54.6 326.1h.55M63.0 322.1h.55M62.1 322.2h.55M62.9 323.7h.55M57.6 324.4h.55M59.1 323.3h.55M52.2 323.7h.55M62.2 324.9h.55M62.4 326.6h.55M59.5 325.7h.55M55.7 324.7h.55M61.8 324.3h.55M61.5 325.8h.55M61.4 323.8h.55M63.1 323.9h.55M63.9 322.8h.55M64.2 318.9h.55M59.4 323.0h.55M58.4 323.1h.55M59.9 322.2h.55M57.5 323.6h.55M66.1 322.8h.55M66.1 330.6h.55M65.6 325.8h.55M69.3 325.0h.55M65.5 323.0h.55M65.1 325.3h.55M64.2 324.6h.55M60.5 326.5h.55M62.9 327.8h.55M57.2 324.1h.55M60.9 327.3h.55M54.7 324.5h.55M59.2 325.8h.55M64.2 324.6h.55M65.8 323.3h.55M55.4 328.1h.55M57.9 326.8h.55M61.9 322.2h.55M66.9 320.6h.55" stroke="#000" stroke-width=".55" stroke-opacity=".66" fill="none"/>
<path d="M41.3 315.7h.6M30.6 344.3h.6M38.6 326.5h.6M37.2 316.2h.6M27.6 342.4h.6M34.4 336.1h.6M36.7 348.9h.6M43.0 342.9h.6M29.4 361.3h.6M35.4 359.6h.6M45.6 351.7h.6M27.9 359.1h.6M40.4 360.2h.6M39.5 358.2h.6M34.4 336.2h.6M29.0 330.0h.6M39.8 333.7h.6M42.6 359.2h.6M30.2 353.4h.6M31.9 347.4h.6M37.3 361.0h.6M40.6 352.4h.6M44.6 352.3h.6M53.6 340.4h.6M42.0 351.4h.6M28.0 350.4h.6M29.7 331.5h.6M39.0 337.8h.6M40.5 336.9h.6M47.6 339.0h.6M47.2 338.5h.6M36.5 339.1h.6M51.3 360.5h.6M49.1 355.6h.6M33.5 347.2h.6M54.1 333.7h.6M43.5 344.3h.6M60.7 359.0h.6M44.3 357.5h.6M35.0 336.7h.6M58.1 350.4h.6M29.0 340.7h.6M36.6 353.6h.6M29.8 332.4h.6M40.4 341.3h.6M36.4 353.6h.6M34.7 350.7h.6M28.6 299.9h.6M46.5 342.7h.6M33.7 356.7h.6M56.8 344.8h.6M48.3 332.7h.6M37.1 324.3h.6M68.2 314.4h.6M39.8 342.6h.6M40.3 339.2h.6M28.8 338.6h.6M42.3 355.1h.6M40.8 355.0h.6M39.1 341.2h.6M27.6 355.4h.6M39.3 355.1h.6M43.5 359.7h.6M37.4 347.3h.6M31.7 351.0h.6M41.2 346.5h.6M31.8 346.9h.6M35.1 356.3h.6M36.6 340.2h.6M47.7 348.6h.6M29.1 354.5h.6M50.7 304.6h.6M46.7 349.7h.6M43.5 315.4h.6M36.1 339.3h.6M28.3 337.6h.6M28.2 343.6h.6M59.9 352.0h.6M45.9 346.0h.6M32.8 349.5h.6M39.3 341.2h.6M35.5 352.6h.6M27.6 320.6h.6M42.8 335.6h.6M42.1 335.1h.6M44.0 348.3h.6M33.5 357.4h.6M46.3 334.8h.6M27.8 321.3h.6M33.9 313.7h.6M31.5 335.7h.6M35.5 339.6h.6M32.4 346.6h.6M46.0 350.7h.6M44.8 340.5h.6M40.3 360.5h.6M33.7 340.8h.6M27.9 345.2h.6M35.8 359.3h.6M53.5 358.7h.6M30.6 360.0h.6M36.5 329.0h.6M43.3 339.2h.6M38.7 356.5h.6M30.4 331.2h.6M32.9 344.4h.6M38.3 354.5h.6M34.4 361.2h.6M40.3 327.2h.6M36.2 358.4h.6M39.4 342.5h.6M56.6 357.4h.6M48.0 340.4h.6M29.6 350.4h.6M40.2 354.3h.6M32.9 325.7h.6M49.2 349.2h.6M34.7 354.6h.6M52.7 345.9h.6M32.5 347.8h.6M28.9 341.7h.6M38.1 349.4h.6M40.4 334.3h.6M37.6 356.1h.6M39.5 344.4h.6M36.2 332.4h.6M28.8 341.2h.6M49.7 334.9h.6M34.9 349.0h.6M33.3 348.7h.6M50.5 316.9h.6M50.8 350.7h.6M38.3 332.1h.6M50.1 351.3h.6M71.7 348.3h.6M66.0 349.3h.6M43.0 302.5h.6M45.0 350.1h.6M38.8 358.4h.6M36.1 342.7h.6M49.6 313.4h.6M64.3 349.4h.6M37.2 358.5h.6M48.7 321.4h.6M46.0 353.0h.6M38.6 325.0h.6M43.1 357.6h.6M33.4 361.7h.6M38.8 348.5h.6M37.8 360.9h.6M55.9 342.1h.6M43.3 325.9h.6M28.2 351.8h.6M33.4 355.0h.6M51.8 359.5h.6M49.9 333.9h.6M36.8 353.6h.6M40.4 345.2h.6M55.9 299.3h.6M41.8 348.0h.6M54.4 330.3h.6M32.1 350.2h.6M29.6 338.3h.6M39.6 361.4h.6M29.3 351.6h.6M42.2 351.8h.6M50.9 340.9h.6M34.7 348.0h.6M49.5 331.9h.6M31.1 348.5h.6M44.9 337.3h.6M43.7 334.2h.6M31.3 316.3h.6M44.9 351.2h.6M29.8 333.0h.6M31.5 322.1h.6M45.7 357.9h.6M37.5 354.8h.6M46.3 330.9h.6M37.1 349.4h.6M34.4 304.4h.6M50.4 341.8h.6M49.2 357.3h.6M31.0 335.8h.6M72.5 358.5h.6M36.6 319.0h.6M43.0 329.6h.6M44.4 323.4h.6M36.8 314.4h.6M42.3 324.5h.6M48.3 359.8h.6M29.1 315.3h.6M32.8 342.9h.6M45.7 361.7h.6M54.1 328.8h.6M28.6 357.1h.6M55.4 348.5h.6M66.7 354.1h.6M27.6 329.9h.6M39.3 353.1h.6M49.6 359.3h.6M28.0 355.2h.6M53.6 350.1h.6M44.0 341.3h.6M36.0 334.1h.6M46.1 327.1h.6M37.2 349.3h.6M50.3 360.0h.6M43.5 342.3h.6M36.6 356.1h.6M44.8 360.5h.6M47.3 356.7h.6M39.3 349.4h.6M54.4 355.5h.6M43.9 355.0h.6M36.8 359.3h.6M52.5 360.5h.6M45.9 360.9h.6M33.4 354.0h.6M40.9 333.4h.6" stroke="#000" stroke-width=".6" stroke-opacity=".3" fill="none"/>
<rect x="27.50" y="284.50" width="77.70" height="77.30" fill="none" stroke="#707070" stroke-width="0.8"/>
<line x1="45.20" y1="284.50" x2="45.20" y2="361.80" stroke="#333" stroke-width="1.0"/>
<line x1="27.50" y1="345.50" x2="105.20" y2="345.50" stroke="#333" stroke-width="1.0"/>
<text x="28.40" y="287.80" font-size="3.5" text-anchor="start" fill="#444" stroke="#444" stroke-width=".12">0.89</text>
<text x="104.70" y="287.80" font-size="3.5" text-anchor="end" fill="#444" stroke="#444" stroke-width=".12">97.98</text>
<text x="28.40" y="361.00" font-size="3.5" text-anchor="start" fill="#444" stroke="#444" stroke-width=".12">0.41</text>
<text x="104.70" y="361.00" font-size="3.5" text-anchor="end" fill="#444" stroke="#444" stroke-width=".12">0.73</text>
<text x="25.30" y="370.20" font-size="4" fill="#222" stroke="#222" stroke-width=".18">10<tspan dy="-2.2" font-size="2.9">0</tspan></text>
<text x="19.60" y="364.20" font-size="4" fill="#222" stroke="#222" stroke-width=".18">10<tspan dy="-2.2" font-size="2.9">0</tspan></text>
<text x="44.62" y="370.20" font-size="4" fill="#222" stroke="#222" stroke-width=".18">10<tspan dy="-2.2" font-size="2.9">1</tspan></text>
<text x="19.60" y="344.88" font-size="4" fill="#222" stroke="#222" stroke-width=".18">10<tspan dy="-2.2" font-size="2.9">1</tspan></text>
<text x="63.95" y="370.20" font-size="4" fill="#222" stroke="#222" stroke-width=".18">10<tspan dy="-2.2" font-size="2.9">2</tspan></text>
<text x="19.60" y="325.55" font-size="4" fill="#222" stroke="#222" stroke-width=".18">10<tspan dy="-2.2" font-size="2.9">2</tspan></text>
<text x="83.28" y="370.20" font-size="4" fill="#222" stroke="#222" stroke-width=".18">10<tspan dy="-2.2" font-size="2.9">3</tspan></text>
<text x="19.60" y="306.22" font-size="4" fill="#222" stroke="#222" stroke-width=".18">10<tspan dy="-2.2" font-size="2.9">3</tspan></text>
<text x="56.80" y="375.50" font-size="3.3" text-anchor="middle" fill="#333" stroke="#333" stroke-width=".12">CD8 APC</text>
<text x="12.90" y="323.65" font-size="3.55" text-anchor="middle" fill="#333" transform="rotate(-90 12.90 323.65)" stroke="#333" stroke-width=".18">HLA-A2/HY Tetramer-PE</text>
<text x="183.50" y="12.90" font-size="7.65" font-weight="bold" stroke="#000" stroke-width="0.27" text-anchor="start" fill="#000">clone 11</text>
<line x1="138.70" y1="22.00" x2="138.70" y2="94.25" stroke="#000" stroke-width="1.0"/>
<line x1="135.60" y1="93.75" x2="138.70" y2="93.75" stroke="#000" stroke-width="1.0"/>
<text x="135.10" y="95.65" font-size="5.3" font-weight="bold" stroke="#000" stroke-width="0.19" text-anchor="end" fill="#000">0</text>
<line x1="135.60" y1="79.50" x2="138.70" y2="79.50" stroke="#000" stroke-width="1.0"/>
<text x="135.10" y="81.40" font-size="5.3" font-weight="bold" stroke="#000" stroke-width="0.19" text-anchor="end" fill="#000">20</text>
<line x1="135.60" y1="65.25" x2="138.70" y2="65.25" stroke="#000" stroke-width="1.0"/>
<text x="135.10" y="67.15" font-size="5.3" font-weight="bold" stroke="#000" stroke-width="0.19" text-anchor="end" fill="#000">40</text>
<line x1="135.60" y1="51.00" x2="138.70" y2="51.00" stroke="#000" stroke-width="1.0"/>
<text x="135.10" y="52.90" font-size="5.3" font-weight="bold" stroke="#000" stroke-width="0.19" text-anchor="end" fill="#000">60</text>
<line x1="135.60" y1="36.75" x2="138.70" y2="36.75" stroke="#000" stroke-width="1.0"/>
<text x="135.10" y="38.65" font-size="5.3" font-weight="bold" stroke="#000" stroke-width="0.19" text-anchor="end" fill="#000">80</text>
<line x1="135.60" y1="22.50" x2="138.70" y2="22.50" stroke="#000" stroke-width="1.0"/>
<text x="135.10" y="24.40" font-size="5.3" font-weight="bold" stroke="#000" stroke-width="0.19" text-anchor="end" fill="#000">100</text>
<text x="121.50" y="57.90" font-size="6.45" font-weight="bold" stroke="#000" stroke-width="0.23" text-anchor="middle" fill="#000" transform="rotate(-90 121.50 57.90)">% specific lysis</text>
<line x1="146.00" y1="102.20" x2="256.80" y2="102.20" stroke="#000" stroke-width="1.0"/>
<line x1="165.10" y1="102.20" x2="165.10" y2="104.60" stroke="#000" stroke-width="0.9"/>
<text x="165.10" y="109.80" font-size="5.9" font-weight="bold" stroke="#000" stroke-width="0.21" text-anchor="middle" fill="#000">40:1</text>
<line x1="202.50" y1="102.20" x2="202.50" y2="104.60" stroke="#000" stroke-width="0.9"/>
<text x="202.50" y="109.80" font-size="5.9" font-weight="bold" stroke="#000" stroke-width="0.21" text-anchor="middle" fill="#000">8:1</text>
<line x1="239.60" y1="102.20" x2="239.60" y2="104.60" stroke="#000" stroke-width="0.9"/>
<text x="239.60" y="109.80" font-size="5.9" font-weight="bold" stroke="#000" stroke-width="0.21" text-anchor="middle" fill="#000">1.6:1</text>
<text x="202.40" y="119.30" font-size="6.65" font-weight="bold" stroke="#000" stroke-width="0.23" text-anchor="middle" fill="#000">E:T ratio</text>
<line x1="165.10" y1="92.00" x2="202.50" y2="91.00" stroke="#222" stroke-width="0.8"/>
<line x1="202.50" y1="91.00" x2="239.60" y2="88.50" stroke="#222" stroke-width="0.8"/>
<rect x="163.39" y="90.29" width="3.42" height="3.42" fill="#000"/>
<line x1="202.50" y1="89.00" x2="202.50" y2="93.50" stroke="#000" stroke-width="1.4"/>
<line x1="200.50" y1="89.00" x2="204.50" y2="89.00" stroke="#000" stroke-width="1.4"/>
<line x1="200.50" y1="93.50" x2="204.50" y2="93.50" stroke="#000" stroke-width="1.4"/>
<rect x="200.79" y="89.29" width="3.42" height="3.42" fill="#000"/>
<line x1="239.60" y1="85.80" x2="239.60" y2="91.90" stroke="#000" stroke-width="1.4"/>
<line x1="237.60" y1="85.80" x2="241.60" y2="85.80" stroke="#000" stroke-width="1.4"/>
<line x1="237.60" y1="91.90" x2="241.60" y2="91.90" stroke="#000" stroke-width="1.4"/>
<rect x="237.89" y="86.79" width="3.42" height="3.42" fill="#000"/>
<line x1="165.10" y1="93.00" x2="202.50" y2="94.00" stroke="#222" stroke-width="0.7"/>
<line x1="202.50" y1="94.00" x2="239.60" y2="89.50" stroke="#222" stroke-width="0.7"/>
<path d="M165.10 94.87L167.06 91.47L163.14 91.47Z" fill="#000"/>
<line x1="202.50" y1="92.00" x2="202.50" y2="95.80" stroke="#000" stroke-width="1.4"/>
<line x1="200.50" y1="92.00" x2="204.50" y2="92.00" stroke="#000" stroke-width="1.4"/>
<line x1="200.50" y1="95.80" x2="204.50" y2="95.80" stroke="#000" stroke-width="1.4"/>
<path d="M202.50 95.87L204.46 92.47L200.54 92.47Z" fill="#000"/>
<path d="M239.60 91.37L241.56 87.97L237.64 87.97Z" fill="#000"/>
<line x1="165.10" y1="51.00" x2="202.50" y2="55.60" stroke="#000" stroke-width="1.0" stroke-dasharray="2.6 1.3"/>
<line x1="202.50" y1="55.60" x2="239.60" y2="71.20" stroke="#000" stroke-width="1.1" stroke-dasharray="2.6 1.3"/>
<path d="M165.10 49.13L167.06 52.53L163.14 52.53Z" fill="#000"/>
<line x1="202.50" y1="50.60" x2="202.50" y2="60.60" stroke="#000" stroke-width="1.4"/>
<line x1="200.40" y1="50.60" x2="204.60" y2="50.60" stroke="#000" stroke-width="1.4"/>
<line x1="200.40" y1="60.60" x2="204.60" y2="60.60" stroke="#000" stroke-width="1.4"/>
<path d="M202.50 53.73L204.46 57.13L200.54 57.13Z" fill="#000"/>
<path d="M239.60 69.33L241.56 72.73L237.64 72.73Z" fill="#000"/>
<line x1="165.10" y1="50.40" x2="202.50" y2="50.00" stroke="#333" stroke-width="1.0"/>
<line x1="202.50" y1="50.00" x2="239.60" y2="65.60" stroke="#000" stroke-width="1.2"/>
<circle cx="165.10" cy="50.40" r="1.70" fill="#000"/>
<line x1="202.50" y1="47.50" x2="202.50" y2="52.50" stroke="#000" stroke-width="1.4"/>
<line x1="200.40" y1="47.50" x2="204.60" y2="47.50" stroke="#000" stroke-width="1.4"/>
<line x1="200.40" y1="52.50" x2="204.60" y2="52.50" stroke="#000" stroke-width="1.4"/>
<circle cx="202.50" cy="50.00" r="1.70" fill="#000"/>
<circle cx="239.60" cy="65.60" r="1.70" fill="#000"/>
<text x="182.80" y="141.90" font-size="7.65" font-weight="bold" stroke="#000" stroke-width="0.27" text-anchor="start" fill="#000">clone 77</text>
<line x1="138.20" y1="150.35" x2="138.20" y2="222.80" stroke="#000" stroke-width="1.0"/>
<line x1="135.10" y1="222.30" x2="138.20" y2="222.30" stroke="#000" stroke-width="1.0"/>
<text x="134.60" y="224.20" font-size="5.3" font-weight="bold" stroke="#000" stroke-width="0.19" text-anchor="end" fill="#000">0</text>
<line x1="135.10" y1="208.01" x2="138.20" y2="208.01" stroke="#000" stroke-width="1.0"/>
<text x="134.60" y="209.91" font-size="5.3" font-weight="bold" stroke="#000" stroke-width="0.19" text-anchor="end" fill="#000">20</text>
<line x1="135.10" y1="193.72" x2="138.20" y2="193.72" stroke="#000" stroke-width="1.0"/>
<text x="134.60" y="195.62" font-size="5.3" font-weight="bold" stroke="#000" stroke-width="0.19" text-anchor="end" fill="#000">40</text>
<line x1="135.10" y1="179.43" x2="138.20" y2="179.43" stroke="#000" stroke-width="1.0"/>
<text x="134.60" y="181.33" font-size="5.3" font-weight="bold" stroke="#000" stroke-width="0.19" text-anchor="end" fill="#000">60</text>
<line x1="135.10" y1="165.14" x2="138.20" y2="165.14" stroke="#000" stroke-width="1.0"/>
<text x="134.60" y="167.04" font-size="5.3" font-weight="bold" stroke="#000" stroke-width="0.19" text-anchor="end" fill="#000">80</text>
<line x1="135.10" y1="150.85" x2="138.20" y2="150.85" stroke="#000" stroke-width="1.0"/>
<text x="134.60" y="152.75" font-size="5.3" font-weight="bold" stroke="#000" stroke-width="0.19" text-anchor="end" fill="#000">100</text>
<text x="120.70" y="186.60" font-size="6.45" font-weight="bold" stroke="#000" stroke-width="0.23" text-anchor="middle" fill="#000" transform="rotate(-90 120.70 186.60)">% specific lysis</text>
<line x1="146.00" y1="230.60" x2="256.80" y2="230.60" stroke="#000" stroke-width="1.0"/>
<line x1="164.60" y1="230.60" x2="164.60" y2="233.00" stroke="#000" stroke-width="0.9"/>
<text x="164.60" y="239.20" font-size="5.9" font-weight="bold" stroke="#000" stroke-width="0.21" text-anchor="middle" fill="#000">40:1</text>
<line x1="201.80" y1="230.60" x2="201.80" y2="233.00" stroke="#000" stroke-width="0.9"/>
<text x="201.80" y="239.20" font-size="5.9" font-weight="bold" stroke="#000" stroke-width="0.21" text-anchor="middle" fill="#000">8:1</text>
<line x1="239.00" y1="230.60" x2="239.00" y2="233.00" stroke="#000" stroke-width="0.9"/>
<text x="239.00" y="239.20" font-size="5.9" font-weight="bold" stroke="#000" stroke-width="0.21" text-anchor="middle" fill="#000">1.6:1</text>
<text x="202.00" y="247.80" font-size="6.65" font-weight="bold" stroke="#000" stroke-width="0.23" text-anchor="middle" fill="#000">E:T ratio</text>
<line x1="164.60" y1="222.30" x2="189.50" y2="222.70" stroke="#999" stroke-width="0.6"/>
<path d="M164.60 224.06L166.44 220.86L162.76 220.86Z" fill="#000"/>
<line x1="164.60" y1="221.30" x2="201.80" y2="221.20" stroke="#000" stroke-width="1.1"/>
<line x1="201.80" y1="221.20" x2="239.00" y2="219.20" stroke="#000" stroke-width="1.1"/>
<rect x="162.89" y="219.59" width="3.42" height="3.42" fill="#000"/>
<rect x="200.09" y="219.49" width="3.42" height="3.42" fill="#000"/>
<line x1="239.00" y1="213.80" x2="239.00" y2="224.00" stroke="#000" stroke-width="1.4"/>
<line x1="237.00" y1="213.80" x2="241.00" y2="213.80" stroke="#000" stroke-width="1.4"/>
<line x1="237.00" y1="224.00" x2="241.00" y2="224.00" stroke="#000" stroke-width="1.4"/>
<rect x="237.29" y="217.49" width="3.42" height="3.42" fill="#000"/>
<line x1="164.60" y1="218.50" x2="201.80" y2="221.20" stroke="#000" stroke-width="1.1"/>
<line x1="201.80" y1="221.20" x2="239.00" y2="218.70" stroke="#000" stroke-width="1.1"/>
<circle cx="164.60" cy="218.50" r="1.70" fill="#000"/>
<circle cx="201.80" cy="221.20" r="1.70" fill="#000"/>
<circle cx="239.00" cy="218.70" r="1.70" fill="#000"/>
<line x1="164.60" y1="180.40" x2="201.80" y2="187.30" stroke="#000" stroke-width="1.1" stroke-dasharray="2.6 1.3"/>
<line x1="201.80" y1="187.30" x2="239.00" y2="194.20" stroke="#000" stroke-width="1.1" stroke-dasharray="2.6 1.3"/>
<line x1="164.60" y1="177.40" x2="164.60" y2="183.60" stroke="#000" stroke-width="1.4"/>
<line x1="162.60" y1="177.40" x2="166.60" y2="177.40" stroke="#000" stroke-width="1.4"/>
<line x1="162.60" y1="183.60" x2="166.60" y2="183.60" stroke="#000" stroke-width="1.4"/>
<path d="M164.60 178.53L166.56 181.93L162.64 181.93Z" fill="#000"/>
<line x1="201.80" y1="184.30" x2="201.80" y2="190.20" stroke="#000" stroke-width="1.4"/>
<line x1="199.80" y1="184.30" x2="203.80" y2="184.30" stroke="#000" stroke-width="1.4"/>
<line x1="199.80" y1="190.20" x2="203.80" y2="190.20" stroke="#000" stroke-width="1.4"/>
<path d="M201.80 185.43L203.76 188.83L199.84 188.83Z" fill="#000"/>
<path d="M239.00 192.33L240.96 195.73L237.04 195.73Z" fill="#000"/>
<text x="183.50" y="272.20" font-size="7.65" font-weight="bold" stroke="#000" stroke-width="0.27" text-anchor="start" fill="#000">clone 13</text>
<line x1="138.40" y1="281.90" x2="138.40" y2="354.40" stroke="#000" stroke-width="1.0"/>
<line x1="135.30" y1="353.90" x2="138.40" y2="353.90" stroke="#000" stroke-width="1.0"/>
<text x="134.80" y="355.80" font-size="5.3" font-weight="bold" stroke="#000" stroke-width="0.19" text-anchor="end" fill="#000">0</text>
<line x1="135.30" y1="339.60" x2="138.40" y2="339.60" stroke="#000" stroke-width="1.0"/>
<text x="134.80" y="341.50" font-size="5.3" font-weight="bold" stroke="#000" stroke-width="0.19" text-anchor="end" fill="#000">20</text>
<line x1="135.30" y1="325.30" x2="138.40" y2="325.30" stroke="#000" stroke-width="1.0"/>
<text x="134.80" y="327.20" font-size="5.3" font-weight="bold" stroke="#000" stroke-width="0.19" text-anchor="end" fill="#000">40</text>
<line x1="135.30" y1="311.00" x2="138.40" y2="311.00" stroke="#000" stroke-width="1.0"/>
<text x="134.80" y="312.90" font-size="5.3" font-weight="bold" stroke="#000" stroke-width="0.19" text-anchor="end" fill="#000">60</text>
<line x1="135.30" y1="296.70" x2="138.40" y2="296.70" stroke="#000" stroke-width="1.0"/>
<text x="134.80" y="298.60" font-size="5.3" font-weight="bold" stroke="#000" stroke-width="0.19" text-anchor="end" fill="#000">80</text>
<line x1="135.30" y1="282.40" x2="138.40" y2="282.40" stroke="#000" stroke-width="1.0"/>
<text x="134.80" y="284.30" font-size="5.3" font-weight="bold" stroke="#000" stroke-width="0.19" text-anchor="end" fill="#000">100</text>
<text x="121.50" y="317.80" font-size="6.45" font-weight="bold" stroke="#000" stroke-width="0.23" text-anchor="middle" fill="#000" transform="rotate(-90 121.50 317.80)">% specific lysis</text>
<line x1="146.00" y1="361.80" x2="256.80" y2="361.80" stroke="#000" stroke-width="1.0"/>
<line x1="165.40" y1="361.80" x2="165.40" y2="364.20" stroke="#000" stroke-width="0.9"/>
<text x="165.40" y="370.20" font-size="5.9" font-weight="bold" stroke="#000" stroke-width="0.21" text-anchor="middle" fill="#000">40:1</text>
<line x1="202.80" y1="361.80" x2="202.80" y2="364.20" stroke="#000" stroke-width="0.9"/>
<text x="202.80" y="370.20" font-size="5.9" font-weight="bold" stroke="#000" stroke-width="0.21" text-anchor="middle" fill="#000">8:1</text>
<line x1="239.90" y1="361.80" x2="239.90" y2="364.20" stroke="#000" stroke-width="0.9"/>
<text x="239.90" y="370.20" font-size="5.9" font-weight="bold" stroke="#000" stroke-width="0.21" text-anchor="middle" fill="#000">1.6:1</text>
<text x="202.60" y="380.20" font-size="6.65" font-weight="bold" stroke="#000" stroke-width="0.23" text-anchor="middle" fill="#000">E:T ratio</text>
<line x1="165.40" y1="351.80" x2="202.80" y2="351.50" stroke="#000" stroke-width="0.5"/>
<line x1="202.80" y1="351.50" x2="239.90" y2="352.80" stroke="#000" stroke-width="0.5"/>
<line x1="165.40" y1="345.00" x2="165.40" y2="358.70" stroke="#000" stroke-width="1.4"/>
<line x1="163.30" y1="345.00" x2="167.50" y2="345.00" stroke="#000" stroke-width="1.4"/>
<line x1="163.30" y1="358.70" x2="167.50" y2="358.70" stroke="#000" stroke-width="1.4"/>
<path d="M165.40 353.67L167.36 350.27L163.44 350.27Z" fill="#000"/>
<path d="M202.80 353.37L204.76 349.97L200.84 349.97Z" fill="#000"/>
<path d="M239.90 354.67L241.86 351.27L237.94 351.27Z" fill="#000"/>
<line x1="165.40" y1="351.30" x2="202.80" y2="352.70" stroke="#000" stroke-width="1.0"/>
<line x1="202.80" y1="352.70" x2="239.90" y2="353.80" stroke="#000" stroke-width="1.0"/>
<rect x="163.69" y="349.59" width="3.42" height="3.42" fill="#000"/>
<rect x="201.09" y="350.99" width="3.42" height="3.42" fill="#000"/>
<line x1="239.90" y1="351.30" x2="239.90" y2="355.90" stroke="#000" stroke-width="1.4"/>
<line x1="237.90" y1="351.30" x2="241.90" y2="351.30" stroke="#000" stroke-width="1.4"/>
<line x1="237.90" y1="355.90" x2="241.90" y2="355.90" stroke="#000" stroke-width="1.4"/>
<rect x="238.19" y="352.09" width="3.42" height="3.42" fill="#000"/>
<line x1="165.40" y1="351.60" x2="202.80" y2="352.90" stroke="#000" stroke-width="0.9" stroke-dasharray="2.6 1.3"/>
<line x1="202.80" y1="352.90" x2="239.90" y2="353.40" stroke="#000" stroke-width="0.9" stroke-dasharray="2.6 1.3"/>
<path d="M165.40 349.73L167.36 353.13L163.44 353.13Z" fill="#000"/>
<path d="M202.80 351.03L204.76 354.43L200.84 354.43Z" fill="#000"/>
<path d="M239.90 351.53L241.86 354.93L237.94 354.93Z" fill="#000"/>
<line x1="165.40" y1="349.40" x2="202.80" y2="348.50" stroke="#333" stroke-width="0.7"/>
<line x1="202.80" y1="348.50" x2="239.90" y2="349.00" stroke="#333" stroke-width="0.7"/>
<circle cx="165.40" cy="349.40" r="1.70" fill="#000"/>
<line x1="202.80" y1="346.60" x2="202.80" y2="351.00" stroke="#000" stroke-width="1.4"/>
<line x1="200.80" y1="346.60" x2="204.80" y2="346.60" stroke="#000" stroke-width="1.4"/>
<line x1="200.80" y1="351.00" x2="204.80" y2="351.00" stroke="#000" stroke-width="1.4"/>
<circle cx="202.80" cy="348.50" r="1.70" fill="#000"/>
<circle cx="239.90" cy="349.00" r="1.70" fill="#000"/>
<line x1="266.00" y1="27.90" x2="275.70" y2="27.90" stroke="#000" stroke-width="1.0"/>
<circle cx="270.90" cy="27.90" r="1.70" fill="#000"/>
<text x="280.00" y="30.15" font-size="6.45" text-anchor="start" fill="#111" stroke="#111" stroke-width=".08">Male natural ligand</text>
<line x1="266.00" y1="37.05" x2="275.70" y2="37.05" stroke="#333" stroke-width="0.7"/>
<rect x="269.32" y="35.47" width="3.15" height="3.15" fill="#000"/>
<text x="280.00" y="39.30" font-size="6.45" text-anchor="start" fill="#111" stroke="#111" stroke-width=".08">Female natural ligand</text>
<line x1="266.00" y1="46.20" x2="275.70" y2="46.20" stroke="#000" stroke-width="1.0" stroke-dasharray="2.2 1.4"/>
<path d="M270.90 44.66L272.51 47.46L269.29 47.46Z" fill="#000"/>
<text x="280.00" y="48.45" font-size="6.45" text-anchor="start" fill="#111" stroke="#111" stroke-width=".08">Female cells + SMCY</text>
<line x1="266.00" y1="55.35" x2="275.70" y2="55.35" stroke="#333" stroke-width="0.7"/>
<path d="M270.90 56.89L272.51 54.09L269.29 54.09Z" fill="#000"/>
<text x="280.00" y="57.60" font-size="6.45" text-anchor="start" fill="#111" stroke="#111" stroke-width=".08">Female cells + SMCX</text>
<line x1="265.20" y1="156.60" x2="274.90" y2="156.60" stroke="#000" stroke-width="1.0"/>
<circle cx="270.10" cy="156.60" r="1.70" fill="#000"/>
<text x="279.20" y="158.85" font-size="6.45" text-anchor="start" fill="#111" stroke="#111" stroke-width=".08">Male natural ligand</text>
<line x1="265.20" y1="165.75" x2="274.90" y2="165.75" stroke="#333" stroke-width="0.7"/>
<rect x="268.52" y="164.18" width="3.15" height="3.15" fill="#000"/>
<text x="279.20" y="168.00" font-size="6.45" text-anchor="start" fill="#111" stroke="#111" stroke-width=".08">Female natural ligand</text>
<line x1="265.20" y1="174.90" x2="274.90" y2="174.90" stroke="#000" stroke-width="1.0" stroke-dasharray="2.2 1.4"/>
<path d="M270.10 173.36L271.71 176.16L268.49 176.16Z" fill="#000"/>
<text x="279.20" y="177.15" font-size="6.45" text-anchor="start" fill="#111" stroke="#111" stroke-width=".08">Female cells + SMCY</text>
<line x1="265.20" y1="184.05" x2="274.90" y2="184.05" stroke="#333" stroke-width="0.7"/>
<path d="M270.10 185.59L271.71 182.79L268.49 182.79Z" fill="#000"/>
<text x="279.20" y="186.30" font-size="6.45" text-anchor="start" fill="#111" stroke="#111" stroke-width=".08">Female cells + SMCX</text>
<line x1="266.00" y1="287.80" x2="275.70" y2="287.80" stroke="#000" stroke-width="1.0"/>
<circle cx="270.90" cy="287.80" r="1.70" fill="#000"/>
<text x="280.00" y="290.05" font-size="6.45" text-anchor="start" fill="#111" stroke="#111" stroke-width=".08">Male natural ligand</text>
<line x1="266.00" y1="296.95" x2="275.70" y2="296.95" stroke="#333" stroke-width="0.7"/>
<rect x="269.32" y="295.38" width="3.15" height="3.15" fill="#000"/>
<text x="280.00" y="299.20" font-size="6.45" text-anchor="start" fill="#111" stroke="#111" stroke-width=".08">Female natural ligand</text>
<line x1="266.00" y1="306.10" x2="275.70" y2="306.10" stroke="#000" stroke-width="1.0" stroke-dasharray="2.2 1.4"/>
<path d="M270.90 304.56L272.51 307.36L269.29 307.36Z" fill="#000"/>
<text x="280.00" y="308.35" font-size="6.45" text-anchor="start" fill="#111" stroke="#111" stroke-width=".08">Female cells + SMCY</text>
<line x1="266.00" y1="315.25" x2="275.70" y2="315.25" stroke="#333" stroke-width="0.7"/>
<path d="M270.90 316.79L272.51 313.99L269.29 313.99Z" fill="#000"/>
<text x="280.00" y="317.50" font-size="6.45" text-anchor="start" fill="#111" stroke="#111" stroke-width=".08">Female cells + SMCX</text>
<text x="437.30" y="6.90" font-size="7.4" font-weight="bold" stroke="#000" stroke-width="0.26" text-anchor="start" fill="#000">clone 11</text>
<line x1="403.60" y1="15.40" x2="403.60" y2="86.40" stroke="#000" stroke-width="1.0"/>
<line x1="400.60" y1="85.90" x2="403.60" y2="85.90" stroke="#000" stroke-width="1.0"/>
<text x="400.40" y="87.85" font-size="5.55" font-weight="bold" stroke="#000" stroke-width="0.19" text-anchor="end" fill="#000">0</text>
<line x1="400.60" y1="68.40" x2="403.60" y2="68.40" stroke="#000" stroke-width="1.0"/>
<text x="400.40" y="70.35" font-size="5.55" font-weight="bold" stroke="#000" stroke-width="0.19" text-anchor="end" fill="#000">20000</text>
<line x1="400.60" y1="50.90" x2="403.60" y2="50.90" stroke="#000" stroke-width="1.0"/>
<text x="400.40" y="52.85" font-size="5.55" font-weight="bold" stroke="#000" stroke-width="0.19" text-anchor="end" fill="#000">40000</text>
<line x1="400.60" y1="33.40" x2="403.60" y2="33.40" stroke="#000" stroke-width="1.0"/>
<text x="400.40" y="35.35" font-size="5.55" font-weight="bold" stroke="#000" stroke-width="0.19" text-anchor="end" fill="#000">60000</text>
<line x1="400.60" y1="15.90" x2="403.60" y2="15.90" stroke="#000" stroke-width="1.0"/>
<text x="400.40" y="17.85" font-size="5.55" font-weight="bold" stroke="#000" stroke-width="0.19" text-anchor="end" fill="#000">80000</text>
<text x="381.60" y="51.40" font-size="6.25" font-weight="bold" stroke="#000" stroke-width="0.22" text-anchor="middle" fill="#000" transform="rotate(-90 381.60 51.40)">3HThy incorporation [cpm]</text>
<line x1="410.40" y1="93.80" x2="520.00" y2="93.80" stroke="#000" stroke-width="1.0"/>
<rect x="413.10" y="34.30" width="10" height="52.10" fill="#000"/>
<line x1="418.10" y1="28.80" x2="418.10" y2="34.30" stroke="#000" stroke-width="1.25"/>
<line x1="414.90" y1="28.80" x2="421.30" y2="28.80" stroke="#000" stroke-width="1.3"/>
<line x1="418.10" y1="93.80" x2="418.10" y2="95.80" stroke="#000" stroke-width="0.9"/>
<text x="420.50" y="101.50" font-size="5.9" font-weight="bold" stroke="#000" stroke-width="0.21" text-anchor="end" fill="#000" transform="rotate(-45 420.50 101.50)">Male EBV</text>
<rect x="426.70" y="43.10" width="10" height="43.30" fill="#000"/>
<line x1="431.70" y1="40.80" x2="431.70" y2="43.10" stroke="#000" stroke-width="1.25"/>
<line x1="428.50" y1="40.80" x2="434.90" y2="40.80" stroke="#000" stroke-width="1.3"/>
<line x1="431.70" y1="93.80" x2="431.70" y2="95.80" stroke="#000" stroke-width="0.9"/>
<text x="434.10" y="101.50" font-size="5.9" font-weight="bold" stroke="#000" stroke-width="0.21" text-anchor="end" fill="#000" transform="rotate(-45 434.10 101.50)">M EBV + PHA</text>
<rect x="440.00" y="84.90" width="10" height="1.50" fill="#000"/>
<line x1="445.00" y1="93.80" x2="445.00" y2="95.80" stroke="#000" stroke-width="0.9"/>
<text x="447.40" y="101.50" font-size="5.9" font-weight="bold" stroke="#000" stroke-width="0.21" text-anchor="end" fill="#000" transform="rotate(-45 447.40 101.50)">Female EBV</text>
<rect x="453.50" y="84.90" width="10" height="1.50" fill="#000"/>
<line x1="458.50" y1="93.80" x2="458.50" y2="95.80" stroke="#000" stroke-width="0.9"/>
<text x="460.90" y="101.50" font-size="5.9" font-weight="bold" stroke="#000" stroke-width="0.21" text-anchor="end" fill="#000" transform="rotate(-45 460.90 101.50)">F EBV + SMCX</text>
<rect x="467.10" y="47.00" width="10" height="39.40" fill="#000"/>
<line x1="472.10" y1="46.00" x2="472.10" y2="47.00" stroke="#000" stroke-width="1.25"/>
<line x1="468.90" y1="46.00" x2="475.30" y2="46.00" stroke="#000" stroke-width="1.3"/>
<line x1="472.10" y1="93.80" x2="472.10" y2="95.80" stroke="#000" stroke-width="0.9"/>
<text x="474.50" y="101.50" font-size="5.9" font-weight="bold" stroke="#000" stroke-width="0.21" text-anchor="end" fill="#000" transform="rotate(-45 474.50 101.50)">F EBV + SMCY</text>
<rect x="480.40" y="58.10" width="10" height="28.30" fill="#000"/>
<line x1="485.40" y1="55.30" x2="485.40" y2="58.10" stroke="#000" stroke-width="1.25"/>
<line x1="482.20" y1="55.30" x2="488.60" y2="55.30" stroke="#000" stroke-width="1.3"/>
<line x1="485.40" y1="93.80" x2="485.40" y2="95.80" stroke="#000" stroke-width="0.9"/>
<text x="487.80" y="101.50" font-size="5.9" font-weight="bold" stroke="#000" stroke-width="0.21" text-anchor="end" fill="#000" transform="rotate(-45 487.80 101.50)">F EBV + PHA</text>
<rect x="494.20" y="54.60" width="10" height="31.80" fill="#000"/>
<line x1="499.20" y1="52.30" x2="499.20" y2="54.60" stroke="#000" stroke-width="1.25"/>
<line x1="496.00" y1="52.30" x2="502.40" y2="52.30" stroke="#000" stroke-width="1.3"/>
<line x1="499.20" y1="93.80" x2="499.20" y2="95.80" stroke="#000" stroke-width="0.9"/>
<text x="501.60" y="101.50" font-size="5.9" font-weight="bold" stroke="#000" stroke-width="0.21" text-anchor="end" fill="#000" transform="rotate(-45 501.60 101.50)">IL-2</text>
<rect x="507.70" y="84.90" width="10" height="1.50" fill="#000"/>
<line x1="512.70" y1="93.80" x2="512.70" y2="95.80" stroke="#000" stroke-width="0.9"/>
<text x="515.10" y="101.50" font-size="5.9" font-weight="bold" stroke="#000" stroke-width="0.21" text-anchor="end" fill="#000" transform="rotate(-45 515.10 101.50)">-</text>
<text x="437.40" y="139.20" font-size="7.4" font-weight="bold" stroke="#000" stroke-width="0.26" text-anchor="start" fill="#000">clone 77</text>
<line x1="403.80" y1="147.70" x2="403.80" y2="219.10" stroke="#000" stroke-width="1.0"/>
<line x1="400.80" y1="218.60" x2="403.80" y2="218.60" stroke="#000" stroke-width="1.0"/>
<text x="400.60" y="220.55" font-size="5.55" font-weight="bold" stroke="#000" stroke-width="0.19" text-anchor="end" fill="#000">0</text>
<line x1="400.80" y1="195.13" x2="403.80" y2="195.13" stroke="#000" stroke-width="1.0"/>
<text x="400.60" y="197.08" font-size="5.55" font-weight="bold" stroke="#000" stroke-width="0.19" text-anchor="end" fill="#000">10000</text>
<line x1="400.80" y1="171.67" x2="403.80" y2="171.67" stroke="#000" stroke-width="1.0"/>
<text x="400.60" y="173.62" font-size="5.55" font-weight="bold" stroke="#000" stroke-width="0.19" text-anchor="end" fill="#000">20000</text>
<line x1="400.80" y1="148.20" x2="403.80" y2="148.20" stroke="#000" stroke-width="1.0"/>
<text x="400.60" y="150.15" font-size="5.55" font-weight="bold" stroke="#000" stroke-width="0.19" text-anchor="end" fill="#000">30000</text>
<text x="381.60" y="185.20" font-size="6.25" font-weight="bold" stroke="#000" stroke-width="0.22" text-anchor="middle" fill="#000" transform="rotate(-90 381.60 185.20)">3HThy incorporation [cpm]</text>
<line x1="410.40" y1="226.00" x2="520.00" y2="226.00" stroke="#000" stroke-width="1.0"/>
<rect x="413.10" y="212.30" width="10" height="6.80" fill="#000"/>
<line x1="418.10" y1="226.00" x2="418.10" y2="228.00" stroke="#000" stroke-width="0.9"/>
<text x="420.50" y="233.70" font-size="5.9" font-weight="bold" stroke="#000" stroke-width="0.21" text-anchor="end" fill="#000" transform="rotate(-45 420.50 233.70)">Male EBV</text>
<rect x="426.70" y="160.10" width="10" height="59.00" fill="#000"/>
<line x1="431.70" y1="158.50" x2="431.70" y2="160.10" stroke="#000" stroke-width="1.25"/>
<line x1="428.50" y1="158.50" x2="434.90" y2="158.50" stroke="#000" stroke-width="1.3"/>
<line x1="431.70" y1="226.00" x2="431.70" y2="228.00" stroke="#000" stroke-width="0.9"/>
<text x="434.10" y="233.70" font-size="5.9" font-weight="bold" stroke="#000" stroke-width="0.21" text-anchor="end" fill="#000" transform="rotate(-45 434.10 233.70)">M EBV + PHA</text>
<rect x="440.00" y="212.80" width="10" height="6.30" fill="#000"/>
<line x1="445.00" y1="226.00" x2="445.00" y2="228.00" stroke="#000" stroke-width="0.9"/>
<text x="447.40" y="233.70" font-size="5.9" font-weight="bold" stroke="#000" stroke-width="0.21" text-anchor="end" fill="#000" transform="rotate(-45 447.40 233.70)">Female EBV</text>
<rect x="453.50" y="212.80" width="10" height="6.30" fill="#000"/>
<line x1="458.50" y1="226.00" x2="458.50" y2="228.00" stroke="#000" stroke-width="0.9"/>
<text x="460.90" y="233.70" font-size="5.9" font-weight="bold" stroke="#000" stroke-width="0.21" text-anchor="end" fill="#000" transform="rotate(-45 460.90 233.70)">F EBV + SMCX</text>
<rect x="467.10" y="193.10" width="10" height="26.00" fill="#000"/>
<line x1="472.10" y1="188.50" x2="472.10" y2="193.10" stroke="#000" stroke-width="1.25"/>
<line x1="468.90" y1="188.50" x2="475.30" y2="188.50" stroke="#000" stroke-width="1.3"/>
<line x1="472.10" y1="226.00" x2="472.10" y2="228.00" stroke="#000" stroke-width="0.9"/>
<text x="474.50" y="233.70" font-size="5.9" font-weight="bold" stroke="#000" stroke-width="0.21" text-anchor="end" fill="#000" transform="rotate(-45 474.50 233.70)">F EBV + SMCY</text>
<rect x="480.40" y="177.40" width="10" height="41.70" fill="#000"/>
<line x1="485.40" y1="167.20" x2="485.40" y2="177.40" stroke="#000" stroke-width="1.25"/>
<line x1="482.20" y1="167.20" x2="488.60" y2="167.20" stroke="#000" stroke-width="1.3"/>
<line x1="485.40" y1="226.00" x2="485.40" y2="228.00" stroke="#000" stroke-width="0.9"/>
<text x="487.80" y="233.70" font-size="5.9" font-weight="bold" stroke="#000" stroke-width="0.21" text-anchor="end" fill="#000" transform="rotate(-45 487.80 233.70)">F EBV + PHA</text>
<rect x="494.20" y="185.70" width="10" height="33.40" fill="#000"/>
<line x1="499.20" y1="173.00" x2="499.20" y2="185.70" stroke="#000" stroke-width="1.25"/>
<line x1="496.00" y1="173.00" x2="502.40" y2="173.00" stroke="#000" stroke-width="1.3"/>
<line x1="499.20" y1="226.00" x2="499.20" y2="228.00" stroke="#000" stroke-width="0.9"/>
<text x="501.60" y="233.70" font-size="5.9" font-weight="bold" stroke="#000" stroke-width="0.21" text-anchor="end" fill="#000" transform="rotate(-45 501.60 233.70)">IL-2</text>
<rect x="507.70" y="217.40" width="10" height="1.70" fill="#000"/>
<line x1="512.70" y1="226.00" x2="512.70" y2="228.00" stroke="#000" stroke-width="0.9"/>
<text x="515.10" y="233.70" font-size="5.9" font-weight="bold" stroke="#000" stroke-width="0.21" text-anchor="end" fill="#000" transform="rotate(-45 515.10 233.70)">-</text>
<text x="437.40" y="270.50" font-size="7.4" font-weight="bold" stroke="#000" stroke-width="0.26" text-anchor="start" fill="#000">clone 13</text>
<line x1="403.80" y1="279.30" x2="403.80" y2="349.90" stroke="#000" stroke-width="1.0"/>
<line x1="400.80" y1="349.40" x2="403.80" y2="349.40" stroke="#000" stroke-width="1.0"/>
<text x="400.60" y="351.35" font-size="5.55" font-weight="bold" stroke="#000" stroke-width="0.19" text-anchor="end" fill="#000">0</text>
<line x1="400.80" y1="332.00" x2="403.80" y2="332.00" stroke="#000" stroke-width="1.0"/>
<text x="400.60" y="333.95" font-size="5.55" font-weight="bold" stroke="#000" stroke-width="0.19" text-anchor="end" fill="#000">20000</text>
<line x1="400.80" y1="314.60" x2="403.80" y2="314.60" stroke="#000" stroke-width="1.0"/>
<text x="400.60" y="316.55" font-size="5.55" font-weight="bold" stroke="#000" stroke-width="0.19" text-anchor="end" fill="#000">40000</text>
<line x1="400.80" y1="297.20" x2="403.80" y2="297.20" stroke="#000" stroke-width="1.0"/>
<text x="400.60" y="299.15" font-size="5.55" font-weight="bold" stroke="#000" stroke-width="0.19" text-anchor="end" fill="#000">60000</text>
<line x1="400.80" y1="279.80" x2="403.80" y2="279.80" stroke="#000" stroke-width="1.0"/>
<text x="400.60" y="281.75" font-size="5.55" font-weight="bold" stroke="#000" stroke-width="0.19" text-anchor="end" fill="#000">80000</text>
<text x="381.60" y="315.20" font-size="6.25" font-weight="bold" stroke="#000" stroke-width="0.22" text-anchor="middle" fill="#000" transform="rotate(-90 381.60 315.20)">3HThy incorporation [cpm]</text>
<line x1="410.40" y1="357.30" x2="520.00" y2="357.30" stroke="#000" stroke-width="1.0"/>
<rect x="413.10" y="348.10" width="10" height="1.80" fill="#000"/>
<line x1="418.10" y1="357.30" x2="418.10" y2="359.30" stroke="#000" stroke-width="0.9"/>
<text x="420.50" y="365.00" font-size="5.9" font-weight="bold" stroke="#000" stroke-width="0.21" text-anchor="end" fill="#000" transform="rotate(-45 420.50 365.00)">Male EBV</text>
<rect x="426.70" y="305.00" width="10" height="44.90" fill="#000"/>
<line x1="431.70" y1="302.30" x2="431.70" y2="305.00" stroke="#000" stroke-width="1.25"/>
<line x1="428.50" y1="302.30" x2="434.90" y2="302.30" stroke="#000" stroke-width="1.3"/>
<line x1="431.70" y1="357.30" x2="431.70" y2="359.30" stroke="#000" stroke-width="0.9"/>
<text x="434.10" y="365.00" font-size="5.9" font-weight="bold" stroke="#000" stroke-width="0.21" text-anchor="end" fill="#000" transform="rotate(-45 434.10 365.00)">M EBV + PHA</text>
<rect x="440.00" y="348.30" width="10" height="1.60" fill="#000"/>
<line x1="445.00" y1="357.30" x2="445.00" y2="359.30" stroke="#000" stroke-width="0.9"/>
<text x="447.40" y="365.00" font-size="5.9" font-weight="bold" stroke="#000" stroke-width="0.21" text-anchor="end" fill="#000" transform="rotate(-45 447.40 365.00)">Female EBV</text>
<rect x="453.50" y="348.50" width="10" height="1.40" fill="#000"/>
<line x1="458.50" y1="357.30" x2="458.50" y2="359.30" stroke="#000" stroke-width="0.9"/>
<text x="460.90" y="365.00" font-size="5.9" font-weight="bold" stroke="#000" stroke-width="0.21" text-anchor="end" fill="#000" transform="rotate(-45 460.90 365.00)">F EBV + SMCX</text>
<rect x="467.10" y="348.40" width="10" height="1.50" fill="#000"/>
<line x1="472.10" y1="357.30" x2="472.10" y2="359.30" stroke="#000" stroke-width="0.9"/>
<text x="474.50" y="365.00" font-size="5.9" font-weight="bold" stroke="#000" stroke-width="0.21" text-anchor="end" fill="#000" transform="rotate(-45 474.50 365.00)">F EBV + SMCY</text>
<rect x="480.40" y="321.80" width="10" height="28.10" fill="#000"/>
<line x1="485.40" y1="321.10" x2="485.40" y2="321.80" stroke="#000" stroke-width="1.25"/>
<line x1="482.20" y1="321.10" x2="488.60" y2="321.10" stroke="#000" stroke-width="1.3"/>
<line x1="485.40" y1="357.30" x2="485.40" y2="359.30" stroke="#000" stroke-width="0.9"/>
<text x="487.80" y="365.00" font-size="5.9" font-weight="bold" stroke="#000" stroke-width="0.21" text-anchor="end" fill="#000" transform="rotate(-45 487.80 365.00)">F EBV + PHA</text>
<rect x="494.20" y="327.20" width="10" height="22.70" fill="#000"/>
<line x1="499.20" y1="324.20" x2="499.20" y2="327.20" stroke="#000" stroke-width="1.25"/>
<line x1="496.00" y1="324.20" x2="502.40" y2="324.20" stroke="#000" stroke-width="1.3"/>
<line x1="499.20" y1="357.30" x2="499.20" y2="359.30" stroke="#000" stroke-width="0.9"/>
<text x="501.60" y="365.00" font-size="5.9" font-weight="bold" stroke="#000" stroke-width="0.21" text-anchor="end" fill="#000" transform="rotate(-45 501.60 365.00)">IL-2</text>
<rect x="507.70" y="348.50" width="10" height="1.40" fill="#000"/>
<line x1="512.70" y1="357.30" x2="512.70" y2="359.30" stroke="#000" stroke-width="0.9"/>
<text x="515.10" y="365.00" font-size="5.9" font-weight="bold" stroke="#000" stroke-width="0.21" text-anchor="end" fill="#000" transform="rotate(-45 515.10 365.00)">-</text>
<line x1="512.50" y1="188.50" x2="512.50" y2="217.20" stroke="#eee" stroke-width="0.6"/>
</g>
</svg>
</body></html>
